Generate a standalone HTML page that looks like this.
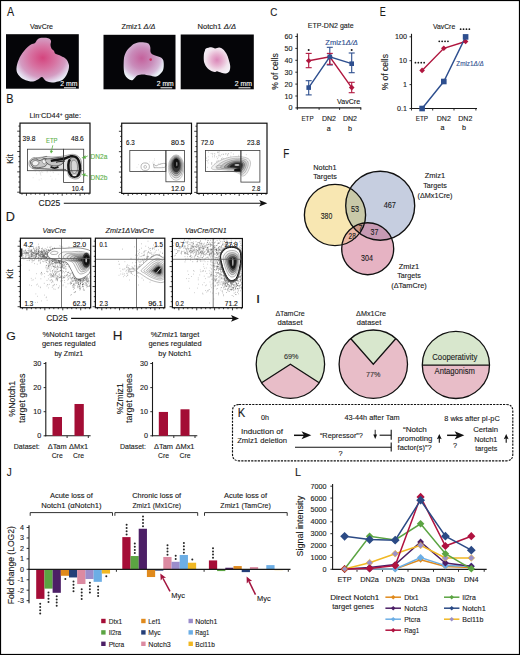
<!DOCTYPE html>
<html><head><meta charset="utf-8"><style>
html,body{margin:0;padding:0;background:#fff;}
svg{display:block;}
text{font-family:"Liberation Sans", sans-serif;}
</style></head><body>
<svg width="520" height="655" viewBox="0 0 520 655">
<defs><radialGradient id="g1" cx="0.5" cy="0.45" r="0.62"><stop offset="0" stop-color="#d4457e"/><stop offset="0.4" stop-color="#d773a2"/><stop offset="0.7" stop-color="#d49cc2"/><stop offset="0.88" stop-color="#e2d6ea"/><stop offset="1" stop-color="#f0f5fa"/></radialGradient>
<radialGradient id="g2" cx="0.45" cy="0.42" r="0.62"><stop offset="0" stop-color="#c4619c"/><stop offset="0.45" stop-color="#c98cba"/><stop offset="0.75" stop-color="#d6b9d8"/><stop offset="0.9" stop-color="#e6e8f2"/><stop offset="1" stop-color="#f2f6fa"/></radialGradient>
<radialGradient id="g3" cx="0.5" cy="0.48" r="0.6"><stop offset="0" stop-color="#da86b8"/><stop offset="0.35" stop-color="#e6b0cf"/><stop offset="0.7" stop-color="#f1e2ec"/><stop offset="1" stop-color="#f4f2f8"/></radialGradient><clipPath id="fc0"><rect x="20" y="123.1" width="70" height="70.1"/></clipPath><clipPath id="fc1"><rect x="121.7" y="123.2" width="69.8" height="70.2"/></clipPath><clipPath id="fc2"><rect x="197" y="123.2" width="70" height="70.2"/></clipPath><clipPath id="fc3"><rect x="20.4" y="238.2" width="70.30000000000001" height="69.5"/></clipPath><clipPath id="fc4"><rect x="95.4" y="238.2" width="69.4" height="69.5"/></clipPath><clipPath id="fc5"><rect x="172.4" y="238.5" width="70.0" height="69.19999999999999"/></clipPath><clipPath id="cY"><circle cx="335" cy="215" r="30.6"/></clipPath>
<clipPath id="cB"><circle cx="380.2" cy="205.7" r="34.5"/></clipPath>
<clipPath id="cP"><circle cx="367.7" cy="248.7" r="26"/></clipPath></defs>
<rect width="520" height="655" fill="#fff"/>
<rect x="0.5" y="0.5" width="519" height="654" fill="none" stroke="#000" stroke-width="1.2" />
<text x="7.08" y="16" font-size="12.2" text-anchor="start" fill="#1a1a1a" stroke="#1a1a1a" stroke-width="0.12" textLength="7.15" lengthAdjust="spacingAndGlyphs" >A</text>
<text x="6.3" y="102.7" font-size="12.0" text-anchor="start" fill="#1a1a1a" stroke="#1a1a1a" stroke-width="0.12" textLength="7.29" lengthAdjust="spacingAndGlyphs" >B</text>
<text x="270.3" y="16.1" font-size="10.4" text-anchor="start" fill="#1a1a1a" stroke="#1a1a1a" stroke-width="0.12" textLength="7.08" lengthAdjust="spacingAndGlyphs" >C</text>
<text x="5.86" y="220.6" font-size="12.3" text-anchor="start" fill="#1a1a1a" stroke="#1a1a1a" stroke-width="0.12" textLength="9.16" lengthAdjust="spacingAndGlyphs" >D</text>
<text x="379.76" y="15.9" font-size="12.2" text-anchor="start" fill="#1a1a1a" stroke="#1a1a1a" stroke-width="0.12" textLength="6.04" lengthAdjust="spacingAndGlyphs" >E</text>
<text x="283.19" y="157.5" font-size="11.9" text-anchor="start" fill="#1a1a1a" stroke="#1a1a1a" stroke-width="0.12" textLength="6.01" lengthAdjust="spacingAndGlyphs" >F</text>
<text x="6.39" y="340" font-size="11.8" text-anchor="start" fill="#1a1a1a" stroke="#1a1a1a" stroke-width="0.12" textLength="9.55" lengthAdjust="spacingAndGlyphs" >G</text>
<text x="112.65" y="340" font-size="12.2" text-anchor="start" fill="#1a1a1a" stroke="#1a1a1a" stroke-width="0.12" textLength="9.7" lengthAdjust="spacingAndGlyphs" >H</text>
<text x="255.9" y="302.7" font-size="11.5" text-anchor="start" fill="#1a1a1a" stroke="#1a1a1a" stroke-width="0.12" textLength="4.16" lengthAdjust="spacingAndGlyphs" >I</text>
<text x="6.74" y="475.9" font-size="11.3" text-anchor="start" fill="#1a1a1a" stroke="#1a1a1a" stroke-width="0.12" textLength="5.01" lengthAdjust="spacingAndGlyphs" >J</text>
<text x="237.68" y="417" font-size="12.2" text-anchor="start" fill="#1a1a1a" stroke="#1a1a1a" stroke-width="0.12" textLength="7.46" lengthAdjust="spacingAndGlyphs" >K</text>
<text x="295.12" y="475.9" font-size="11.3" text-anchor="start" fill="#1a1a1a" stroke="#1a1a1a" stroke-width="0.12" textLength="5.94" lengthAdjust="spacingAndGlyphs" >L</text>
<text x="41.5" y="28.7" font-size="7.5" text-anchor="middle" fill="#1a1a1a" stroke="#1a1a1a" stroke-width="0.12" textLength="23" lengthAdjust="spacingAndGlyphs" >VavCre</text>
<text x="121.5" y="29" font-size="7.5" text-anchor="start" fill="#1a1a1a" stroke="#1a1a1a" stroke-width="0.12" textLength="34" lengthAdjust="spacingAndGlyphs" >Zmiz1 <tspan font-style="italic">Δ/Δ</tspan></text>
<text x="197.5" y="29" font-size="7.5" text-anchor="start" fill="#1a1a1a" stroke="#1a1a1a" stroke-width="0.12" textLength="38.5" lengthAdjust="spacingAndGlyphs" >Notch1 <tspan font-style="italic">Δ/Δ</tspan></text>
<rect x="6" y="34.2" width="72.8" height="54.5" fill="#050508" stroke="none" stroke-width="1" />
<rect x="103.5" y="34.8" width="72" height="54.5" fill="#050508" stroke="none" stroke-width="1" />
<rect x="180.7" y="34.5" width="73.1" height="54.8" fill="#050508" stroke="none" stroke-width="1" />
<path d="M37.0,40.0 C37.8,39.2 38.7,38.4 40.0,38.0 C41.3,37.6 43.5,37.6 45.0,37.7 C46.5,37.8 48.0,38.0 49.0,38.5 C50.0,39.0 50.8,39.9 51.0,41.0 C51.2,42.1 50.4,43.8 50.5,45.0 C50.6,46.2 50.9,47.5 51.5,48.5 C52.1,49.5 53.3,50.1 54.0,51.0 C54.7,51.9 54.3,53.0 55.5,53.8 C56.7,54.6 59.2,55.1 61.0,56.0 C62.8,56.9 64.7,57.7 66.0,59.0 C67.3,60.3 68.2,62.3 68.7,64.0 C69.2,65.7 69.1,67.2 68.7,69.0 C68.3,70.8 67.5,73.2 66.5,75.0 C65.5,76.8 64.4,78.4 63.0,79.5 C61.6,80.6 59.8,81.0 58.0,81.5 C56.2,82.0 54.0,82.6 52.0,82.5 C50.0,82.4 47.7,81.9 46.0,81.0 C44.3,80.1 43.3,77.2 42.0,77.0 C40.7,76.8 39.5,78.8 38.0,79.5 C36.5,80.2 34.6,81.2 33.0,81.5 C31.4,81.8 30.2,81.4 28.5,81.0 C26.8,80.6 24.7,80.0 23.0,79.0 C21.3,78.0 19.6,76.5 18.5,75.0 C17.4,73.5 16.7,72.0 16.5,70.0 C16.3,68.0 16.8,65.3 17.5,63.0 C18.2,60.7 19.4,58.0 20.5,56.0 C21.6,54.0 22.9,52.5 24.0,51.0 C25.1,49.5 26.2,48.3 27.4,47.2 C28.6,46.1 29.7,45.2 31.0,44.5 C32.3,43.8 34.0,43.8 35.0,43.0 C36.0,42.2 36.2,40.8 37.0,40.0Z" fill="url(#g1)" stroke="none" stroke-width="1" />
<path d="M141.1,42.3 C143.2,42.3 146.3,42.6 147.8,43.3 C149.3,44.0 149.7,45.2 150.2,46.7 C150.7,48.2 150.0,51.0 150.7,52.4 C151.4,53.8 152.9,54.5 154.5,55.3 C156.1,56.1 158.9,56.4 160.3,57.2 C161.8,58.0 162.6,58.5 163.2,60.1 C163.8,61.7 163.9,64.9 163.7,66.8 C163.5,68.7 163.4,70.1 162.2,71.7 C161.0,73.3 158.6,75.9 156.5,76.5 C154.4,77.1 151.9,75.8 149.7,75.5 C147.4,75.2 145.1,74.5 143.0,74.5 C140.9,74.5 139.1,74.5 137.2,75.5 C135.3,76.5 133.6,80.5 131.5,80.3 C129.4,80.1 126.0,77.9 124.7,74.5 C123.4,71.1 123.6,63.9 123.8,60.1 C124.0,56.4 124.9,54.2 126.0,52.0 C127.1,49.8 129.0,48.1 130.5,46.7 C132.0,45.3 133.2,44.2 135.0,43.5 C136.8,42.8 139.0,42.3 141.1,42.3Z" fill="url(#g2)" stroke="none" stroke-width="1" />
<circle cx="150.7" cy="59.6" r="1.3" fill="#d02050" opacity="0.8"/>
<path d="M206.0,48.6 C207.1,48.0 209.7,47.3 211.2,47.3 C212.7,47.3 213.9,48.4 215.2,48.4 C216.5,48.4 217.9,47.4 219.2,47.5 C220.5,47.6 221.7,48.3 222.9,49.3 C224.1,50.3 225.5,52.0 226.5,53.7 C227.5,55.4 228.1,57.4 228.7,59.5 C229.3,61.6 230.1,64.1 230.2,66.1 C230.3,68.0 230.1,70.0 229.4,71.2 C228.7,72.4 227.1,73.2 225.8,73.4 C224.5,73.7 222.9,73.1 221.4,72.7 C219.9,72.3 218.1,71.3 217.0,71.2 C215.9,71.1 215.7,72.0 214.8,72.0 C214.0,72.0 213.1,71.8 211.9,71.2 C210.7,70.6 208.8,69.8 207.5,68.3 C206.2,66.8 204.8,64.7 204.2,62.5 C203.6,60.3 203.7,57.2 203.8,55.2 C203.9,53.2 204.5,51.9 204.9,50.8 C205.3,49.7 204.9,49.2 206.0,48.6Z" fill="url(#g3)" stroke="none" stroke-width="1" />
<text x="60.3" y="85.8" font-size="7.3" text-anchor="start" fill="#fff" stroke="#fff" stroke-width="0.12" textLength="17.200000000000003" lengthAdjust="spacingAndGlyphs" >2 mm</text>
<line x1="64" y1="87.8" x2="76" y2="87.8" stroke="#fff" stroke-width="1" />
<text x="156.8" y="86.1" font-size="7.3" text-anchor="start" fill="#fff" stroke="#fff" stroke-width="0.12" textLength="16.899999999999977" lengthAdjust="spacingAndGlyphs" >2 mm</text>
<line x1="160.5" y1="87.8" x2="172.2" y2="87.8" stroke="#fff" stroke-width="1" />
<text x="234.8" y="86.1" font-size="7.3" text-anchor="start" fill="#fff" stroke="#fff" stroke-width="0.12" textLength="17.19999999999999" lengthAdjust="spacingAndGlyphs" >2 mm</text>
<line x1="238.5" y1="87.8" x2="250.5" y2="87.8" stroke="#fff" stroke-width="1" />
<text x="307.8" y="28.4" font-size="7.4" text-anchor="start" fill="#1a1a1a" stroke="#1a1a1a" stroke-width="0.12" textLength="45.8" lengthAdjust="spacingAndGlyphs" >ETP-DN2 gate</text>
<line x1="297.3" y1="33.5" x2="297.3" y2="108.4" stroke="#1a1a1a" stroke-width="1.1" />
<line x1="295.3" y1="107.9" x2="297.3" y2="107.9" stroke="#1a1a1a" stroke-width="0.9" />
<text x="292.6" y="110.4" font-size="7.2" text-anchor="end" fill="#1a1a1a" stroke="#1a1a1a" stroke-width="0.12" >0</text>
<line x1="295.3" y1="96.0" x2="297.3" y2="96.0" stroke="#1a1a1a" stroke-width="0.9" />
<text x="292.6" y="98.5" font-size="7.2" text-anchor="end" fill="#1a1a1a" stroke="#1a1a1a" stroke-width="0.12" >10</text>
<line x1="295.3" y1="84.10000000000001" x2="297.3" y2="84.10000000000001" stroke="#1a1a1a" stroke-width="0.9" />
<text x="292.6" y="86.60000000000001" font-size="7.2" text-anchor="end" fill="#1a1a1a" stroke="#1a1a1a" stroke-width="0.12" >20</text>
<line x1="295.3" y1="72.20000000000002" x2="297.3" y2="72.20000000000002" stroke="#1a1a1a" stroke-width="0.9" />
<text x="292.6" y="74.70000000000002" font-size="7.2" text-anchor="end" fill="#1a1a1a" stroke="#1a1a1a" stroke-width="0.12" >30</text>
<line x1="295.3" y1="60.30000000000001" x2="297.3" y2="60.30000000000001" stroke="#1a1a1a" stroke-width="0.9" />
<text x="292.6" y="62.80000000000001" font-size="7.2" text-anchor="end" fill="#1a1a1a" stroke="#1a1a1a" stroke-width="0.12" >40</text>
<line x1="295.3" y1="48.400000000000006" x2="297.3" y2="48.400000000000006" stroke="#1a1a1a" stroke-width="0.9" />
<text x="292.6" y="50.900000000000006" font-size="7.2" text-anchor="end" fill="#1a1a1a" stroke="#1a1a1a" stroke-width="0.12" >50</text>
<line x1="295.3" y1="36.500000000000014" x2="297.3" y2="36.500000000000014" stroke="#1a1a1a" stroke-width="0.9" />
<text x="292.6" y="39.000000000000014" font-size="7.2" text-anchor="end" fill="#1a1a1a" stroke="#1a1a1a" stroke-width="0.12" >60</text>
<line x1="296.8" y1="107.9" x2="361.3" y2="107.9" stroke="#1a1a1a" stroke-width="1.1" />
<line x1="297.3" y1="107.9" x2="297.3" y2="109.9" stroke="#1a1a1a" stroke-width="0.9" />
<line x1="319.1" y1="107.9" x2="319.1" y2="109.9" stroke="#1a1a1a" stroke-width="0.9" />
<line x1="339.6" y1="107.9" x2="339.6" y2="109.9" stroke="#1a1a1a" stroke-width="0.9" />
<line x1="360.8" y1="107.9" x2="360.8" y2="109.9" stroke="#1a1a1a" stroke-width="0.9" />
<line x1="308.7" y1="80.7" x2="308.7" y2="94.9" stroke="#2e4f8f" stroke-width="1.1" />
<line x1="305.7" y1="80.7" x2="311.7" y2="80.7" stroke="#2e4f8f" stroke-width="1.1" />
<line x1="305.7" y1="94.9" x2="311.7" y2="94.9" stroke="#2e4f8f" stroke-width="1.1" />
<line x1="329.8" y1="47.3" x2="329.8" y2="65" stroke="#2e4f8f" stroke-width="1.1" />
<line x1="326.8" y1="47.3" x2="332.8" y2="47.3" stroke="#2e4f8f" stroke-width="1.1" />
<line x1="326.8" y1="65" x2="332.8" y2="65" stroke="#2e4f8f" stroke-width="1.1" />
<line x1="351.7" y1="53" x2="351.7" y2="72.7" stroke="#2e4f8f" stroke-width="1.1" />
<line x1="348.7" y1="53" x2="354.7" y2="53" stroke="#2e4f8f" stroke-width="1.1" />
<line x1="348.7" y1="72.7" x2="354.7" y2="72.7" stroke="#2e4f8f" stroke-width="1.1" />
<line x1="308.7" y1="53.4" x2="308.7" y2="67.7" stroke="#b0173f" stroke-width="1.1" />
<line x1="305.7" y1="53.4" x2="311.7" y2="53.4" stroke="#b0173f" stroke-width="1.1" />
<line x1="305.7" y1="67.7" x2="311.7" y2="67.7" stroke="#b0173f" stroke-width="1.1" />
<line x1="329.8" y1="53.4" x2="329.8" y2="64.3" stroke="#b0173f" stroke-width="1.1" />
<line x1="326.8" y1="53.4" x2="332.8" y2="53.4" stroke="#b0173f" stroke-width="1.1" />
<line x1="326.8" y1="64.3" x2="332.8" y2="64.3" stroke="#b0173f" stroke-width="1.1" />
<line x1="351.7" y1="82.3" x2="351.7" y2="92.7" stroke="#b0173f" stroke-width="1.1" />
<line x1="348.7" y1="82.3" x2="354.7" y2="82.3" stroke="#b0173f" stroke-width="1.1" />
<line x1="348.7" y1="92.7" x2="354.7" y2="92.7" stroke="#b0173f" stroke-width="1.1" />
<path d="M308.7,60.8 L329.8,56.8 L351.7,87.6" fill="none" stroke="#b0173f" stroke-width="1.4" />
<path d="M308.7,87.6 L329.8,56.8 L351.7,63.7" fill="none" stroke="#2e4f8f" stroke-width="1.4" />
<path d="M308.7,58.0 L311.5,60.8 L308.7,63.599999999999994 L305.9,60.8Z" fill="#b0173f" stroke="none" stroke-width="0" />
<path d="M329.8,54.0 L332.6,56.8 L329.8,59.599999999999994 L327.0,56.8Z" fill="#b0173f" stroke="none" stroke-width="0" />
<path d="M351.7,84.8 L354.5,87.6 L351.7,90.39999999999999 L348.9,87.6Z" fill="#b0173f" stroke="none" stroke-width="0" />
<rect x="306.4" y="85.3" width="4.6" height="4.6" fill="#2e4f8f" stroke="none" stroke-width="1" />
<rect x="327.5" y="54.5" width="4.6" height="4.6" fill="#2e4f8f" stroke="none" stroke-width="1" />
<rect x="349.4" y="61.400000000000006" width="4.6" height="4.6" fill="#2e4f8f" stroke="none" stroke-width="1" />
<circle cx="308.7" cy="50" r="1" fill="#1a1a1a"/>
<circle cx="351.7" cy="50" r="1" fill="#1a1a1a"/>
<text x="325.3" y="44.7" font-size="7.3" text-anchor="start" fill="#2e4f8f" stroke="#2e4f8f" stroke-width="0.12" textLength="32.6" lengthAdjust="spacingAndGlyphs" >Zmiz1<tspan font-style="italic">Δ/Δ</tspan></text>
<text x="337.1" y="104" font-size="7.3" text-anchor="start" fill="#1a1a1a" stroke="#1a1a1a" stroke-width="0.12" textLength="23" lengthAdjust="spacingAndGlyphs" >VavCre</text>
<text x="307.5" y="121" font-size="7.2" text-anchor="middle" fill="#1a1a1a" stroke="#1a1a1a" stroke-width="0.12" textLength="12.1" lengthAdjust="spacingAndGlyphs" >ETP</text>
<text x="329" y="121" font-size="7.2" text-anchor="middle" fill="#1a1a1a" stroke="#1a1a1a" stroke-width="0.12" textLength="14.1" lengthAdjust="spacingAndGlyphs" >DN2</text>
<text x="350" y="121" font-size="7.2" text-anchor="middle" fill="#1a1a1a" stroke="#1a1a1a" stroke-width="0.12" textLength="14.1" lengthAdjust="spacingAndGlyphs" >DN2</text>
<text x="328.8" y="130.5" font-size="7.2" text-anchor="middle" fill="#1a1a1a" stroke="#1a1a1a" stroke-width="0.12" >a</text>
<text x="350" y="130.5" font-size="7.2" text-anchor="middle" fill="#1a1a1a" stroke="#1a1a1a" stroke-width="0.12" >b</text>
<text x="0" y="0" font-size="9" text-anchor="middle" fill="#1a1a1a" stroke="#1a1a1a" stroke-width="0.12" textLength="36.3" lengthAdjust="spacingAndGlyphs" transform="translate(278.3,71.5) rotate(-90)">% of cells</text>
<line x1="411.5" y1="33.8" x2="411.5" y2="108.8" stroke="#1a1a1a" stroke-width="1.1" />
<line x1="409.5" y1="108.5" x2="411.5" y2="108.5" stroke="#1a1a1a" stroke-width="0.9" />
<text x="406.9" y="111.0" font-size="7.2" text-anchor="end" fill="#1a1a1a" stroke="#1a1a1a" stroke-width="0.12" >0.1</text>
<line x1="409.5" y1="84.6" x2="411.5" y2="84.6" stroke="#1a1a1a" stroke-width="0.9" />
<text x="406.9" y="87.1" font-size="7.2" text-anchor="end" fill="#1a1a1a" stroke="#1a1a1a" stroke-width="0.12" >1</text>
<line x1="409.5" y1="60.7" x2="411.5" y2="60.7" stroke="#1a1a1a" stroke-width="0.9" />
<text x="406.9" y="63.2" font-size="7.2" text-anchor="end" fill="#1a1a1a" stroke="#1a1a1a" stroke-width="0.12" >10</text>
<line x1="409.5" y1="36.80000000000001" x2="411.5" y2="36.80000000000001" stroke="#1a1a1a" stroke-width="0.9" />
<text x="406.9" y="39.30000000000001" font-size="7.2" text-anchor="end" fill="#1a1a1a" stroke="#1a1a1a" stroke-width="0.12" >100</text>
<line x1="411.0" y1="108.5" x2="477" y2="108.5" stroke="#1a1a1a" stroke-width="1.1" />
<line x1="411.5" y1="108.5" x2="411.5" y2="110.5" stroke="#1a1a1a" stroke-width="0.9" />
<line x1="432.7" y1="108.5" x2="432.7" y2="110.5" stroke="#1a1a1a" stroke-width="0.9" />
<line x1="454" y1="108.5" x2="454" y2="110.5" stroke="#1a1a1a" stroke-width="0.9" />
<line x1="475.9" y1="108.5" x2="475.9" y2="110.5" stroke="#1a1a1a" stroke-width="0.9" />
<path d="M422.1,70.4 L443.8,48.3 L465.6,41.5" fill="none" stroke="#b0173f" stroke-width="1.4" />
<path d="M422.1,108.5 L443.8,81.5 L465.6,36.9" fill="none" stroke="#2e4f8f" stroke-width="1.4" />
<path d="M422.1,67.60000000000001 L424.90000000000003,70.4 L422.1,73.2 L419.3,70.4Z" fill="#b0173f" stroke="none" stroke-width="0" />
<path d="M443.8,45.5 L446.6,48.3 L443.8,51.099999999999994 L441.0,48.3Z" fill="#b0173f" stroke="none" stroke-width="0" />
<path d="M465.6,38.7 L468.40000000000003,41.5 L465.6,44.3 L462.8,41.5Z" fill="#b0173f" stroke="none" stroke-width="0" />
<rect x="419.3" y="105.7" width="5.6" height="5.6" fill="#2e4f8f" stroke="none" stroke-width="1" />
<rect x="441.0" y="78.7" width="5.6" height="5.6" fill="#2e4f8f" stroke="none" stroke-width="1" />
<rect x="462.8" y="34.1" width="5.6" height="5.6" fill="#2e4f8f" stroke="none" stroke-width="1" />
<circle cx="415.45" cy="62.7" r="0.9" fill="#1a1a1a"/>
<circle cx="418.35" cy="62.7" r="0.9" fill="#1a1a1a"/>
<circle cx="421.25" cy="62.7" r="0.9" fill="#1a1a1a"/>
<circle cx="424.15" cy="62.7" r="0.9" fill="#1a1a1a"/>
<circle cx="439.25" cy="41.3" r="0.9" fill="#1a1a1a"/>
<circle cx="442.15" cy="41.3" r="0.9" fill="#1a1a1a"/>
<circle cx="445.05" cy="41.3" r="0.9" fill="#1a1a1a"/>
<circle cx="447.95" cy="41.3" r="0.9" fill="#1a1a1a"/>
<circle cx="460.65" cy="29.2" r="0.9" fill="#1a1a1a"/>
<circle cx="463.55" cy="29.2" r="0.9" fill="#1a1a1a"/>
<circle cx="466.45" cy="29.2" r="0.9" fill="#1a1a1a"/>
<circle cx="469.35" cy="29.2" r="0.9" fill="#1a1a1a"/>
<text x="432.9" y="28.7" font-size="7.5" text-anchor="start" fill="#1a1a1a" stroke="#1a1a1a" stroke-width="0.12" textLength="22.3" lengthAdjust="spacingAndGlyphs" >VavCre</text>
<text x="456.3" y="66" font-size="7.3" text-anchor="start" fill="#2e4f8f" stroke="#2e4f8f" stroke-width="0.12" textLength="27.5" lengthAdjust="spacingAndGlyphs" >Zmiz1<tspan font-style="italic">Δ/Δ</tspan></text>
<text x="421.9" y="120.8" font-size="7.2" text-anchor="middle" fill="#1a1a1a" stroke="#1a1a1a" stroke-width="0.12" textLength="12.3" lengthAdjust="spacingAndGlyphs" >ETP</text>
<text x="443.8" y="120.8" font-size="7.2" text-anchor="middle" fill="#1a1a1a" stroke="#1a1a1a" stroke-width="0.12" textLength="14.1" lengthAdjust="spacingAndGlyphs" >DN2</text>
<text x="465.3" y="120.8" font-size="7.2" text-anchor="middle" fill="#1a1a1a" stroke="#1a1a1a" stroke-width="0.12" textLength="14.1" lengthAdjust="spacingAndGlyphs" >DN2</text>
<text x="442.6" y="130.3" font-size="7.2" text-anchor="middle" fill="#1a1a1a" stroke="#1a1a1a" stroke-width="0.12" >a</text>
<text x="464.1" y="130.3" font-size="7.2" text-anchor="middle" fill="#1a1a1a" stroke="#1a1a1a" stroke-width="0.12" >b</text>
<text x="0" y="0" font-size="9" text-anchor="middle" fill="#1a1a1a" stroke="#1a1a1a" stroke-width="0.12" textLength="36.3" lengthAdjust="spacingAndGlyphs" transform="translate(387.6,72.2) rotate(-90)">% of cells</text>
<text x="29.5" y="118.3" font-size="7.5" text-anchor="start" fill="#1a1a1a" stroke="#1a1a1a" stroke-width="0.12" textLength="51.5" lengthAdjust="spacingAndGlyphs" >Lin<tspan font-size="5" dy="-2.5">-</tspan><tspan dy="2.5">CD44</tspan><tspan font-size="5" dy="-2.5">+</tspan><tspan dy="2.5"> gate:</tspan></text>
<line x1="18.4" y1="126.1" x2="20" y2="126.1" stroke="#111" stroke-width="0.8" />
<line x1="17.2" y1="131.18461538461537" x2="20" y2="131.18461538461537" stroke="#111" stroke-width="0.8" />
<line x1="18.4" y1="136.26923076923077" x2="20" y2="136.26923076923077" stroke="#111" stroke-width="0.8" />
<line x1="18.4" y1="141.35384615384615" x2="20" y2="141.35384615384615" stroke="#111" stroke-width="0.8" />
<line x1="18.4" y1="146.43846153846152" x2="20" y2="146.43846153846152" stroke="#111" stroke-width="0.8" />
<line x1="17.2" y1="151.52307692307693" x2="20" y2="151.52307692307693" stroke="#111" stroke-width="0.8" />
<line x1="18.4" y1="156.6076923076923" x2="20" y2="156.6076923076923" stroke="#111" stroke-width="0.8" />
<line x1="18.4" y1="161.69230769230768" x2="20" y2="161.69230769230768" stroke="#111" stroke-width="0.8" />
<line x1="18.4" y1="166.77692307692308" x2="20" y2="166.77692307692308" stroke="#111" stroke-width="0.8" />
<line x1="17.2" y1="171.86153846153846" x2="20" y2="171.86153846153846" stroke="#111" stroke-width="0.8" />
<line x1="18.4" y1="176.94615384615383" x2="20" y2="176.94615384615383" stroke="#111" stroke-width="0.8" />
<line x1="18.4" y1="182.0307692307692" x2="20" y2="182.0307692307692" stroke="#111" stroke-width="0.8" />
<line x1="18.4" y1="187.1153846153846" x2="20" y2="187.1153846153846" stroke="#111" stroke-width="0.8" />
<line x1="17.2" y1="192.2" x2="20" y2="192.2" stroke="#111" stroke-width="0.8" />
<line x1="22.0" y1="193.2" x2="22.0" y2="194.7" stroke="#111" stroke-width="0.8" />
<line x1="26.46666666666667" y1="193.2" x2="26.46666666666667" y2="195.79999999999998" stroke="#111" stroke-width="0.8" />
<line x1="30.933333333333334" y1="193.2" x2="30.933333333333334" y2="194.7" stroke="#111" stroke-width="0.8" />
<line x1="35.4" y1="193.2" x2="35.4" y2="194.7" stroke="#111" stroke-width="0.8" />
<line x1="39.86666666666667" y1="193.2" x2="39.86666666666667" y2="194.7" stroke="#111" stroke-width="0.8" />
<line x1="44.33333333333333" y1="193.2" x2="44.33333333333333" y2="195.79999999999998" stroke="#111" stroke-width="0.8" />
<line x1="48.8" y1="193.2" x2="48.8" y2="194.7" stroke="#111" stroke-width="0.8" />
<line x1="53.266666666666666" y1="193.2" x2="53.266666666666666" y2="194.7" stroke="#111" stroke-width="0.8" />
<line x1="57.733333333333334" y1="193.2" x2="57.733333333333334" y2="194.7" stroke="#111" stroke-width="0.8" />
<line x1="62.2" y1="193.2" x2="62.2" y2="195.79999999999998" stroke="#111" stroke-width="0.8" />
<line x1="66.66666666666666" y1="193.2" x2="66.66666666666666" y2="194.7" stroke="#111" stroke-width="0.8" />
<line x1="71.13333333333333" y1="193.2" x2="71.13333333333333" y2="194.7" stroke="#111" stroke-width="0.8" />
<line x1="75.6" y1="193.2" x2="75.6" y2="194.7" stroke="#111" stroke-width="0.8" />
<line x1="80.06666666666666" y1="193.2" x2="80.06666666666666" y2="195.79999999999998" stroke="#111" stroke-width="0.8" />
<line x1="84.53333333333333" y1="193.2" x2="84.53333333333333" y2="194.7" stroke="#111" stroke-width="0.8" />
<line x1="89.0" y1="193.2" x2="89.0" y2="194.7" stroke="#111" stroke-width="0.8" />
<line x1="120.10000000000001" y1="126.2" x2="121.7" y2="126.2" stroke="#111" stroke-width="0.8" />
<line x1="118.9" y1="131.2923076923077" x2="121.7" y2="131.2923076923077" stroke="#111" stroke-width="0.8" />
<line x1="120.10000000000001" y1="136.3846153846154" x2="121.7" y2="136.3846153846154" stroke="#111" stroke-width="0.8" />
<line x1="120.10000000000001" y1="141.47692307692307" x2="121.7" y2="141.47692307692307" stroke="#111" stroke-width="0.8" />
<line x1="120.10000000000001" y1="146.56923076923078" x2="121.7" y2="146.56923076923078" stroke="#111" stroke-width="0.8" />
<line x1="118.9" y1="151.66153846153847" x2="121.7" y2="151.66153846153847" stroke="#111" stroke-width="0.8" />
<line x1="120.10000000000001" y1="156.75384615384615" x2="121.7" y2="156.75384615384615" stroke="#111" stroke-width="0.8" />
<line x1="120.10000000000001" y1="161.84615384615387" x2="121.7" y2="161.84615384615387" stroke="#111" stroke-width="0.8" />
<line x1="120.10000000000001" y1="166.93846153846155" x2="121.7" y2="166.93846153846155" stroke="#111" stroke-width="0.8" />
<line x1="118.9" y1="172.03076923076924" x2="121.7" y2="172.03076923076924" stroke="#111" stroke-width="0.8" />
<line x1="120.10000000000001" y1="177.12307692307692" x2="121.7" y2="177.12307692307692" stroke="#111" stroke-width="0.8" />
<line x1="120.10000000000001" y1="182.2153846153846" x2="121.7" y2="182.2153846153846" stroke="#111" stroke-width="0.8" />
<line x1="120.10000000000001" y1="187.30769230769232" x2="121.7" y2="187.30769230769232" stroke="#111" stroke-width="0.8" />
<line x1="118.9" y1="192.4" x2="121.7" y2="192.4" stroke="#111" stroke-width="0.8" />
<line x1="123.7" y1="193.4" x2="123.7" y2="194.9" stroke="#111" stroke-width="0.8" />
<line x1="128.15333333333334" y1="193.4" x2="128.15333333333334" y2="196.0" stroke="#111" stroke-width="0.8" />
<line x1="132.60666666666668" y1="193.4" x2="132.60666666666668" y2="194.9" stroke="#111" stroke-width="0.8" />
<line x1="137.06" y1="193.4" x2="137.06" y2="194.9" stroke="#111" stroke-width="0.8" />
<line x1="141.51333333333332" y1="193.4" x2="141.51333333333332" y2="194.9" stroke="#111" stroke-width="0.8" />
<line x1="145.96666666666667" y1="193.4" x2="145.96666666666667" y2="196.0" stroke="#111" stroke-width="0.8" />
<line x1="150.42" y1="193.4" x2="150.42" y2="194.9" stroke="#111" stroke-width="0.8" />
<line x1="154.87333333333333" y1="193.4" x2="154.87333333333333" y2="194.9" stroke="#111" stroke-width="0.8" />
<line x1="159.32666666666665" y1="193.4" x2="159.32666666666665" y2="194.9" stroke="#111" stroke-width="0.8" />
<line x1="163.78" y1="193.4" x2="163.78" y2="196.0" stroke="#111" stroke-width="0.8" />
<line x1="168.23333333333335" y1="193.4" x2="168.23333333333335" y2="194.9" stroke="#111" stroke-width="0.8" />
<line x1="172.68666666666667" y1="193.4" x2="172.68666666666667" y2="194.9" stroke="#111" stroke-width="0.8" />
<line x1="177.14" y1="193.4" x2="177.14" y2="194.9" stroke="#111" stroke-width="0.8" />
<line x1="181.59333333333333" y1="193.4" x2="181.59333333333333" y2="196.0" stroke="#111" stroke-width="0.8" />
<line x1="186.04666666666668" y1="193.4" x2="186.04666666666668" y2="194.9" stroke="#111" stroke-width="0.8" />
<line x1="190.5" y1="193.4" x2="190.5" y2="194.9" stroke="#111" stroke-width="0.8" />
<line x1="195.4" y1="126.2" x2="197" y2="126.2" stroke="#111" stroke-width="0.8" />
<line x1="194.2" y1="131.2923076923077" x2="197" y2="131.2923076923077" stroke="#111" stroke-width="0.8" />
<line x1="195.4" y1="136.3846153846154" x2="197" y2="136.3846153846154" stroke="#111" stroke-width="0.8" />
<line x1="195.4" y1="141.47692307692307" x2="197" y2="141.47692307692307" stroke="#111" stroke-width="0.8" />
<line x1="195.4" y1="146.56923076923078" x2="197" y2="146.56923076923078" stroke="#111" stroke-width="0.8" />
<line x1="194.2" y1="151.66153846153847" x2="197" y2="151.66153846153847" stroke="#111" stroke-width="0.8" />
<line x1="195.4" y1="156.75384615384615" x2="197" y2="156.75384615384615" stroke="#111" stroke-width="0.8" />
<line x1="195.4" y1="161.84615384615387" x2="197" y2="161.84615384615387" stroke="#111" stroke-width="0.8" />
<line x1="195.4" y1="166.93846153846155" x2="197" y2="166.93846153846155" stroke="#111" stroke-width="0.8" />
<line x1="194.2" y1="172.03076923076924" x2="197" y2="172.03076923076924" stroke="#111" stroke-width="0.8" />
<line x1="195.4" y1="177.12307692307692" x2="197" y2="177.12307692307692" stroke="#111" stroke-width="0.8" />
<line x1="195.4" y1="182.2153846153846" x2="197" y2="182.2153846153846" stroke="#111" stroke-width="0.8" />
<line x1="195.4" y1="187.30769230769232" x2="197" y2="187.30769230769232" stroke="#111" stroke-width="0.8" />
<line x1="194.2" y1="192.4" x2="197" y2="192.4" stroke="#111" stroke-width="0.8" />
<line x1="199.0" y1="193.4" x2="199.0" y2="194.9" stroke="#111" stroke-width="0.8" />
<line x1="203.46666666666667" y1="193.4" x2="203.46666666666667" y2="196.0" stroke="#111" stroke-width="0.8" />
<line x1="207.93333333333334" y1="193.4" x2="207.93333333333334" y2="194.9" stroke="#111" stroke-width="0.8" />
<line x1="212.4" y1="193.4" x2="212.4" y2="194.9" stroke="#111" stroke-width="0.8" />
<line x1="216.86666666666667" y1="193.4" x2="216.86666666666667" y2="194.9" stroke="#111" stroke-width="0.8" />
<line x1="221.33333333333334" y1="193.4" x2="221.33333333333334" y2="196.0" stroke="#111" stroke-width="0.8" />
<line x1="225.8" y1="193.4" x2="225.8" y2="194.9" stroke="#111" stroke-width="0.8" />
<line x1="230.26666666666665" y1="193.4" x2="230.26666666666665" y2="194.9" stroke="#111" stroke-width="0.8" />
<line x1="234.73333333333335" y1="193.4" x2="234.73333333333335" y2="194.9" stroke="#111" stroke-width="0.8" />
<line x1="239.2" y1="193.4" x2="239.2" y2="196.0" stroke="#111" stroke-width="0.8" />
<line x1="243.66666666666666" y1="193.4" x2="243.66666666666666" y2="194.9" stroke="#111" stroke-width="0.8" />
<line x1="248.13333333333333" y1="193.4" x2="248.13333333333333" y2="194.9" stroke="#111" stroke-width="0.8" />
<line x1="252.6" y1="193.4" x2="252.6" y2="194.9" stroke="#111" stroke-width="0.8" />
<line x1="257.06666666666666" y1="193.4" x2="257.06666666666666" y2="196.0" stroke="#111" stroke-width="0.8" />
<line x1="261.5333333333333" y1="193.4" x2="261.5333333333333" y2="194.9" stroke="#111" stroke-width="0.8" />
<line x1="266.0" y1="193.4" x2="266.0" y2="194.9" stroke="#111" stroke-width="0.8" />
<g clip-path="url(#fc0)">
<path d="M40.9,178.8h0.6M46.8,172.7h0.6M38.8,179.9h0.6M51.7,179.1h0.6M41.1,171.8h0.6M47.2,171.2h0.6M40.7,175.2h0.6M40.5,172.9h0.6M40.4,174.2h0.6M36.2,173.9h0.6M55.5,179.0h0.6M50.5,176.3h0.6M39.8,173.1h0.6M57.9,174.2h0.6M52.7,172.0h0.6M32.8,177.7h0.6M42.5,172.3h0.6M50.0,171.1h0.6M46.7,171.1h0.6M38.9,171.6h0.6M34.9,171.2h0.6M53.4,172.7h0.6" fill="none" stroke="#888" stroke-width="0.6" stroke-linecap="butt" opacity="0.6"/>
<path d="M29.5,161.0 C30.2,159.6 32.2,157.9 34.0,157.5 C35.8,157.1 38.2,158.7 40.0,158.5 C41.8,158.3 43.0,156.8 45.0,156.5 C47.0,156.2 49.5,157.0 52.0,157.0 C54.5,157.0 57.7,156.8 60.0,156.5 C62.3,156.2 64.0,155.9 66.0,155.5 C68.0,155.1 70.2,154.3 72.0,154.3 C73.8,154.3 75.5,154.6 77.0,155.5 C78.5,156.4 80.2,157.6 81.0,160.0 C81.8,162.4 81.7,167.2 81.5,170.0 C81.3,172.8 81.1,175.5 80.0,177.0 C78.9,178.5 76.8,179.1 75.0,179.0 C73.2,178.9 70.3,177.8 69.0,176.5 C67.7,175.2 68.2,172.1 67.0,171.0 C65.8,169.9 64.0,170.1 62.0,170.0 C60.0,169.9 57.3,170.6 55.0,170.5 C52.7,170.4 50.3,169.8 48.0,169.5 C45.7,169.2 43.3,169.1 41.0,169.0 C38.7,168.9 35.9,169.5 34.0,169.0 C32.1,168.5 30.2,167.3 29.5,166.0 C28.8,164.7 28.8,162.4 29.5,161.0Z" fill="#e0e0e0" stroke="#777" stroke-width="0.6" />
<path d="M30.5,161.5 C30.8,160.1 33.4,159.0 35.0,158.8 C36.6,158.6 38.5,160.6 40.0,160.5 C41.5,160.4 42.7,158.6 44.0,158.5 C45.3,158.4 47.7,158.8 48.0,160.0 C48.3,161.2 47.3,164.2 46.0,165.5 C44.7,166.8 42.2,167.2 40.0,167.5 C37.8,167.8 34.6,168.0 33.0,167.0 C31.4,166.0 30.2,162.9 30.5,161.5Z" fill="#c8c8c8" stroke="#333" stroke-width="0.7" />
<path d="M32.0,162.5 C32.3,161.7 34.3,160.5 35.5,160.5 C36.7,160.5 38.8,161.7 39.0,162.5 C39.2,163.3 37.9,165.0 37.0,165.5 C36.1,166.0 34.3,166.0 33.5,165.5 C32.7,165.0 31.7,163.3 32.0,162.5Z" fill="#f2f2f2" stroke="#444" stroke-width="0.6" />
<path d="M45.0,159.5 C45.7,158.6 49.8,158.8 52.0,158.5 C54.2,158.2 56.0,157.6 58.0,157.6 C60.0,157.6 63.3,157.4 64.0,158.5 C64.7,159.6 63.5,162.8 62.0,164.0 C60.5,165.2 57.3,166.0 55.0,166.0 C52.7,166.0 49.7,165.1 48.0,164.0 C46.3,162.9 44.3,160.4 45.0,159.5Z" fill="#c4c4c4" stroke="#333" stroke-width="0.7" />
<path d="M42.0,161.0 C42.0,160.2 43.3,159.3 44.0,159.5 C44.7,159.7 46.0,161.2 46.0,162.0 C46.0,162.8 44.7,164.2 44.0,164.0 C43.3,163.8 42.0,161.8 42.0,161.0Z" fill="#f4f4f4" stroke="#555" stroke-width="0.5" />
<path d="M36,158.3 C40,156.8 44,157.5 47,156.3" fill="none" stroke="#555" stroke-width="0.6" />
<path d="M32,167.8 C38,169 46,168.6 52,169.2 C58,169.8 62,169 66,169.5" fill="none" stroke="#444" stroke-width="0.7" />
<path d="M70.0,159.0 C71.0,157.4 73.5,157.2 75.0,157.5 C76.5,157.8 78.2,158.9 79.0,161.0 C79.8,163.1 80.1,167.5 79.6,170.0 C79.1,172.5 77.4,175.2 76.0,176.0 C74.6,176.8 72.2,176.0 71.0,174.5 C69.8,173.0 69.0,169.6 68.8,167.0 C68.6,164.4 69.0,160.6 70.0,159.0Z" fill="#bbb" stroke="#333" stroke-width="0.6" />
<path d="M50.8,160.9 C55,160 60,159.5 63,159 C66,158.5 67.5,157 70.5,156.3 C74,155.6 77.5,157 79,161.5 C80.4,166 80.5,171 78.6,175 C77,177 73.5,177.3 71,175.5 C69,173.5 68.3,169 68.3,165 C68.3,162.5 68.8,160.5 70,159.3" fill="none" stroke="#141414" stroke-width="2.4" />
<path d="M50.5,166.8 C53,168.3 56,168.5 58.5,166.8" fill="none" stroke="#1a1a1a" stroke-width="1.8" />
<path d="M56,162.3 C59,161.2 62,161.8 65,161" fill="none" stroke="#222" stroke-width="1.2" />
<path d="M71.5,162.0 C72.0,160.3 73.6,160.1 74.5,160.3 C75.4,160.6 76.5,161.9 77.0,163.5 C77.5,165.1 77.7,168.3 77.3,170.0 C76.9,171.7 75.4,173.4 74.5,173.5 C73.6,173.6 72.2,172.4 71.7,170.5 C71.2,168.6 71.0,163.7 71.5,162.0Z" fill="#d8d8d8" stroke="#555" stroke-width="0.5" />
<ellipse cx="74.5" cy="175.3" rx="2.2" ry="0.9" fill="#eee"/>
</g>
<rect x="27.5" y="149.2" width="36.1" height="21.5" fill="none" stroke="#3a3a3a" stroke-width="0.8" />
<rect x="63.6" y="149.2" width="20.1" height="33.2" fill="none" stroke="#3a3a3a" stroke-width="0.8" />
<line x1="63.6" y1="170.7" x2="83.7" y2="170.7" stroke="#3a3a3a" stroke-width="0.8" />
<text x="22.6" y="140.8" font-size="7.4" text-anchor="start" fill="#0d0d0d" stroke="#0d0d0d" stroke-width="0.12" textLength="12.8" lengthAdjust="spacingAndGlyphs" >39.8</text>
<text x="71" y="140.8" font-size="7.4" text-anchor="start" fill="#0d0d0d" stroke="#0d0d0d" stroke-width="0.12" textLength="12.7" lengthAdjust="spacingAndGlyphs" >48.6</text>
<text x="71.8" y="191" font-size="7.4" text-anchor="start" fill="#0d0d0d" stroke="#0d0d0d" stroke-width="0.12" textLength="11.9" lengthAdjust="spacingAndGlyphs" >10.4</text>
<text x="46" y="143.4" font-size="7.4" text-anchor="start" fill="#5cb048" stroke="#5cb048" stroke-width="0.12" textLength="11.5" lengthAdjust="spacingAndGlyphs" >ETP</text>
<line x1="52.8" y1="145.3" x2="51.4" y2="151.2" stroke="#5cb048" stroke-width="0.8" />
<path d="M49.8,150.4 L51,153.6 L53.2,151Z" fill="#5cb048" stroke="none" stroke-width="1" />
<text x="90.5" y="158.6" font-size="7.6" text-anchor="start" fill="#5cb048" stroke="#5cb048" stroke-width="0.12" textLength="16.8" lengthAdjust="spacingAndGlyphs" >DN2a</text>
<text x="90.5" y="179.7" font-size="7.6" text-anchor="start" fill="#5cb048" stroke="#5cb048" stroke-width="0.12" textLength="16.8" lengthAdjust="spacingAndGlyphs" >DN2b</text>
<line x1="84.5" y1="157.6" x2="87.8" y2="155.9" stroke="#5cb048" stroke-width="0.8" />
<path d="M81.5,157.9 L85.4,155.3 L85.9,158.7Z" fill="#5cb048" stroke="none" stroke-width="1" />
<line x1="84.5" y1="175" x2="87.8" y2="176" stroke="#5cb048" stroke-width="0.8" />
<path d="M81.5,174.4 L85.7,173.3 L84.9,176.6Z" fill="#5cb048" stroke="none" stroke-width="1" />
<g clip-path="url(#fc1)">
<path d="M154.0,158.8h0.6M143.8,166.3h0.6M161.8,166.0h0.6M136.7,167.3h0.6M140.4,170.9h0.6M149.0,161.9h0.6M138.2,164.6h0.6M153.6,170.8h0.6M152.1,163.0h0.6M154.0,160.3h0.6M154.0,163.0h0.6M162.0,170.0h0.6M152.9,161.9h0.6M154.4,167.5h0.6M145.6,163.5h0.6M160.2,164.4h0.6M158.1,163.4h0.6" fill="none" stroke="#999" stroke-width="0.6" stroke-linecap="butt" opacity="0.6"/>
<ellipse cx="145.2" cy="166.7" rx="4.2" ry="3.8" fill="none" stroke="#888" stroke-width="0.6"/>
<ellipse cx="145.2" cy="166.9" rx="1.3" ry="1.5" fill="none" stroke="#888" stroke-width="0.5"/>
<path d="M153.5,164 L156,166 C159,164 163,163 166,163.5 C166.5,165.5 166,167 164,167.5 C160,168 157,167.5 154,167.8 Z" fill="none" stroke="#888" stroke-width="0.6" />
<ellipse cx="176.2" cy="167.6" rx="7.8" ry="12.8" fill="#f2f2f2" stroke="#999" stroke-width="0.5"/>
<ellipse cx="176.2" cy="166.8" rx="6.8" ry="11.2" fill="#dcdcdc" stroke="#777" stroke-width="0.5"/>
<ellipse cx="176.2" cy="166.2" rx="5.8" ry="9.6" fill="#b8b8b8" stroke="#555" stroke-width="0.5"/>
<ellipse cx="176.2" cy="165.7" rx="4.8" ry="8.2" fill="#7a7a7a" stroke="#444" stroke-width="0.5"/>
<ellipse cx="176.2" cy="165.3" rx="3.9" ry="6.7" fill="#333" stroke="#222" stroke-width="0.5"/>
<ellipse cx="176.3" cy="163.5" rx="2.6" ry="4.8" fill="#111"/>
<ellipse cx="176.8" cy="164" rx="0.7" ry="2.2" fill="#888"/>
</g>
<rect x="129.8" y="150.4" width="36.1" height="21" fill="none" stroke="#3a3a3a" stroke-width="0.8" />
<rect x="165.9" y="150.4" width="18.7" height="31.4" fill="none" stroke="#3a3a3a" stroke-width="0.8" />
<text x="126" y="144.5" font-size="7.4" text-anchor="start" fill="#0d0d0d" stroke="#0d0d0d" stroke-width="0.12" textLength="8.6" lengthAdjust="spacingAndGlyphs" >6.3</text>
<text x="171" y="144.5" font-size="7.4" text-anchor="start" fill="#0d0d0d" stroke="#0d0d0d" stroke-width="0.12" textLength="13.8" lengthAdjust="spacingAndGlyphs" >80.5</text>
<text x="171" y="191" font-size="7.4" text-anchor="start" fill="#0d0d0d" stroke="#0d0d0d" stroke-width="0.12" textLength="13.8" lengthAdjust="spacingAndGlyphs" >12.0</text>
<g clip-path="url(#fc2)">
<path d="M226.4,158.2h0.6M211.3,162.7h0.6M224.8,159.9h0.6M223.7,166.4h0.6M230.9,164.6h0.6M219.4,155.7h0.6M212.4,156.8h0.6M223.5,158.6h0.6M230.5,156.1h0.6M224.6,162.2h0.6M207.2,167.3h0.6M223.6,161.4h0.6M212.2,154.8h0.6M238.5,155.3h0.6M218.3,160.7h0.6M236.4,159.5h0.6M230.8,152.7h0.6M225.2,166.7h0.6M221.3,154.7h0.6M218.0,155.3h0.6M229.9,159.2h0.6M217.4,162.3h0.6M245.9,154.7h0.6M237.9,157.6h0.6M220.1,160.9h0.6M213.9,153.6h0.6M220.2,156.0h0.6M229.1,168.5h0.6M210.8,153.4h0.6M229.5,160.9h0.6M233.0,154.1h0.6M228.0,157.8h0.6M206.5,160.5h0.6M207.1,161.0h0.6M217.8,157.1h0.6M242.9,166.3h0.6M226.3,160.2h0.6M214.7,164.8h0.6M228.2,153.5h0.6M206.1,158.1h0.6M220.5,162.8h0.6M212.3,153.4h0.6M226.3,158.6h0.6M231.4,164.1h0.6M222.8,154.2h0.6M221.2,158.6h0.6M216.8,160.9h0.6M223.2,159.4h0.6M234.8,165.1h0.6M233.8,160.1h0.6M223.6,161.2h0.6M225.3,154.2h0.6M226.0,163.0h0.6M218.3,152.3h0.6M227.8,154.1h0.6M207.9,156.8h0.6M208.1,159.9h0.6M217.3,158.6h0.6M233.2,164.1h0.6M217.6,151.9h0.6M230.9,166.5h0.6M228.9,161.6h0.6M227.6,161.8h0.6M218.7,162.9h0.6M219.3,151.9h0.6M222.7,166.7h0.6M234.2,159.4h0.6M227.5,155.6h0.6M226.9,166.8h0.6M216.0,161.8h0.6M225.7,153.5h0.6M224.0,161.3h0.6M214.1,164.4h0.6M211.5,164.3h0.6M228.2,159.5h0.6M214.7,154.0h0.6M221.0,161.1h0.6M232.1,159.2h0.6M219.0,163.4h0.6M222.2,158.0h0.6M211.0,163.8h0.6M215.8,168.5h0.6M214.0,155.6h0.6M223.1,154.4h0.6M208.2,152.1h0.6M214.4,156.9h0.6M231.7,161.7h0.6M225.3,162.5h0.6M217.0,152.6h0.6M226.9,154.7h0.6M211.7,162.9h0.6M216.0,156.8h0.6M207.8,163.0h0.6M222.7,165.8h0.6M243.4,161.7h0.6M218.8,154.0h0.6M238.0,157.1h0.6M228.3,159.4h0.6M223.8,159.2h0.6M221.0,159.4h0.6" fill="none" stroke="#666" stroke-width="0.6" stroke-linecap="butt" opacity="0.8"/>
<path d="M211.6,167.4 C212.3,166.1 215.1,163.3 218.1,161.6 C221.1,159.9 226.0,158.1 229.6,157.3 C233.2,156.5 236.6,156.3 239.7,156.6 C242.8,156.8 246.6,157.5 248.4,158.8 C250.2,160.1 250.8,162.1 250.5,164.5 C250.2,166.9 248.2,171.3 246.9,173.2 C245.6,175.1 244.0,176.1 242.6,176.1 C241.2,176.1 240.2,174.0 238.3,173.2 C236.4,172.3 234.0,171.6 231.1,171.0 C228.2,170.4 223.9,169.8 221.0,169.6 C218.1,169.4 215.4,170.0 213.8,169.6 C212.2,169.2 210.9,168.7 211.6,167.4Z" fill="#f0f0f0" stroke="#999" stroke-width="0.5" />
<path d="M216.4,167.1 C216.9,166.1 219.2,163.8 221.7,162.4 C224.1,161.0 228.2,159.5 231.1,158.9 C234.1,158.2 236.8,158.1 239.4,158.3 C242.0,158.5 245.1,159.0 246.5,160.1 C248.0,161.2 248.5,162.8 248.2,164.8 C248.0,166.7 246.4,170.3 245.3,171.9 C244.2,173.5 242.9,174.3 241.8,174.3 C240.6,174.3 239.8,172.6 238.2,171.9 C236.7,171.2 234.7,170.6 232.3,170.1 C230.0,169.6 226.4,169.1 224.1,169.0 C221.7,168.8 219.4,169.3 218.2,169.0 C216.9,168.7 215.8,168.2 216.4,167.1Z" fill="#dedede" stroke="#888" stroke-width="0.5" />
<path d="M220.6,166.9 C221.0,166.0 222.9,164.2 224.9,163.1 C226.8,162.0 230.1,160.8 232.5,160.3 C234.8,159.7 237.1,159.6 239.1,159.8 C241.2,160.0 243.7,160.4 244.9,161.2 C246.1,162.1 246.4,163.4 246.2,165.0 C246.1,166.6 244.7,169.5 243.9,170.8 C243.0,172.0 242.0,172.7 241.0,172.7 C240.1,172.7 239.5,171.3 238.2,170.8 C236.9,170.2 235.3,169.7 233.4,169.3 C231.5,168.9 228.7,168.5 226.8,168.4 C224.9,168.2 223.1,168.6 222.0,168.4 C221.0,168.1 220.1,167.8 220.6,166.9Z" fill="#c4c4c4" stroke="#777" stroke-width="0.5" />
<path d="M224.3,166.7 C224.6,166.0 226.1,164.6 227.7,163.7 C229.2,162.8 231.8,161.9 233.6,161.5 C235.5,161.0 237.3,161.0 238.9,161.1 C240.5,161.2 242.5,161.6 243.4,162.3 C244.3,162.9 244.6,164.0 244.5,165.2 C244.4,166.5 243.3,168.7 242.6,169.7 C241.9,170.7 241.1,171.3 240.4,171.3 C239.6,171.3 239.2,170.2 238.2,169.7 C237.2,169.3 235.9,168.9 234.4,168.6 C232.9,168.3 230.7,168.0 229.2,167.9 C227.7,167.8 226.2,168.1 225.4,167.9 C224.6,167.7 223.9,167.4 224.3,166.7Z" fill="#9a9a9a" stroke="#555" stroke-width="0.5" />
<path d="M227.4,166.6 C227.7,166.0 228.8,164.9 230.0,164.2 C231.2,163.6 233.2,162.9 234.6,162.5 C236.1,162.2 237.4,162.1 238.7,162.2 C239.9,162.3 241.4,162.6 242.2,163.1 C242.9,163.6 243.1,164.4 243.0,165.4 C242.9,166.4 242.1,168.1 241.6,168.9 C241.0,169.7 240.4,170.0 239.8,170.0 C239.3,170.0 238.9,169.2 238.1,168.9 C237.4,168.5 236.4,168.2 235.2,168.0 C234.1,167.8 232.4,167.5 231.2,167.4 C230.0,167.3 228.9,167.6 228.3,167.4 C227.7,167.3 227.2,167.1 227.4,166.6Z" fill="#5a5a5a" stroke="#444" stroke-width="0.5" />
<path d="M230.1,166.4 C230.3,166.0 231.1,165.2 232.0,164.7 C232.9,164.2 234.4,163.6 235.5,163.4 C236.6,163.1 237.6,163.1 238.5,163.2 C239.4,163.3 240.6,163.4 241.1,163.8 C241.7,164.2 241.8,164.8 241.8,165.6 C241.7,166.3 241.1,167.6 240.7,168.2 C240.3,168.7 239.8,169.0 239.4,169.0 C238.9,169.0 238.7,168.4 238.1,168.2 C237.5,167.9 236.8,167.7 235.9,167.5 C235.1,167.3 233.8,167.1 232.9,167.1 C232.0,167.0 231.2,167.2 230.7,167.1 C230.3,167.0 229.9,166.8 230.1,166.4Z" fill="#222" stroke="#222" stroke-width="0.5" />
<ellipse cx="237" cy="165" rx="2.6" ry="1" fill="#bbb"/>
<ellipse cx="237.5" cy="170" rx="3.5" ry="1.6" fill="#111"/>
<ellipse cx="219" cy="166.5" rx="3" ry="1.2" fill="none" stroke="#999" stroke-width="0.5"/>
</g>
<rect x="205.4" y="150.4" width="35.5" height="21" fill="none" stroke="#3a3a3a" stroke-width="0.8" />
<rect x="240.9" y="150.4" width="19" height="31.7" fill="none" stroke="#3a3a3a" stroke-width="0.8" />
<text x="200.8" y="144.5" font-size="7.4" text-anchor="start" fill="#0d0d0d" stroke="#0d0d0d" stroke-width="0.12" textLength="13" lengthAdjust="spacingAndGlyphs" >72.0</text>
<text x="247" y="144.5" font-size="7.4" text-anchor="start" fill="#0d0d0d" stroke="#0d0d0d" stroke-width="0.12" textLength="13" lengthAdjust="spacingAndGlyphs" >23.8</text>
<text x="252" y="191" font-size="7.4" text-anchor="start" fill="#0d0d0d" stroke="#0d0d0d" stroke-width="0.12" textLength="8.2" lengthAdjust="spacingAndGlyphs" >2.8</text>
<rect x="20" y="123.1" width="70" height="70.1" fill="none" stroke="#111" stroke-width="1.2" />
<rect x="121.7" y="123.2" width="69.8" height="70.2" fill="none" stroke="#111" stroke-width="1.2" />
<rect x="197" y="123.2" width="70" height="70.2" fill="none" stroke="#111" stroke-width="1.2" />
<text x="0" y="0" font-size="9" text-anchor="middle" fill="#1a1a1a" stroke="#1a1a1a" stroke-width="0.12" textLength="9.6" lengthAdjust="spacingAndGlyphs" transform="translate(12.6,159) rotate(-90)">Kit</text>
<text x="38.5" y="205.8" font-size="8.8" text-anchor="start" fill="#1a1a1a" stroke="#1a1a1a" stroke-width="0.12" textLength="21.8" lengthAdjust="spacingAndGlyphs" >CD25</text>
<line x1="63.8" y1="203.2" x2="262" y2="203.2" stroke="#111" stroke-width="1.1" />
<path d="M267.3,203.2 L259.2,199.9 L261,203.2 L259.2,206.6Z" fill="#111" stroke="none" stroke-width="1" />
<text x="42.5" y="233" font-size="7.6" text-anchor="start" fill="#1a1a1a" stroke="#1a1a1a" stroke-width="0.12" textLength="23.5" lengthAdjust="spacingAndGlyphs" font-style="italic">VavCre</text>
<text x="105.6" y="233" font-size="7.6" text-anchor="start" fill="#1a1a1a" stroke="#1a1a1a" stroke-width="0.12" textLength="48.4" lengthAdjust="spacingAndGlyphs" font-style="italic">Zmiz1ΔVavCre</text>
<text x="185" y="233" font-size="7.6" text-anchor="start" fill="#1a1a1a" stroke="#1a1a1a" stroke-width="0.12" textLength="41.7" lengthAdjust="spacingAndGlyphs" font-style="italic">VavCre/ICN1</text>
<line x1="18.799999999999997" y1="241.2" x2="20.4" y2="241.2" stroke="#111" stroke-width="0.8" />
<line x1="17.599999999999998" y1="246.23846153846154" x2="20.4" y2="246.23846153846154" stroke="#111" stroke-width="0.8" />
<line x1="18.799999999999997" y1="251.27692307692305" x2="20.4" y2="251.27692307692305" stroke="#111" stroke-width="0.8" />
<line x1="18.799999999999997" y1="256.31538461538463" x2="20.4" y2="256.31538461538463" stroke="#111" stroke-width="0.8" />
<line x1="18.799999999999997" y1="261.3538461538461" x2="20.4" y2="261.3538461538461" stroke="#111" stroke-width="0.8" />
<line x1="17.599999999999998" y1="266.39230769230767" x2="20.4" y2="266.39230769230767" stroke="#111" stroke-width="0.8" />
<line x1="18.799999999999997" y1="271.4307692307692" x2="20.4" y2="271.4307692307692" stroke="#111" stroke-width="0.8" />
<line x1="18.799999999999997" y1="276.46923076923076" x2="20.4" y2="276.46923076923076" stroke="#111" stroke-width="0.8" />
<line x1="18.799999999999997" y1="281.5076923076923" x2="20.4" y2="281.5076923076923" stroke="#111" stroke-width="0.8" />
<line x1="17.599999999999998" y1="286.54615384615386" x2="20.4" y2="286.54615384615386" stroke="#111" stroke-width="0.8" />
<line x1="18.799999999999997" y1="291.5846153846154" x2="20.4" y2="291.5846153846154" stroke="#111" stroke-width="0.8" />
<line x1="18.799999999999997" y1="296.6230769230769" x2="20.4" y2="296.6230769230769" stroke="#111" stroke-width="0.8" />
<line x1="18.799999999999997" y1="301.66153846153844" x2="20.4" y2="301.66153846153844" stroke="#111" stroke-width="0.8" />
<line x1="17.599999999999998" y1="306.7" x2="20.4" y2="306.7" stroke="#111" stroke-width="0.8" />
<line x1="22.4" y1="307.7" x2="22.4" y2="309.2" stroke="#111" stroke-width="0.8" />
<line x1="26.886666666666667" y1="307.7" x2="26.886666666666667" y2="310.3" stroke="#111" stroke-width="0.8" />
<line x1="31.373333333333335" y1="307.7" x2="31.373333333333335" y2="309.2" stroke="#111" stroke-width="0.8" />
<line x1="35.86" y1="307.7" x2="35.86" y2="309.2" stroke="#111" stroke-width="0.8" />
<line x1="40.346666666666664" y1="307.7" x2="40.346666666666664" y2="309.2" stroke="#111" stroke-width="0.8" />
<line x1="44.833333333333336" y1="307.7" x2="44.833333333333336" y2="310.3" stroke="#111" stroke-width="0.8" />
<line x1="49.32000000000001" y1="307.7" x2="49.32000000000001" y2="309.2" stroke="#111" stroke-width="0.8" />
<line x1="53.80666666666667" y1="307.7" x2="53.80666666666667" y2="309.2" stroke="#111" stroke-width="0.8" />
<line x1="58.29333333333334" y1="307.7" x2="58.29333333333334" y2="309.2" stroke="#111" stroke-width="0.8" />
<line x1="62.78" y1="307.7" x2="62.78" y2="310.3" stroke="#111" stroke-width="0.8" />
<line x1="67.26666666666668" y1="307.7" x2="67.26666666666668" y2="309.2" stroke="#111" stroke-width="0.8" />
<line x1="71.75333333333334" y1="307.7" x2="71.75333333333334" y2="309.2" stroke="#111" stroke-width="0.8" />
<line x1="76.24000000000001" y1="307.7" x2="76.24000000000001" y2="309.2" stroke="#111" stroke-width="0.8" />
<line x1="80.72666666666667" y1="307.7" x2="80.72666666666667" y2="310.3" stroke="#111" stroke-width="0.8" />
<line x1="85.21333333333334" y1="307.7" x2="85.21333333333334" y2="309.2" stroke="#111" stroke-width="0.8" />
<line x1="89.70000000000002" y1="307.7" x2="89.70000000000002" y2="309.2" stroke="#111" stroke-width="0.8" />
<line x1="93.80000000000001" y1="241.2" x2="95.4" y2="241.2" stroke="#111" stroke-width="0.8" />
<line x1="92.60000000000001" y1="246.23846153846154" x2="95.4" y2="246.23846153846154" stroke="#111" stroke-width="0.8" />
<line x1="93.80000000000001" y1="251.27692307692305" x2="95.4" y2="251.27692307692305" stroke="#111" stroke-width="0.8" />
<line x1="93.80000000000001" y1="256.31538461538463" x2="95.4" y2="256.31538461538463" stroke="#111" stroke-width="0.8" />
<line x1="93.80000000000001" y1="261.3538461538461" x2="95.4" y2="261.3538461538461" stroke="#111" stroke-width="0.8" />
<line x1="92.60000000000001" y1="266.39230769230767" x2="95.4" y2="266.39230769230767" stroke="#111" stroke-width="0.8" />
<line x1="93.80000000000001" y1="271.4307692307692" x2="95.4" y2="271.4307692307692" stroke="#111" stroke-width="0.8" />
<line x1="93.80000000000001" y1="276.46923076923076" x2="95.4" y2="276.46923076923076" stroke="#111" stroke-width="0.8" />
<line x1="93.80000000000001" y1="281.5076923076923" x2="95.4" y2="281.5076923076923" stroke="#111" stroke-width="0.8" />
<line x1="92.60000000000001" y1="286.54615384615386" x2="95.4" y2="286.54615384615386" stroke="#111" stroke-width="0.8" />
<line x1="93.80000000000001" y1="291.5846153846154" x2="95.4" y2="291.5846153846154" stroke="#111" stroke-width="0.8" />
<line x1="93.80000000000001" y1="296.6230769230769" x2="95.4" y2="296.6230769230769" stroke="#111" stroke-width="0.8" />
<line x1="93.80000000000001" y1="301.66153846153844" x2="95.4" y2="301.66153846153844" stroke="#111" stroke-width="0.8" />
<line x1="92.60000000000001" y1="306.7" x2="95.4" y2="306.7" stroke="#111" stroke-width="0.8" />
<line x1="97.4" y1="307.7" x2="97.4" y2="309.2" stroke="#111" stroke-width="0.8" />
<line x1="101.82666666666667" y1="307.7" x2="101.82666666666667" y2="310.3" stroke="#111" stroke-width="0.8" />
<line x1="106.25333333333334" y1="307.7" x2="106.25333333333334" y2="309.2" stroke="#111" stroke-width="0.8" />
<line x1="110.68" y1="307.7" x2="110.68" y2="309.2" stroke="#111" stroke-width="0.8" />
<line x1="115.10666666666667" y1="307.7" x2="115.10666666666667" y2="309.2" stroke="#111" stroke-width="0.8" />
<line x1="119.53333333333333" y1="307.7" x2="119.53333333333333" y2="310.3" stroke="#111" stroke-width="0.8" />
<line x1="123.96000000000001" y1="307.7" x2="123.96000000000001" y2="309.2" stroke="#111" stroke-width="0.8" />
<line x1="128.38666666666668" y1="307.7" x2="128.38666666666668" y2="309.2" stroke="#111" stroke-width="0.8" />
<line x1="132.81333333333333" y1="307.7" x2="132.81333333333333" y2="309.2" stroke="#111" stroke-width="0.8" />
<line x1="137.24" y1="307.7" x2="137.24" y2="310.3" stroke="#111" stroke-width="0.8" />
<line x1="141.66666666666669" y1="307.7" x2="141.66666666666669" y2="309.2" stroke="#111" stroke-width="0.8" />
<line x1="146.09333333333336" y1="307.7" x2="146.09333333333336" y2="309.2" stroke="#111" stroke-width="0.8" />
<line x1="150.52" y1="307.7" x2="150.52" y2="309.2" stroke="#111" stroke-width="0.8" />
<line x1="154.94666666666666" y1="307.7" x2="154.94666666666666" y2="310.3" stroke="#111" stroke-width="0.8" />
<line x1="159.37333333333333" y1="307.7" x2="159.37333333333333" y2="309.2" stroke="#111" stroke-width="0.8" />
<line x1="163.8" y1="307.7" x2="163.8" y2="309.2" stroke="#111" stroke-width="0.8" />
<line x1="170.8" y1="241.5" x2="172.4" y2="241.5" stroke="#111" stroke-width="0.8" />
<line x1="169.6" y1="246.51538461538462" x2="172.4" y2="246.51538461538462" stroke="#111" stroke-width="0.8" />
<line x1="170.8" y1="251.53076923076924" x2="172.4" y2="251.53076923076924" stroke="#111" stroke-width="0.8" />
<line x1="170.8" y1="256.54615384615386" x2="172.4" y2="256.54615384615386" stroke="#111" stroke-width="0.8" />
<line x1="170.8" y1="261.5615384615385" x2="172.4" y2="261.5615384615385" stroke="#111" stroke-width="0.8" />
<line x1="169.6" y1="266.5769230769231" x2="172.4" y2="266.5769230769231" stroke="#111" stroke-width="0.8" />
<line x1="170.8" y1="271.5923076923077" x2="172.4" y2="271.5923076923077" stroke="#111" stroke-width="0.8" />
<line x1="170.8" y1="276.60769230769233" x2="172.4" y2="276.60769230769233" stroke="#111" stroke-width="0.8" />
<line x1="170.8" y1="281.6230769230769" x2="172.4" y2="281.6230769230769" stroke="#111" stroke-width="0.8" />
<line x1="169.6" y1="286.6384615384615" x2="172.4" y2="286.6384615384615" stroke="#111" stroke-width="0.8" />
<line x1="170.8" y1="291.65384615384613" x2="172.4" y2="291.65384615384613" stroke="#111" stroke-width="0.8" />
<line x1="170.8" y1="296.66923076923075" x2="172.4" y2="296.66923076923075" stroke="#111" stroke-width="0.8" />
<line x1="170.8" y1="301.68461538461537" x2="172.4" y2="301.68461538461537" stroke="#111" stroke-width="0.8" />
<line x1="169.6" y1="306.7" x2="172.4" y2="306.7" stroke="#111" stroke-width="0.8" />
<line x1="174.4" y1="307.7" x2="174.4" y2="309.2" stroke="#111" stroke-width="0.8" />
<line x1="178.86666666666667" y1="307.7" x2="178.86666666666667" y2="310.3" stroke="#111" stroke-width="0.8" />
<line x1="183.33333333333334" y1="307.7" x2="183.33333333333334" y2="309.2" stroke="#111" stroke-width="0.8" />
<line x1="187.8" y1="307.7" x2="187.8" y2="309.2" stroke="#111" stroke-width="0.8" />
<line x1="192.26666666666668" y1="307.7" x2="192.26666666666668" y2="309.2" stroke="#111" stroke-width="0.8" />
<line x1="196.73333333333335" y1="307.7" x2="196.73333333333335" y2="310.3" stroke="#111" stroke-width="0.8" />
<line x1="201.20000000000002" y1="307.7" x2="201.20000000000002" y2="309.2" stroke="#111" stroke-width="0.8" />
<line x1="205.66666666666669" y1="307.7" x2="205.66666666666669" y2="309.2" stroke="#111" stroke-width="0.8" />
<line x1="210.13333333333333" y1="307.7" x2="210.13333333333333" y2="309.2" stroke="#111" stroke-width="0.8" />
<line x1="214.60000000000002" y1="307.7" x2="214.60000000000002" y2="310.3" stroke="#111" stroke-width="0.8" />
<line x1="219.06666666666666" y1="307.7" x2="219.06666666666666" y2="309.2" stroke="#111" stroke-width="0.8" />
<line x1="223.53333333333333" y1="307.7" x2="223.53333333333333" y2="309.2" stroke="#111" stroke-width="0.8" />
<line x1="228.0" y1="307.7" x2="228.0" y2="309.2" stroke="#111" stroke-width="0.8" />
<line x1="232.46666666666667" y1="307.7" x2="232.46666666666667" y2="310.3" stroke="#111" stroke-width="0.8" />
<line x1="236.93333333333334" y1="307.7" x2="236.93333333333334" y2="309.2" stroke="#111" stroke-width="0.8" />
<line x1="241.4" y1="307.7" x2="241.4" y2="309.2" stroke="#111" stroke-width="0.8" />
<g clip-path="url(#fc3)">
<path d="M25.3,255.2h0.6M51.9,252.4h0.6M24.1,253.8h0.6M45.7,257.5h0.6M25.4,249.9h0.6M48.5,255.5h0.6M58.4,257.1h0.6M38.8,253.1h0.6M70.8,253.1h0.6M30.6,250.4h0.6M41.1,254.5h0.6M35.9,253.8h0.6M43.3,256.2h0.6M53.2,254.7h0.6M18.5,256.2h0.6M23.0,253.5h0.6M22.3,254.0h0.6M30.7,254.7h0.6M79.6,253.8h0.6M50.1,249.8h0.6M36.5,256.1h0.6M38.9,255.2h0.6M41.2,250.8h0.6M46.8,251.4h0.6M62.5,252.4h0.6M48.2,254.0h0.6M51.4,252.1h0.6M52.0,253.6h0.6M55.2,256.0h0.6M41.7,251.5h0.6M49.2,255.5h0.6M59.7,252.8h0.6M46.7,255.6h0.6M43.4,254.7h0.6M42.2,252.1h0.6M27.8,252.7h0.6M47.1,258.8h0.6M51.7,257.4h0.6M49.3,256.2h0.6M42.2,256.5h0.6M61.3,253.0h0.6M31.7,260.3h0.6M42.9,257.1h0.6M50.5,250.4h0.6M69.2,259.7h0.6M42.1,256.4h0.6M41.5,251.2h0.6M38.7,255.2h0.6M53.4,256.3h0.6M40.7,258.3h0.6M30.9,256.5h0.6M53.3,253.1h0.6M18.5,251.1h0.6M42.8,255.7h0.6M58.6,250.8h0.6M40.0,256.1h0.6M38.1,246.4h0.6M49.7,261.4h0.6M52.1,251.1h0.6M35.1,254.7h0.6M69.9,256.0h0.6M41.4,259.0h0.6M39.0,260.0h0.6M31.8,252.5h0.6M48.7,258.6h0.6M47.8,255.0h0.6M18.1,251.7h0.6M32.7,252.3h0.6M47.0,252.9h0.6M49.5,254.3h0.6M36.0,254.4h0.6M45.1,256.7h0.6M34.3,253.3h0.6M23.6,259.1h0.6M57.4,253.4h0.6M34.3,250.0h0.6M42.0,254.7h0.6M66.2,254.8h0.6M30.7,246.2h0.6M56.9,254.6h0.6M20.7,254.6h0.6M20.7,265.1h0.6M53.4,255.8h0.6M37.9,247.2h0.6M38.5,249.0h0.6M47.2,247.2h0.6M29.1,257.9h0.6M59.7,250.2h0.6M21.6,256.8h0.6M50.2,250.8h0.6M31.7,251.8h0.6M25.7,251.8h0.6M55.0,256.2h0.6M64.7,253.7h0.6M38.4,250.9h0.6M38.5,249.8h0.6M18.7,256.2h0.6M57.3,256.7h0.6M56.0,254.8h0.6M31.4,254.3h0.6M35.5,250.4h0.6M19.7,249.3h0.6M39.9,254.5h0.6M34.3,258.6h0.6M42.1,255.9h0.6M54.6,251.4h0.6M16.4,256.4h0.6M31.7,258.2h0.6M44.1,257.2h0.6M49.2,247.3h0.6M48.6,251.8h0.6M30.9,252.6h0.6M49.2,256.8h0.6M52.1,248.7h0.6M32.9,246.4h0.6M38.8,255.9h0.6M30.8,254.8h0.6M42.8,257.2h0.6M30.1,251.3h0.6M30.8,259.6h0.6M53.1,253.6h0.6M42.7,254.4h0.6M42.4,253.3h0.6M36.0,250.0h0.6M32.3,259.3h0.6M46.4,254.2h0.6M37.4,254.2h0.6M44.2,251.9h0.6M42.4,254.8h0.6M31.0,251.5h0.6M28.0,250.6h0.6M50.7,246.4h0.6M36.8,252.0h0.6M32.6,254.3h0.6M53.5,254.2h0.6M38.3,252.0h0.6M38.5,256.9h0.6M35.3,250.3h0.6M24.8,250.5h0.6M23.3,257.5h0.6M44.3,253.2h0.6M57.5,251.9h0.6M49.0,256.6h0.6M21.4,249.0h0.6M28.9,256.9h0.6M55.6,250.1h0.6M52.6,252.8h0.6M35.3,252.2h0.6M36.1,248.2h0.6M28.0,250.0h0.6M45.9,260.7h0.6M72.8,252.9h0.6M19.3,252.7h0.6M28.7,260.3h0.6M46.9,251.7h0.6M51.2,255.7h0.6M20.5,252.3h0.6M37.1,254.1h0.6M41.6,252.9h0.6M42.3,252.1h0.6M29.2,258.9h0.6M44.3,255.4h0.6M20.9,253.5h0.6M49.8,249.9h0.6M53.2,252.8h0.6M44.8,253.6h0.6M42.6,257.9h0.6M35.2,259.0h0.6M30.6,251.0h0.6M48.5,250.6h0.6M35.6,256.9h0.6M54.5,248.3h0.6M46.1,260.0h0.6M54.3,253.2h0.6M32.8,253.1h0.6M26.2,253.2h0.6M37.8,253.5h0.6M54.2,253.3h0.6M22.5,257.4h0.6M27.1,252.6h0.6M38.4,252.9h0.6M28.0,253.2h0.6M66.2,252.1h0.6M38.4,257.6h0.6M48.9,256.4h0.6M50.3,247.7h0.6M29.6,254.4h0.6M46.0,258.1h0.6M45.6,253.2h0.6M40.5,253.3h0.6M43.0,256.2h0.6M35.9,251.4h0.6M29.7,257.5h0.6M55.4,257.2h0.6M50.3,256.7h0.6M40.0,256.1h0.6M27.4,253.4h0.6M31.2,256.3h0.6M33.0,253.7h0.6M44.8,258.3h0.6M30.5,251.0h0.6M49.8,250.5h0.6M45.4,252.2h0.6M38.7,248.2h0.6M48.6,252.4h0.6M29.2,260.6h0.6M48.5,265.2h0.6M44.9,252.9h0.6M41.3,259.1h0.6M39.7,255.4h0.6M46.2,251.1h0.6M41.5,252.4h0.6M25.1,256.8h0.6M48.0,254.2h0.6M29.1,247.6h0.6M45.8,253.7h0.6M19.8,253.8h0.6M21.7,253.9h0.6M41.7,255.1h0.6M42.6,254.5h0.6M26.3,252.8h0.6M33.9,253.2h0.6M43.2,256.0h0.6M59.6,245.8h0.6M44.8,253.4h0.6M67.3,257.0h0.6M20.2,255.3h0.6M33.8,257.2h0.6M27.3,253.7h0.6M38.4,253.7h0.6M33.0,248.1h0.6M45.5,257.2h0.6M39.2,250.7h0.6M42.4,255.8h0.6M37.9,254.0h0.6M56.9,250.4h0.6M33.3,247.9h0.6M31.6,251.6h0.6M28.5,251.8h0.6M61.6,253.4h0.6M38.6,261.0h0.6M39.3,248.5h0.6M44.8,251.0h0.6M59.7,250.0h0.6M33.0,248.9h0.6M41.2,250.8h0.6M39.2,252.8h0.6M32.6,257.0h0.6M51.2,254.2h0.6M29.2,250.6h0.6M43.2,261.7h0.6M34.5,251.5h0.6M31.6,250.5h0.6M28.3,253.3h0.6M57.2,254.0h0.6M33.9,248.8h0.6M42.6,253.9h0.6M25.3,250.5h0.6M39.5,257.2h0.6M47.5,254.7h0.6M36.1,255.0h0.6M39.9,261.0h0.6M26.4,252.8h0.6M55.2,253.1h0.6M57.1,253.9h0.6M41.7,252.8h0.6M23.4,250.9h0.6M66.6,256.1h0.6M47.3,257.1h0.6M46.8,257.3h0.6M36.8,253.3h0.6M51.8,252.9h0.6M24.0,253.3h0.6M33.5,256.0h0.6M31.4,250.6h0.6M36.0,259.0h0.6M39.4,254.5h0.6M40.1,254.9h0.6M51.1,258.5h0.6M20.3,258.4h0.6M40.0,253.0h0.6M68.8,253.5h0.6M63.3,257.1h0.6M27.6,255.6h0.6M48.8,253.6h0.6M12.1,252.9h0.6M37.7,250.5h0.6M61.9,253.2h0.6M35.3,253.0h0.6M30.6,251.5h0.6M41.1,255.0h0.6M33.9,253.7h0.6M23.3,255.7h0.6M31.0,254.7h0.6M29.1,252.4h0.6M42.6,250.1h0.6M69.6,253.9h0.6M39.1,251.6h0.6M59.1,258.4h0.6M43.6,249.6h0.6M33.9,256.0h0.6M33.9,250.2h0.6M25.7,251.5h0.6M40.2,251.9h0.6M40.2,262.9h0.6M61.3,250.7h0.6M44.1,254.3h0.6M38.3,257.3h0.6M36.0,253.0h0.6M35.5,253.7h0.6M55.4,256.5h0.6M23.9,252.6h0.6M30.4,256.6h0.6M42.7,256.8h0.6M39.3,247.9h0.6M45.4,254.7h0.6M46.1,249.8h0.6M41.0,251.8h0.6M31.8,255.1h0.6M44.2,251.1h0.6M19.5,246.1h0.6M33.1,257.6h0.6M39.3,246.8h0.6M29.6,255.3h0.6M60.1,257.7h0.6M44.4,254.6h0.6M27.3,252.6h0.6M36.0,251.5h0.6M40.8,252.7h0.6M44.0,258.6h0.6M48.9,255.3h0.6M37.1,249.1h0.6M38.6,255.7h0.6M27.9,258.0h0.6M36.0,255.2h0.6M36.1,250.0h0.6M64.8,250.3h0.6M51.0,252.2h0.6M43.3,251.4h0.6M35.0,256.9h0.6M63.3,251.3h0.6M40.1,257.0h0.6M32.4,256.3h0.6M30.6,255.9h0.6M45.2,257.9h0.6M44.4,250.2h0.6M48.0,250.5h0.6M49.0,258.8h0.6M47.1,252.2h0.6M54.3,254.5h0.6M25.1,252.9h0.6M57.0,253.0h0.6M41.5,252.9h0.6M19.8,252.4h0.6M44.3,254.7h0.6M37.9,247.2h0.6M54.7,256.3h0.6M52.3,258.2h0.6M34.7,252.1h0.6M43.8,259.4h0.6M19.8,253.3h0.6M31.4,255.8h0.6M57.6,253.1h0.6M25.1,254.2h0.6M36.6,249.1h0.6M50.6,252.3h0.6M48.2,249.8h0.6M53.2,249.4h0.6M52.6,248.2h0.6M56.6,252.8h0.6M21.3,253.2h0.6M44.0,250.8h0.6M34.1,254.9h0.6M38.0,244.2h0.6M34.8,255.4h0.6M43.6,257.2h0.6M31.7,262.2h0.6M49.6,255.0h0.6M53.0,257.1h0.6M41.2,252.0h0.6M52.3,255.4h0.6M17.3,250.5h0.6M45.6,254.3h0.6M43.4,256.1h0.6M41.7,259.1h0.6M32.9,252.7h0.6M43.9,256.4h0.6M49.5,258.8h0.6M34.3,257.7h0.6M45.6,250.7h0.6M38.4,260.7h0.6M49.4,252.5h0.6M11.2,251.6h0.6M31.6,254.2h0.6M67.7,256.4h0.6M43.8,251.0h0.6M25.8,253.3h0.6M34.4,263.6h0.6M35.1,252.0h0.6M53.5,254.2h0.6M25.2,258.1h0.6M36.3,249.7h0.6M43.9,255.6h0.6M35.9,256.2h0.6M49.8,251.2h0.6M15.3,246.3h0.6M38.5,257.9h0.6M52.0,258.5h0.6M62.3,254.1h0.6M52.7,249.1h0.6M48.3,255.3h0.6M38.9,252.6h0.6M26.6,254.4h0.6M55.3,252.8h0.6M46.4,251.9h0.6M43.0,250.8h0.6M44.5,253.3h0.6M43.8,252.1h0.6M25.9,252.9h0.6M52.4,259.1h0.6M36.1,256.6h0.6M49.1,255.3h0.6M21.4,255.0h0.6M28.4,257.8h0.6M49.5,256.0h0.6M9.6,256.0h0.6M48.4,249.9h0.6M51.6,254.2h0.6M37.8,251.7h0.6M27.8,252.6h0.6M77.0,254.7h0.6M42.5,251.9h0.6M32.6,252.2h0.6M29.4,256.8h0.6M36.8,256.8h0.6M26.1,257.0h0.6M39.7,256.1h0.6M38.8,251.2h0.6M54.5,252.6h0.6M38.2,251.2h0.6M42.5,252.8h0.6M43.4,255.1h0.6M31.7,249.5h0.6M45.2,256.9h0.6M48.4,250.3h0.6M47.3,255.2h0.6M43.4,255.4h0.6M36.1,254.7h0.6M51.1,252.4h0.6M22.7,253.7h0.6M42.4,248.1h0.6M31.9,255.9h0.6M38.2,254.3h0.6M24.9,256.9h0.6M61.1,253.4h0.6M31.2,250.3h0.6M50.7,254.3h0.6M30.5,257.9h0.6M49.2,255.9h0.6M18.9,253.7h0.6M47.5,250.1h0.6M51.1,258.6h0.6M52.4,251.7h0.6M31.5,257.0h0.6M51.9,257.9h0.6M54.4,253.7h0.6M35.1,248.1h0.6M49.4,261.3h0.6M34.4,252.5h0.6M47.8,255.2h0.6M23.6,251.7h0.6M26.8,260.5h0.6M31.4,256.7h0.6M63.0,260.1h0.6M57.1,259.2h0.6M25.2,252.9h0.6M31.3,253.1h0.6M71.5,248.6h0.6M46.7,250.0h0.6M56.1,258.2h0.6M33.9,260.6h0.6M40.9,258.2h0.6M43.7,252.2h0.6M35.4,253.6h0.6M47.4,254.4h0.6M68.3,253.4h0.6M34.4,251.7h0.6M30.7,249.4h0.6M28.2,256.9h0.6M40.7,253.5h0.6M44.2,257.4h0.6M47.4,256.5h0.6M33.3,253.2h0.6M30.7,253.7h0.6M30.2,252.8h0.6M37.9,253.3h0.6M36.8,252.4h0.6M55.7,252.9h0.6M27.9,254.6h0.6M26.9,250.6h0.6M41.0,248.7h0.6M1.4,254.9h0.6M52.4,248.7h0.6M29.2,255.8h0.6M16.2,251.2h0.6M25.6,253.4h0.6M16.3,256.9h0.6M38.3,255.0h0.6M36.1,247.2h0.6M38.2,249.7h0.6M40.1,251.3h0.6M36.2,253.3h0.6M49.3,256.5h0.6M27.9,253.9h0.6M57.5,255.6h0.6M31.2,253.6h0.6M35.8,257.0h0.6M40.4,255.2h0.6M66.5,249.6h0.6M27.8,248.5h0.6M20.9,256.7h0.6M43.5,259.2h0.6M16.3,251.2h0.6M57.3,257.3h0.6M50.6,256.8h0.6M40.4,254.0h0.6M40.4,256.7h0.6M38.0,255.0h0.6M57.4,250.4h0.6M31.0,255.8h0.6M36.8,253.5h0.6M65.2,255.3h0.6M35.0,257.5h0.6M70.2,250.4h0.6M32.0,254.4h0.6M32.4,260.9h0.6M46.3,252.7h0.6M45.9,251.5h0.6M32.7,254.3h0.6M68.7,246.8h0.6M45.0,258.3h0.6M48.9,260.2h0.6M45.4,254.5h0.6M38.4,251.3h0.6M59.6,250.2h0.6M38.5,252.3h0.6M30.6,246.9h0.6M35.4,254.4h0.6M41.7,256.7h0.6M38.1,251.9h0.6M43.7,256.1h0.6M29.2,249.1h0.6M27.7,257.4h0.6M52.0,251.2h0.6M41.3,256.7h0.6M55.9,251.9h0.6M37.1,258.5h0.6M68.9,258.9h0.6M26.3,255.4h0.6M36.4,253.8h0.6M32.0,252.5h0.6M39.9,259.8h0.6M48.4,255.4h0.6M40.3,251.6h0.6M37.2,258.0h0.6M50.0,260.3h0.6M43.1,253.9h0.6M20.6,255.3h0.6M19.3,258.9h0.6M32.4,254.0h0.6M23.8,252.4h0.6M28.8,257.6h0.6M43.0,250.2h0.6M16.8,253.8h0.6M34.2,250.4h0.6M47.1,253.4h0.6M41.3,252.1h0.6M33.2,252.5h0.6M20.8,256.0h0.6M44.8,248.5h0.6M41.2,257.7h0.6M42.8,258.1h0.6M36.8,254.0h0.6M24.4,251.1h0.6M18.1,251.1h0.6M42.9,255.7h0.6M54.0,254.4h0.6M28.1,255.4h0.6M38.3,259.7h0.6M63.5,257.1h0.6M26.4,252.3h0.6M42.3,251.7h0.6M46.3,256.2h0.6M50.1,254.7h0.6M29.4,251.3h0.6M38.5,258.2h0.6M58.9,257.1h0.6M44.4,256.2h0.6M49.9,258.1h0.6M50.3,249.1h0.6M51.4,255.2h0.6M34.5,255.7h0.6M43.5,253.8h0.6M19.7,254.4h0.6M46.7,253.8h0.6M20.9,255.5h0.6M48.6,254.6h0.6M45.1,252.9h0.6M32.1,255.7h0.6M35.7,254.6h0.6M79.1,256.3h0.6M41.6,248.8h0.6M41.2,256.4h0.6M31.5,253.2h0.6M12.9,255.8h0.6M32.9,256.2h0.6M56.4,253.5h0.6M51.8,254.8h0.6M37.5,253.1h0.6M29.8,258.1h0.6M50.6,250.8h0.6M50.1,251.7h0.6M21.9,257.8h0.6M24.6,257.8h0.6M42.4,256.9h0.6M46.1,257.7h0.6M44.2,255.9h0.6M43.0,257.5h0.6M35.3,257.3h0.6M58.1,253.8h0.6M45.3,252.4h0.6M36.5,254.8h0.6M35.9,251.2h0.6M39.6,254.6h0.6M43.9,256.3h0.6M18.7,258.5h0.6M37.9,251.5h0.6M35.5,255.4h0.6M50.4,252.8h0.6M41.9,248.9h0.6M42.0,253.6h0.6M34.8,256.8h0.6M61.5,257.3h0.6M30.6,258.9h0.6M36.0,253.9h0.6M33.0,255.5h0.6M46.6,254.5h0.6M37.5,253.5h0.6M35.2,257.1h0.6M33.8,253.5h0.6" fill="none" stroke="#333" stroke-width="0.6" stroke-linecap="butt" opacity="0.7"/>
<path d="M69.8,261.9h0.6M49.0,250.2h0.6M59.2,261.0h0.6M58.8,252.2h0.6M56.0,263.7h0.6M49.0,262.2h0.6M64.2,259.9h0.6M66.1,255.8h0.6M59.1,265.2h0.6M56.9,256.3h0.6M48.8,256.1h0.6M65.9,263.0h0.6M65.2,260.5h0.6M64.7,259.4h0.6M68.1,257.4h0.6M68.6,257.7h0.6M47.3,252.9h0.6M58.5,256.2h0.6M50.4,255.0h0.6M61.5,259.6h0.6M66.8,254.6h0.6M63.0,262.1h0.6M62.8,265.0h0.6M56.3,258.0h0.6M61.4,256.4h0.6M59.6,258.9h0.6M59.8,256.0h0.6M56.5,257.7h0.6M47.9,258.7h0.6M51.4,257.0h0.6M51.5,258.4h0.6M57.1,257.0h0.6M54.2,258.5h0.6M72.6,250.9h0.6M64.1,258.9h0.6M57.0,253.0h0.6M72.4,258.7h0.6M67.9,256.6h0.6M54.0,262.2h0.6M65.8,256.8h0.6M58.3,260.4h0.6M53.8,254.7h0.6M59.7,262.0h0.6M66.8,258.8h0.6M70.6,257.4h0.6M56.2,267.2h0.6M56.2,260.4h0.6M64.4,258.5h0.6M61.8,260.7h0.6M64.4,255.8h0.6M60.1,263.4h0.6M65.8,256.3h0.6M60.6,254.2h0.6M50.0,256.0h0.6M72.6,255.6h0.6M44.7,257.6h0.6M54.7,260.9h0.6M69.7,256.7h0.6M61.0,254.6h0.6M69.5,255.2h0.6M60.3,267.3h0.6M52.9,258.7h0.6M59.7,259.9h0.6M63.7,263.8h0.6M63.9,260.4h0.6M50.5,259.6h0.6M49.7,262.8h0.6M59.7,261.8h0.6M56.3,259.0h0.6M60.8,260.2h0.6M59.3,255.8h0.6M57.2,255.5h0.6M52.9,253.3h0.6M48.7,265.4h0.6M54.4,253.7h0.6M67.8,259.2h0.6M59.1,262.5h0.6M74.6,254.8h0.6M71.2,260.3h0.6M69.2,256.0h0.6M73.2,262.6h0.6M39.9,263.0h0.6M70.6,252.7h0.6M62.7,257.4h0.6M61.9,254.7h0.6M65.2,260.9h0.6M59.3,257.8h0.6M46.7,260.2h0.6M50.2,258.1h0.6M53.9,268.2h0.6M60.1,264.0h0.6M59.8,257.9h0.6M65.9,257.9h0.6M78.3,257.4h0.6M72.8,253.4h0.6M53.0,260.6h0.6M49.4,265.7h0.6M64.3,258.4h0.6M74.0,256.0h0.6M54.3,247.9h0.6M45.0,256.9h0.6M43.9,261.0h0.6M67.8,259.8h0.6M47.4,254.7h0.6M49.3,260.8h0.6M68.2,257.2h0.6M60.6,258.9h0.6M65.9,254.5h0.6M52.6,261.1h0.6M64.1,259.9h0.6M60.5,261.1h0.6M63.8,255.7h0.6M73.5,262.3h0.6M58.2,257.7h0.6M54.5,252.6h0.6M51.9,252.4h0.6M54.9,259.3h0.6M59.6,252.4h0.6M58.5,255.6h0.6M51.5,262.4h0.6M51.9,261.6h0.6M46.8,259.1h0.6M54.6,261.8h0.6M63.3,255.0h0.6M65.1,263.1h0.6M70.6,263.9h0.6M57.3,266.6h0.6M55.5,257.5h0.6M48.0,257.2h0.6M48.7,258.5h0.6M46.2,265.4h0.6M66.5,264.4h0.6M69.4,258.7h0.6M63.9,258.9h0.6M45.3,253.4h0.6M57.0,261.8h0.6M49.2,258.8h0.6M55.6,261.0h0.6M66.2,253.9h0.6M51.1,263.9h0.6M68.5,258.0h0.6M66.8,258.3h0.6M63.9,256.5h0.6M64.5,264.7h0.6M71.7,263.1h0.6M61.2,261.9h0.6M56.8,256.9h0.6M61.3,253.8h0.6M61.7,251.3h0.6M73.2,261.5h0.6M62.6,255.3h0.6M55.4,256.5h0.6M47.0,256.4h0.6M52.9,261.4h0.6M70.8,263.9h0.6M49.4,252.6h0.6M71.6,261.2h0.6M68.6,260.7h0.6M62.1,266.5h0.6M67.1,260.8h0.6M52.2,258.7h0.6M70.9,260.3h0.6M67.5,257.3h0.6M65.9,255.8h0.6M58.7,262.4h0.6M73.7,256.8h0.6M58.5,257.2h0.6M58.7,258.2h0.6M67.2,259.5h0.6M60.1,259.9h0.6M46.1,257.5h0.6M75.9,254.0h0.6M55.5,259.1h0.6M68.2,257.0h0.6M51.8,264.2h0.6M41.6,254.5h0.6M54.2,248.8h0.6M71.0,265.9h0.6M48.1,256.4h0.6M58.1,260.8h0.6M58.6,260.3h0.6M63.9,257.5h0.6M60.5,263.7h0.6M61.6,260.7h0.6M59.9,260.9h0.6M73.1,258.4h0.6M56.3,255.1h0.6M68.3,255.0h0.6M63.9,268.2h0.6M61.9,265.2h0.6M60.2,257.7h0.6M64.8,254.6h0.6M40.7,257.9h0.6M54.3,258.9h0.6M75.9,260.5h0.6M47.9,259.8h0.6M45.8,249.3h0.6M77.3,254.3h0.6M42.4,257.8h0.6M58.6,259.9h0.6M58.8,257.3h0.6M67.0,257.4h0.6M54.1,259.5h0.6M55.6,262.5h0.6M60.4,257.4h0.6M56.7,260.5h0.6M68.3,256.9h0.6M42.3,261.2h0.6M54.0,260.6h0.6M55.3,259.7h0.6M58.1,254.8h0.6M49.6,257.7h0.6M61.4,251.5h0.6M40.6,259.2h0.6M77.8,254.8h0.6M58.0,253.7h0.6M49.9,264.1h0.6M46.9,259.1h0.6M54.2,260.5h0.6M72.9,258.7h0.6M57.7,262.5h0.6M57.7,250.5h0.6M71.1,256.0h0.6M62.0,267.1h0.6M67.8,259.4h0.6M73.8,254.5h0.6M46.7,253.5h0.6M61.0,259.0h0.6M54.7,266.8h0.6M66.9,258.9h0.6M54.6,257.9h0.6M62.6,256.6h0.6M83.8,265.1h0.6M65.7,258.2h0.6M46.2,262.5h0.6M54.7,262.5h0.6M63.7,252.8h0.6M60.7,257.4h0.6M58.4,257.8h0.6M61.1,257.3h0.6M67.0,260.4h0.6M59.0,257.5h0.6M57.6,256.6h0.6M59.0,259.0h0.6M57.8,250.5h0.6M60.9,254.5h0.6M60.0,268.2h0.6M68.6,248.4h0.6M45.8,262.2h0.6M53.8,251.7h0.6M46.0,257.5h0.6M53.6,258.0h0.6M57.7,258.2h0.6M56.7,254.8h0.6M66.0,264.4h0.6M53.1,257.4h0.6M76.7,253.6h0.6M51.0,260.3h0.6M67.5,258.0h0.6M69.5,257.6h0.6M61.9,258.0h0.6M62.8,258.2h0.6M71.9,261.1h0.6M73.5,257.5h0.6M53.8,255.6h0.6M56.9,259.4h0.6M56.7,259.2h0.6M63.6,253.4h0.6M48.8,263.4h0.6M55.0,265.7h0.6M57.7,252.5h0.6M50.6,254.8h0.6M81.5,250.5h0.6M41.0,254.3h0.6M60.6,267.1h0.6M68.5,254.2h0.6M72.9,263.3h0.6M54.8,260.5h0.6M63.3,257.5h0.6M56.5,255.7h0.6M63.8,256.0h0.6M67.3,260.9h0.6M47.1,259.8h0.6M58.7,261.3h0.6M57.3,262.9h0.6M66.9,261.8h0.6M65.2,252.5h0.6M59.7,262.6h0.6M67.5,260.5h0.6M60.0,257.8h0.6M49.1,250.8h0.6M58.7,261.4h0.6M58.0,255.9h0.6M58.7,263.5h0.6M55.2,257.7h0.6M63.0,262.4h0.6M63.6,256.0h0.6M56.1,253.5h0.6M58.6,262.1h0.6M61.6,256.3h0.6M51.3,256.7h0.6M66.4,260.6h0.6M63.9,261.6h0.6M70.2,259.0h0.6M65.5,250.3h0.6M65.6,256.8h0.6M62.3,254.4h0.6M58.0,253.6h0.6M59.6,254.0h0.6M68.7,256.9h0.6M61.5,255.6h0.6M59.2,255.3h0.6M53.4,260.1h0.6M54.7,253.5h0.6M57.1,267.2h0.6M68.8,259.1h0.6M62.6,259.4h0.6M63.7,267.4h0.6M72.6,258.9h0.6M46.6,254.4h0.6M62.4,256.3h0.6M63.9,257.0h0.6M64.3,260.0h0.6M56.7,253.0h0.6M57.9,255.4h0.6M53.0,258.6h0.6M70.1,256.8h0.6M57.3,253.9h0.6M62.7,259.2h0.6M62.0,264.5h0.6M62.7,262.4h0.6M57.7,259.8h0.6M53.6,261.4h0.6M72.1,254.5h0.6M53.9,259.3h0.6M60.5,261.7h0.6M39.2,255.9h0.6M64.6,259.2h0.6M51.8,261.1h0.6M61.5,258.3h0.6M58.6,257.8h0.6M65.3,252.7h0.6M33.1,260.7h0.6M40.8,259.0h0.6M60.6,259.6h0.6M51.5,260.4h0.6M57.9,256.2h0.6M58.3,254.8h0.6M73.5,255.6h0.6M60.4,256.8h0.6M61.9,258.4h0.6M58.0,258.4h0.6M61.7,259.1h0.6M69.0,257.8h0.6M59.7,260.3h0.6M59.3,259.9h0.6M65.3,249.3h0.6M61.3,256.5h0.6M47.7,253.1h0.6M49.0,262.3h0.6M69.6,258.4h0.6M59.6,253.8h0.6M77.2,264.3h0.6M62.5,255.0h0.6M59.4,255.6h0.6M50.6,253.8h0.6M53.0,255.5h0.6M63.7,254.3h0.6M64.2,259.0h0.6M68.2,263.6h0.6M79.1,262.1h0.6M57.3,257.3h0.6M82.8,253.9h0.6M61.0,263.1h0.6M60.5,260.1h0.6M74.8,261.8h0.6M60.9,260.7h0.6M62.9,260.9h0.6M65.2,257.1h0.6M61.1,259.3h0.6M59.0,256.2h0.6M68.0,249.4h0.6M58.5,262.4h0.6M63.0,253.6h0.6M52.7,266.1h0.6M65.9,258.0h0.6M61.2,257.1h0.6M63.4,254.7h0.6M61.8,257.9h0.6M62.1,261.9h0.6M46.2,257.8h0.6M61.9,259.0h0.6M60.2,259.8h0.6M69.1,256.4h0.6M62.1,261.4h0.6M59.2,262.4h0.6M55.1,263.0h0.6M62.6,263.9h0.6M71.5,254.6h0.6M68.0,260.2h0.6M61.3,256.6h0.6M63.6,257.3h0.6M60.8,258.3h0.6M61.2,257.3h0.6M49.5,259.0h0.6M34.3,259.3h0.6M59.4,257.8h0.6M56.3,259.4h0.6M64.5,256.2h0.6M55.5,254.3h0.6M50.8,259.9h0.6M59.7,263.8h0.6M48.2,253.7h0.6M61.5,256.3h0.6M63.0,254.8h0.6M70.3,257.1h0.6M63.2,262.6h0.6M50.8,256.7h0.6M52.0,261.5h0.6M46.2,256.2h0.6M55.1,261.7h0.6M73.2,258.4h0.6M75.2,260.9h0.6M49.7,257.4h0.6M52.3,261.3h0.6M63.8,259.4h0.6M53.4,257.3h0.6M50.7,257.9h0.6M71.5,257.2h0.6M71.7,258.7h0.6M57.9,260.3h0.6M48.8,264.4h0.6M62.3,253.7h0.6M66.2,254.3h0.6M67.5,263.0h0.6M67.9,253.4h0.6M57.5,262.4h0.6M64.1,260.2h0.6M79.0,262.2h0.6M58.3,253.5h0.6M55.0,252.4h0.6M54.0,258.6h0.6M50.0,258.2h0.6M55.8,260.0h0.6M50.0,255.1h0.6M60.5,260.1h0.6M60.8,246.4h0.6M58.1,250.6h0.6M58.8,254.1h0.6M52.2,255.8h0.6M63.8,257.7h0.6M64.2,257.9h0.6M56.4,262.9h0.6M75.4,255.1h0.6M60.8,252.3h0.6M60.1,254.6h0.6M70.2,259.5h0.6M61.8,262.3h0.6M62.5,247.0h0.6M72.5,264.5h0.6M61.0,262.8h0.6M63.8,252.3h0.6M47.6,263.8h0.6M67.1,264.5h0.6M75.3,257.4h0.6M65.9,260.6h0.6M66.0,260.1h0.6M56.2,259.4h0.6M45.3,259.8h0.6M56.5,255.1h0.6M62.9,259.3h0.6M62.4,255.2h0.6M55.1,257.1h0.6M58.9,256.4h0.6M51.5,258.7h0.6M54.5,257.8h0.6M51.8,248.8h0.6M60.8,259.5h0.6M58.7,261.6h0.6M61.4,257.2h0.6M69.5,259.3h0.6M54.6,258.6h0.6M56.8,254.3h0.6M65.5,257.4h0.6M55.9,257.7h0.6M75.9,264.0h0.6M70.0,253.7h0.6M48.1,257.9h0.6M60.8,260.5h0.6M61.3,261.1h0.6M52.4,260.8h0.6M59.1,261.7h0.6M64.4,251.2h0.6M59.9,263.2h0.6M68.8,261.5h0.6M56.3,256.3h0.6M66.0,253.4h0.6M66.2,257.3h0.6M68.0,263.7h0.6M60.0,255.1h0.6" fill="none" stroke="#333" stroke-width="0.6" stroke-linecap="butt" opacity="0.8"/>
<path d="M47.3,271.9h0.6M54.3,266.2h0.6M61.8,270.5h0.6M54.4,284.4h0.6M53.0,259.9h0.6M47.8,265.8h0.6M60.0,276.8h0.6M62.8,284.8h0.6M66.3,275.3h0.6M64.2,275.5h0.6M52.8,277.0h0.6M56.6,268.7h0.6M68.4,276.6h0.6M53.4,269.8h0.6M70.5,268.4h0.6M60.8,275.5h0.6M59.4,275.2h0.6M53.4,266.7h0.6M55.4,267.5h0.6M61.2,282.9h0.6M50.9,274.9h0.6M50.4,264.8h0.6M54.9,271.3h0.6M53.7,249.3h0.6M64.8,268.2h0.6M52.5,276.0h0.6M52.7,258.9h0.6M59.3,273.8h0.6M51.3,277.2h0.6M58.6,261.2h0.6M67.0,272.6h0.6M49.4,274.1h0.6M57.1,278.3h0.6M48.1,278.9h0.6M62.1,276.1h0.6M60.0,281.1h0.6M60.7,271.5h0.6M51.2,279.5h0.6M62.3,272.9h0.6M57.3,276.3h0.6M41.0,273.0h0.6M41.1,272.4h0.6M62.7,285.8h0.6M53.4,273.9h0.6M55.9,252.4h0.6M60.7,270.3h0.6M56.7,262.7h0.6M56.0,271.1h0.6M64.1,272.8h0.6M77.5,267.1h0.6M54.7,270.0h0.6M51.4,282.6h0.6M60.2,260.1h0.6M56.9,279.7h0.6M47.7,271.6h0.6M54.8,289.3h0.6M58.8,267.1h0.6M52.9,285.7h0.6M53.5,288.9h0.6M46.8,268.8h0.6M54.8,264.7h0.6M55.0,276.0h0.6M52.2,258.8h0.6M64.5,282.3h0.6M52.1,272.9h0.6M40.6,278.8h0.6M48.2,265.9h0.6M69.4,260.1h0.6M56.4,261.7h0.6M45.0,260.9h0.6M57.9,259.8h0.6M52.7,276.3h0.6M55.3,259.7h0.6M65.4,271.4h0.6M64.8,261.9h0.6M66.5,259.4h0.6M45.7,266.9h0.6M54.0,272.5h0.6M52.9,275.5h0.6M64.4,265.1h0.6M47.9,267.1h0.6M61.3,277.0h0.6M54.2,262.4h0.6M56.2,278.2h0.6M51.9,280.9h0.6M57.6,272.7h0.6M52.5,281.4h0.6M56.5,258.3h0.6M61.2,267.0h0.6M62.8,271.7h0.6M52.5,271.7h0.6M53.3,263.7h0.6M56.4,277.1h0.6M56.7,269.7h0.6M52.9,275.0h0.6M57.9,278.1h0.6M58.5,287.6h0.6M46.7,269.9h0.6M59.5,277.6h0.6M46.9,260.5h0.6M56.0,278.9h0.6M62.9,258.1h0.6M57.1,279.8h0.6M56.4,262.0h0.6M51.9,259.5h0.6M63.5,268.2h0.6M53.7,263.3h0.6M55.4,263.0h0.6M50.3,270.0h0.6M54.9,274.0h0.6M57.1,279.9h0.6M56.0,272.5h0.6M57.6,263.8h0.6M63.5,265.8h0.6M46.7,280.4h0.6M60.2,265.8h0.6M62.0,278.1h0.6M60.5,260.8h0.6M57.3,261.9h0.6M52.5,265.8h0.6M51.1,274.3h0.6M51.5,275.4h0.6M57.3,265.4h0.6M57.3,275.9h0.6M63.2,268.2h0.6M66.8,275.0h0.6M63.8,259.4h0.6M49.8,280.1h0.6M54.9,274.1h0.6M63.5,258.7h0.6M59.0,286.0h0.6M61.1,271.1h0.6M59.7,270.4h0.6M60.9,280.9h0.6M54.9,275.0h0.6M58.1,276.3h0.6M61.3,261.7h0.6M63.3,277.3h0.6M49.6,268.0h0.6M47.4,268.0h0.6M58.2,261.0h0.6M51.6,263.2h0.6M52.0,264.1h0.6M49.8,274.9h0.6M54.9,263.7h0.6M62.2,265.8h0.6M61.7,260.3h0.6M64.7,266.7h0.6M50.5,273.6h0.6M48.2,261.6h0.6M57.7,266.4h0.6M58.7,271.5h0.6M57.8,271.4h0.6M60.5,270.3h0.6M62.9,277.9h0.6M44.4,256.2h0.6M65.6,266.7h0.6M57.4,269.4h0.6M57.9,288.1h0.6M52.0,270.8h0.6M56.3,261.6h0.6M51.0,268.1h0.6M56.1,273.4h0.6M44.4,257.7h0.6M66.2,268.9h0.6M61.2,266.9h0.6M51.9,287.3h0.6M48.8,263.0h0.6M60.3,270.5h0.6M46.3,271.4h0.6M60.6,258.0h0.6M52.9,276.6h0.6M67.8,251.6h0.6M52.1,270.5h0.6M50.7,263.0h0.6M53.2,274.4h0.6M49.8,277.3h0.6M61.2,277.1h0.6M65.5,266.1h0.6M55.9,278.3h0.6M63.8,277.8h0.6M53.5,266.4h0.6M48.3,266.8h0.6M50.8,266.4h0.6M53.9,277.0h0.6M61.4,269.9h0.6M49.3,269.9h0.6M58.8,277.2h0.6M57.5,276.8h0.6M52.3,275.5h0.6M60.7,267.4h0.6M51.7,280.2h0.6M50.2,275.8h0.6M54.6,267.5h0.6M54.7,266.7h0.6M56.0,284.6h0.6M65.0,269.2h0.6M59.0,277.6h0.6M53.7,285.0h0.6M56.4,275.3h0.6M50.5,261.3h0.6M50.2,265.1h0.6M62.4,267.7h0.6M61.5,266.9h0.6M50.5,271.6h0.6M53.8,257.0h0.6M56.5,279.8h0.6M55.0,260.7h0.6M51.7,260.6h0.6M54.8,262.7h0.6M55.5,271.7h0.6M64.2,261.0h0.6M43.9,283.3h0.6M58.8,267.4h0.6M59.2,262.8h0.6M54.2,275.7h0.6M54.3,271.3h0.6M58.8,271.2h0.6M54.8,274.4h0.6M64.2,280.5h0.6M50.9,276.4h0.6M44.8,258.9h0.6M58.6,274.6h0.6M64.4,256.5h0.6M62.7,265.9h0.6M53.4,273.8h0.6M64.6,262.7h0.6M45.9,265.5h0.6M55.5,279.9h0.6M58.4,267.9h0.6M53.2,266.6h0.6M62.0,257.0h0.6M52.0,263.3h0.6M62.9,271.3h0.6M52.2,276.3h0.6M67.9,278.4h0.6M48.4,268.6h0.6M63.0,255.8h0.6M48.8,266.9h0.6M59.3,263.7h0.6M57.1,269.0h0.6M58.1,260.6h0.6M42.9,253.0h0.6M57.2,278.0h0.6M59.0,257.4h0.6M45.7,267.9h0.6M50.7,255.5h0.6M52.7,263.8h0.6M55.4,273.2h0.6M57.3,271.6h0.6" fill="none" stroke="#333" stroke-width="0.6" stroke-linecap="butt" opacity="0.7"/>
<path d="M79.5,286.1h0.6M75.3,266.3h0.6M81.7,281.0h0.6M82.6,280.4h0.6M79.7,273.8h0.6M75.9,276.2h0.6M78.2,283.1h0.6M84.3,270.0h0.6M84.8,277.4h0.6M87.3,286.7h0.6M84.0,266.9h0.6M84.6,268.2h0.6M90.1,273.7h0.6M79.5,288.7h0.6M70.0,277.8h0.6M74.2,274.5h0.6M75.8,281.8h0.6M78.8,279.8h0.6M84.5,267.3h0.6M89.2,276.2h0.6M70.6,273.7h0.6M86.0,283.8h0.6M76.5,278.3h0.6M82.1,284.0h0.6M79.9,283.7h0.6M75.3,273.3h0.6M84.7,282.1h0.6M80.4,281.4h0.6M82.0,282.4h0.6M87.8,280.9h0.6M85.7,275.3h0.6M77.3,263.3h0.6M83.2,277.9h0.6M84.0,266.3h0.6M77.7,274.3h0.6M69.7,283.2h0.6M88.2,269.9h0.6M83.4,288.3h0.6M73.3,283.7h0.6M90.4,289.1h0.6M72.4,271.2h0.6M82.0,285.1h0.6M73.0,273.1h0.6M73.9,284.5h0.6M77.3,281.2h0.6M84.7,284.8h0.6M83.3,279.8h0.6M87.8,280.6h0.6M73.0,274.4h0.6M86.3,278.6h0.6M78.5,279.2h0.6M101.1,277.4h0.6M83.7,280.5h0.6M79.0,285.0h0.6M86.0,280.2h0.6M72.4,285.5h0.6M85.4,277.2h0.6M64.1,277.3h0.6M73.2,276.3h0.6M77.6,272.6h0.6M86.9,278.4h0.6M88.3,271.8h0.6M79.5,286.1h0.6M82.7,273.2h0.6M75.2,274.0h0.6M80.2,281.9h0.6M81.6,282.3h0.6M85.9,278.4h0.6M88.6,282.2h0.6M79.6,276.7h0.6M80.6,273.1h0.6M72.4,277.9h0.6M77.5,281.3h0.6M77.0,278.3h0.6M81.9,274.8h0.6M81.9,273.2h0.6M78.0,282.6h0.6M83.1,277.7h0.6M75.8,282.0h0.6M93.0,264.3h0.6M87.1,279.0h0.6M87.4,284.9h0.6M74.4,288.4h0.6M77.0,276.1h0.6M84.5,277.1h0.6M82.3,274.5h0.6M74.3,277.8h0.6M73.9,285.9h0.6M82.2,286.3h0.6M73.0,264.8h0.6M66.6,275.3h0.6M72.7,279.9h0.6M71.7,269.1h0.6M82.4,275.2h0.6M84.8,282.6h0.6M82.8,270.2h0.6M75.3,291.6h0.6M79.2,279.4h0.6M81.4,277.5h0.6M79.6,274.2h0.6M77.5,265.2h0.6M90.9,277.0h0.6M72.6,280.8h0.6M84.8,268.8h0.6M77.4,286.8h0.6M84.0,280.3h0.6M86.8,276.8h0.6M78.8,287.5h0.6M79.5,277.2h0.6M84.6,277.8h0.6M73.0,289.3h0.6M80.2,288.7h0.6M83.8,272.0h0.6M90.2,276.6h0.6M75.4,277.5h0.6M67.5,280.1h0.6M76.2,276.1h0.6M75.2,281.8h0.6M82.8,284.3h0.6M90.9,279.4h0.6M81.2,279.5h0.6M75.6,274.3h0.6M85.3,272.4h0.6M68.7,275.5h0.6M82.2,286.7h0.6M76.2,271.9h0.6M81.2,276.7h0.6M82.2,274.5h0.6M81.9,274.1h0.6M86.7,279.3h0.6M84.1,274.9h0.6M71.8,277.7h0.6M80.3,284.4h0.6M86.5,277.4h0.6M80.3,271.5h0.6M80.4,278.9h0.6M78.1,271.0h0.6M88.5,271.9h0.6M90.7,284.8h0.6M90.1,272.4h0.6M84.4,269.1h0.6M78.4,268.2h0.6M76.1,274.5h0.6M86.5,284.2h0.6M78.3,275.8h0.6M74.8,270.6h0.6M69.7,276.2h0.6M84.2,272.9h0.6M82.8,270.5h0.6M74.4,274.3h0.6M85.9,274.3h0.6M85.2,275.4h0.6M73.8,265.3h0.6M77.6,271.7h0.6M86.0,280.2h0.6M70.6,282.6h0.6M83.8,259.9h0.6M74.2,279.0h0.6M70.8,273.1h0.6M83.7,279.0h0.6M83.2,281.2h0.6M75.1,292.0h0.6M83.7,290.5h0.6M78.9,280.9h0.6M82.6,276.6h0.6M82.4,279.1h0.6M85.4,279.4h0.6M80.8,280.4h0.6M89.2,277.9h0.6M84.1,278.3h0.6M68.6,272.0h0.6M74.9,269.1h0.6M76.7,266.8h0.6M82.1,274.2h0.6M87.9,279.8h0.6M72.8,276.1h0.6M80.7,273.4h0.6M78.3,270.9h0.6M76.0,279.1h0.6M78.4,284.7h0.6M67.7,272.7h0.6M78.2,286.3h0.6M87.1,282.0h0.6M86.3,287.0h0.6M84.5,276.0h0.6M81.5,273.1h0.6M79.0,279.6h0.6M77.4,278.0h0.6M77.8,269.5h0.6M71.7,281.5h0.6M80.6,282.4h0.6M79.7,277.3h0.6M82.0,275.3h0.6M88.6,283.4h0.6M82.7,271.1h0.6M77.1,278.6h0.6M87.3,277.1h0.6M80.1,280.4h0.6M81.0,276.3h0.6M73.5,284.6h0.6M79.9,274.1h0.6M79.6,269.3h0.6M70.2,266.5h0.6M82.4,269.3h0.6M80.9,270.1h0.6M69.5,273.5h0.6M75.7,273.0h0.6M90.5,278.4h0.6M76.6,282.4h0.6M78.2,284.4h0.6M70.8,283.6h0.6M73.6,272.7h0.6M81.3,270.7h0.6M70.3,274.7h0.6M78.3,267.2h0.6M85.9,272.1h0.6M76.4,275.7h0.6M80.4,283.4h0.6M67.1,277.1h0.6M85.4,278.5h0.6M79.6,270.4h0.6M82.1,274.1h0.6M80.8,270.7h0.6M78.1,276.2h0.6M71.1,283.2h0.6M79.3,269.3h0.6M78.5,277.8h0.6M78.0,270.8h0.6M78.7,268.9h0.6M70.0,284.1h0.6M90.2,288.2h0.6M93.6,285.1h0.6M74.4,273.6h0.6M86.6,274.2h0.6M77.9,276.9h0.6M82.5,268.8h0.6M80.2,279.9h0.6M67.7,283.8h0.6M84.6,272.1h0.6M91.0,279.5h0.6M82.9,286.3h0.6M64.6,277.1h0.6M86.4,285.5h0.6M79.8,275.9h0.6M75.4,275.0h0.6M74.8,262.6h0.6M76.5,270.9h0.6M76.4,274.2h0.6M77.1,277.6h0.6M79.6,274.8h0.6M76.3,276.4h0.6M78.1,276.2h0.6M88.3,278.4h0.6M77.6,264.7h0.6M71.3,259.2h0.6M85.3,283.6h0.6M77.6,274.2h0.6M82.8,280.4h0.6M69.6,275.5h0.6M78.1,269.4h0.6M88.5,281.5h0.6M76.4,276.7h0.6M76.7,274.0h0.6M77.6,283.1h0.6M80.0,274.1h0.6M75.9,278.6h0.6M74.7,267.3h0.6M79.2,286.5h0.6M75.9,277.9h0.6M78.8,284.4h0.6M82.8,269.4h0.6M90.5,277.0h0.6M74.5,274.0h0.6M80.4,283.5h0.6M78.3,272.5h0.6M88.0,286.4h0.6M77.9,277.8h0.6M82.2,275.2h0.6M74.5,283.3h0.6M73.4,266.0h0.6M83.5,284.0h0.6M84.9,272.4h0.6M78.5,270.4h0.6M76.8,262.2h0.6M74.8,285.3h0.6M73.0,287.4h0.6M81.0,265.2h0.6M85.7,271.3h0.6M83.3,275.9h0.6M77.9,275.9h0.6M72.1,272.4h0.6M77.6,287.7h0.6M76.5,279.0h0.6M82.7,284.4h0.6M78.6,278.2h0.6M74.4,292.3h0.6M71.0,278.6h0.6M77.9,278.0h0.6M76.9,274.3h0.6M86.0,282.8h0.6M79.6,276.2h0.6M81.2,276.6h0.6M82.7,281.6h0.6M82.9,267.6h0.6M79.7,270.6h0.6M82.7,275.3h0.6M81.9,276.5h0.6M85.7,285.2h0.6M81.1,268.1h0.6M80.1,289.0h0.6M75.9,276.6h0.6M94.8,287.3h0.6M84.0,278.5h0.6M72.1,287.0h0.6M85.6,266.9h0.6M79.4,276.3h0.6M79.7,273.1h0.6M95.0,271.8h0.6M88.9,280.9h0.6M80.1,279.8h0.6M84.6,272.4h0.6M77.9,284.4h0.6M85.8,279.5h0.6M72.9,267.3h0.6M89.1,285.8h0.6M83.2,279.5h0.6M78.2,280.2h0.6M87.4,281.7h0.6M76.9,279.3h0.6M76.9,276.7h0.6M73.5,262.9h0.6M73.9,278.3h0.6M75.4,280.4h0.6M76.8,278.9h0.6M77.4,285.8h0.6M77.8,277.3h0.6M87.0,286.1h0.6M73.2,286.0h0.6M73.8,271.4h0.6M75.1,283.2h0.6M73.8,280.7h0.6M82.7,276.0h0.6M82.9,289.6h0.6M89.9,272.1h0.6M81.8,274.8h0.6M79.4,274.0h0.6M83.5,272.1h0.6M72.7,277.5h0.6M82.1,284.5h0.6M84.2,272.0h0.6M74.7,279.1h0.6M81.8,281.6h0.6M88.1,263.8h0.6M76.5,280.5h0.6M73.8,287.2h0.6M79.7,280.8h0.6M79.0,279.3h0.6M82.6,280.5h0.6M72.0,265.8h0.6M79.7,282.0h0.6M78.7,276.2h0.6M86.6,281.2h0.6M74.6,278.2h0.6M79.0,277.6h0.6M79.8,280.7h0.6M80.2,279.3h0.6M80.4,276.0h0.6M76.8,278.9h0.6M82.9,286.7h0.6M95.1,273.2h0.6M76.3,283.5h0.6M77.8,278.0h0.6M72.7,280.8h0.6M71.5,283.2h0.6M75.3,278.7h0.6M86.2,272.2h0.6M79.6,290.0h0.6M71.9,278.0h0.6M68.4,279.3h0.6M79.3,270.6h0.6M73.2,284.7h0.6M84.3,270.0h0.6M85.1,271.7h0.6M75.5,279.7h0.6M79.6,280.4h0.6M86.7,273.5h0.6M83.6,279.1h0.6M70.3,282.0h0.6M86.3,269.0h0.6M78.3,283.1h0.6M85.6,275.1h0.6M78.9,275.4h0.6M72.9,277.9h0.6M92.9,268.8h0.6M80.1,271.6h0.6M89.3,267.4h0.6M85.6,279.9h0.6M75.1,275.4h0.6M80.6,287.5h0.6M81.9,284.4h0.6M86.6,277.8h0.6M80.5,276.9h0.6M90.1,285.1h0.6M86.1,273.4h0.6M78.6,281.8h0.6M79.2,269.1h0.6M71.3,280.0h0.6M84.8,280.5h0.6M89.6,267.8h0.6M69.6,277.9h0.6M85.5,272.2h0.6M81.8,279.2h0.6M77.4,272.2h0.6M78.3,276.7h0.6M84.6,275.4h0.6M74.4,270.7h0.6M77.5,280.2h0.6M75.1,275.0h0.6M83.3,278.7h0.6M92.4,280.1h0.6M83.9,289.9h0.6M69.0,266.8h0.6M75.5,277.9h0.6M87.2,281.2h0.6M76.9,268.5h0.6M82.3,275.5h0.6M74.3,269.6h0.6M84.3,275.4h0.6M81.2,276.4h0.6M75.5,274.2h0.6M76.3,276.6h0.6M75.8,280.7h0.6M74.0,278.4h0.6M80.7,280.6h0.6M61.9,280.7h0.6M82.0,274.2h0.6M77.8,274.5h0.6M71.0,294.6h0.6M78.5,279.4h0.6M72.6,274.0h0.6M65.5,276.0h0.6M74.3,276.5h0.6M82.0,284.6h0.6M79.7,269.9h0.6M76.5,279.9h0.6M90.5,261.7h0.6M71.9,272.2h0.6M78.4,280.1h0.6M87.8,279.9h0.6M88.0,272.4h0.6M74.5,266.5h0.6M74.6,280.3h0.6M79.3,288.3h0.6M77.3,270.2h0.6M82.4,264.0h0.6M84.1,278.2h0.6M70.7,278.9h0.6M80.3,283.5h0.6M77.4,272.7h0.6M79.0,275.1h0.6M72.7,281.5h0.6M84.7,271.6h0.6M75.5,269.4h0.6M76.1,271.7h0.6M78.7,279.9h0.6M87.9,270.2h0.6M74.2,268.8h0.6M78.5,280.4h0.6M73.4,275.6h0.6M72.8,267.2h0.6M75.5,280.6h0.6M76.5,265.1h0.6M72.6,273.7h0.6M90.5,268.5h0.6M95.6,281.5h0.6M86.3,281.3h0.6M63.3,277.0h0.6M80.2,278.8h0.6M86.4,275.3h0.6M73.9,278.6h0.6M79.8,278.4h0.6M76.1,275.5h0.6M60.2,277.1h0.6M85.1,276.5h0.6M78.5,279.6h0.6M77.1,274.6h0.6M89.3,286.5h0.6M68.2,272.5h0.6M80.8,280.6h0.6M71.9,272.7h0.6M83.1,283.4h0.6M73.5,274.3h0.6M77.4,283.0h0.6M82.1,278.7h0.6M90.6,281.1h0.6M80.0,286.0h0.6M89.3,285.2h0.6M90.7,278.9h0.6M67.2,274.4h0.6M80.7,276.4h0.6" fill="none" stroke="#333" stroke-width="0.6" stroke-linecap="butt" opacity="0.8"/>
<path d="M47.1,284.5h0.6M44.3,276.8h0.6M47.6,284.8h0.6M60.4,270.5h0.6M81.3,239.6h0.6M45.8,297.7h0.6M42.0,274.0h0.6M44.2,295.1h0.6M62.9,262.8h0.6M47.9,275.5h0.6M59.9,277.4h0.6M46.8,300.3h0.6M40.0,287.7h0.6M32.9,279.8h0.6M15.7,271.3h0.6M36.3,273.7h0.6M74.9,250.4h0.6M11.3,287.1h0.6M52.6,285.9h0.6M60.5,314.2h0.6M36.9,264.2h0.6M41.3,300.9h0.6M49.9,280.8h0.6M48.3,287.9h0.6M18.7,290.2h0.6M31.7,280.2h0.6M36.2,284.9h0.6M57.4,280.8h0.6M46.1,297.0h0.6M50.6,274.1h0.6M55.5,277.9h0.6M39.9,287.0h0.6M65.9,271.3h0.6M38.2,286.1h0.6M31.4,285.6h0.6M62.2,257.9h0.6M44.4,273.5h0.6M73.7,292.6h0.6M52.7,282.2h0.6M29.0,285.0h0.6M49.1,284.4h0.6M70.0,295.2h0.6M30.9,278.4h0.6M48.3,266.5h0.6M41.2,274.9h0.6M46.6,286.0h0.6M34.9,302.5h0.6M35.6,293.9h0.6M28.9,270.2h0.6M35.0,278.2h0.6M56.0,262.4h0.6M68.2,266.7h0.6M65.7,287.0h0.6M37.0,296.3h0.6M37.2,284.1h0.6M45.1,326.0h0.6M29.9,312.0h0.6M40.1,273.8h0.6M37.0,302.3h0.6M41.2,272.8h0.6" fill="none" stroke="#333" stroke-width="0.6" stroke-linecap="butt" opacity="0.6"/>
<rect x="20.4" y="248.5" width="2" height="8" fill="#333"/>
<path d="M47.7,253.2 C48.3,252.0 50.6,250.3 52.0,249.5 C53.4,248.7 53.8,248.6 56.0,248.4 C58.2,248.2 61.8,248.4 65.0,248.3 C68.2,248.2 72.1,247.6 75.4,247.7 C78.8,247.8 82.5,248.3 85.1,249.0 C87.7,249.7 89.8,249.8 91.0,252.0 C92.2,254.2 92.2,258.7 92.0,262.0 C91.8,265.3 91.2,269.5 90.0,272.0 C88.8,274.5 86.8,275.7 85.1,276.8 C83.4,277.9 81.2,278.8 79.6,278.9 C78.0,279.0 76.8,279.0 75.4,277.5 C74.0,276.0 72.6,272.3 71.2,269.9 C69.8,267.5 68.7,264.4 67.1,262.9 C65.5,261.4 64.0,261.6 61.5,260.9 C59.0,260.2 54.1,259.5 51.9,258.8 C49.7,258.1 49.1,257.6 48.4,256.7 C47.7,255.8 47.1,254.4 47.7,253.2Z" fill="#fff" stroke="#444" stroke-width="0.6" />
<path d="M58.7,255.4 C59.1,254.5 60.8,253.3 61.8,252.7 C62.8,252.1 63.1,252.1 64.7,251.9 C66.2,251.8 68.8,251.9 71.2,251.9 C73.5,251.8 76.2,251.3 78.6,251.4 C81.1,251.5 83.8,251.8 85.6,252.4 C87.5,252.9 89.1,253.0 89.9,254.5 C90.7,256.1 90.7,259.3 90.6,261.7 C90.5,264.1 90.0,267.1 89.2,268.9 C88.3,270.7 86.9,271.5 85.6,272.4 C84.4,273.2 82.8,273.8 81.7,273.9 C80.5,274.0 79.7,274.0 78.6,272.9 C77.6,271.8 76.6,269.2 75.6,267.4 C74.6,265.7 73.8,263.4 72.7,262.4 C71.5,261.3 70.5,261.4 68.6,260.9 C66.8,260.4 63.3,259.9 61.7,259.4 C60.2,258.9 59.7,258.6 59.2,257.9 C58.7,257.2 58.3,256.2 58.7,255.4Z" fill="#fafafa" stroke="#666" stroke-width="0.5" />
<path d="M63.4,256.3 C63.8,255.6 65.2,254.6 66.0,254.1 C66.8,253.6 67.1,253.6 68.4,253.4 C69.7,253.3 71.9,253.4 73.8,253.4 C75.7,253.3 78.0,252.9 80.0,253.0 C82.1,253.1 84.3,253.4 85.9,253.8 C87.4,254.2 88.7,254.3 89.4,255.6 C90.1,256.9 90.1,259.6 90.0,261.6 C89.9,263.6 89.5,266.1 88.8,267.6 C88.1,269.1 86.9,269.8 85.9,270.5 C84.8,271.2 83.5,271.7 82.6,271.7 C81.6,271.8 80.9,271.8 80.0,270.9 C79.2,270.0 78.3,267.8 77.5,266.3 C76.7,264.9 76.0,263.0 75.1,262.1 C74.1,261.2 73.2,261.4 71.7,260.9 C70.2,260.5 67.2,260.1 65.9,259.7 C64.6,259.3 64.3,259.0 63.8,258.4 C63.4,257.9 63.1,257.0 63.4,256.3Z" fill="#f0f0f0" stroke="#666" stroke-width="0.5" />
<path d="M67.3,257.1 C67.6,256.5 68.8,255.7 69.5,255.2 C70.2,254.8 70.4,254.8 71.5,254.7 C72.6,254.6 74.4,254.7 76.0,254.7 C77.6,254.6 79.5,254.3 81.2,254.3 C82.9,254.4 84.8,254.6 86.0,255.0 C87.3,255.4 88.4,255.4 89.0,256.5 C89.6,257.6 89.6,259.8 89.5,261.5 C89.4,263.2 89.1,265.3 88.5,266.5 C87.9,267.7 86.9,268.3 86.0,268.9 C85.2,269.5 84.1,269.9 83.3,269.9 C82.5,270.0 81.9,270.0 81.2,269.2 C80.5,268.5 79.8,266.7 79.1,265.4 C78.4,264.2 77.9,262.7 77.0,261.9 C76.2,261.2 75.5,261.3 74.2,260.9 C73.0,260.6 70.5,260.2 69.5,259.9 C68.4,259.5 68.1,259.3 67.7,258.9 C67.3,258.4 67.0,257.7 67.3,257.1Z" fill="#e2e2e2" stroke="#555" stroke-width="0.5" />
<path d="M70.5,257.7 C70.7,257.2 71.7,256.5 72.3,256.2 C72.9,255.8 73.1,255.8 74.0,255.7 C74.9,255.6 76.4,255.7 77.8,255.7 C79.1,255.6 80.7,255.4 82.1,255.4 C83.5,255.5 85.1,255.7 86.2,256.0 C87.3,256.3 88.2,256.3 88.7,257.2 C89.2,258.1 89.2,260.0 89.1,261.4 C89.0,262.8 88.7,264.6 88.3,265.6 C87.8,266.7 86.9,267.2 86.2,267.6 C85.5,268.1 84.6,268.5 83.9,268.5 C83.2,268.6 82.7,268.6 82.1,267.9 C81.5,267.3 80.9,265.8 80.4,264.7 C79.8,263.7 79.3,262.4 78.6,261.8 C78.0,261.2 77.4,261.2 76.3,261.0 C75.2,260.7 73.2,260.4 72.3,260.1 C71.3,259.8 71.1,259.6 70.8,259.2 C70.5,258.8 70.2,258.2 70.5,257.7Z" fill="#cfcfcf" stroke="#555" stroke-width="0.5" />
<path d="M73.2,258.3 C73.5,257.8 74.3,257.3 74.8,257.0 C75.2,256.7 75.4,256.7 76.2,256.6 C76.9,256.5 78.2,256.6 79.3,256.6 C80.4,256.5 81.8,256.3 82.9,256.3 C84.1,256.4 85.4,256.5 86.3,256.8 C87.2,257.1 88.0,257.1 88.4,257.9 C88.8,258.6 88.8,260.2 88.8,261.4 C88.7,262.5 88.5,264.0 88.0,264.9 C87.6,265.7 86.9,266.1 86.3,266.5 C85.7,266.9 85.0,267.2 84.4,267.3 C83.8,267.3 83.4,267.3 82.9,266.8 C82.5,266.2 82.0,265.0 81.5,264.1 C81.0,263.3 80.6,262.2 80.0,261.7 C79.5,261.1 79.0,261.2 78.1,261.0 C77.2,260.7 75.5,260.5 74.7,260.2 C74.0,260.0 73.7,259.8 73.5,259.5 C73.2,259.2 73.0,258.7 73.2,258.3Z" fill="#b0b0b0" stroke="#444" stroke-width="0.5" />
<path d="M76.0,258.8 C76.2,258.5 76.8,258.0 77.2,257.8 C77.6,257.6 77.7,257.5 78.3,257.5 C78.9,257.4 79.9,257.5 80.8,257.4 C81.7,257.4 82.8,257.2 83.8,257.3 C84.7,257.3 85.7,257.4 86.5,257.6 C87.2,257.8 87.8,257.9 88.1,258.5 C88.4,259.1 88.4,260.3 88.4,261.3 C88.4,262.2 88.2,263.4 87.8,264.1 C87.5,264.8 87.0,265.1 86.5,265.4 C86.0,265.7 85.4,266.0 84.9,266.0 C84.5,266.0 84.1,266.0 83.8,265.6 C83.4,265.2 83.0,264.2 82.6,263.5 C82.2,262.8 81.9,262.0 81.4,261.5 C81.0,261.1 80.6,261.2 79.9,261.0 C79.2,260.8 77.8,260.6 77.2,260.4 C76.6,260.2 76.4,260.1 76.2,259.8 C76.0,259.5 75.8,259.2 76.0,258.8Z" fill="#888" stroke="#444" stroke-width="0.5" />
<path d="M78.4,259.3 C78.5,259.0 79.0,258.6 79.3,258.5 C79.6,258.3 79.7,258.3 80.2,258.2 C80.7,258.2 81.4,258.2 82.2,258.2 C82.9,258.2 83.7,258.0 84.4,258.1 C85.2,258.1 86.0,258.2 86.6,258.4 C87.2,258.5 87.6,258.5 87.9,259.0 C88.1,259.5 88.1,260.5 88.1,261.2 C88.1,262.0 87.9,262.9 87.7,263.4 C87.4,264.0 87.0,264.2 86.6,264.5 C86.2,264.7 85.7,264.9 85.4,264.9 C85.0,265.0 84.8,265.0 84.4,264.6 C84.1,264.3 83.8,263.5 83.5,263.0 C83.2,262.4 83.0,261.7 82.6,261.4 C82.3,261.1 81.9,261.1 81.4,261.0 C80.8,260.8 79.8,260.7 79.3,260.5 C78.8,260.4 78.7,260.3 78.5,260.1 C78.4,259.8 78.2,259.5 78.4,259.3Z" fill="#555" stroke="#333" stroke-width="0.5" />
<path d="M80.7,259.8 C80.8,259.6 81.2,259.3 81.4,259.2 C81.6,259.0 81.7,259.0 82.0,259.0 C82.4,259.0 83.0,259.0 83.5,259.0 C84.0,258.9 84.6,258.9 85.1,258.9 C85.7,258.9 86.3,259.0 86.7,259.1 C87.1,259.2 87.5,259.2 87.6,259.6 C87.8,259.9 87.8,260.6 87.8,261.2 C87.8,261.7 87.7,262.4 87.5,262.8 C87.3,263.2 87.0,263.3 86.7,263.5 C86.4,263.7 86.1,263.8 85.8,263.9 C85.6,263.9 85.4,263.9 85.1,263.6 C84.9,263.4 84.7,262.8 84.5,262.4 C84.3,262.0 84.1,261.5 83.8,261.3 C83.6,261.1 83.3,261.1 82.9,261.0 C82.5,260.9 81.7,260.8 81.4,260.6 C81.0,260.5 80.9,260.5 80.8,260.3 C80.7,260.2 80.6,259.9 80.7,259.8Z" fill="#222" stroke="#222" stroke-width="0.5" />
<ellipse cx="86.3" cy="260.3" rx="4.2" ry="7.5" fill="#3a3a3a"/>
<ellipse cx="86.5" cy="260" rx="3" ry="5.5" fill="#111"/>
<ellipse cx="86.2" cy="260" rx="0.9" ry="2.6" fill="#bbb"/>
<path d="M50.5,252.8 C50.8,252.3 52.8,251.3 54.0,251.2 C55.2,251.1 57.6,251.8 58.0,252.3 C58.4,252.8 57.5,253.8 56.5,254.2 C55.5,254.5 53.0,254.6 52.0,254.4 C51.0,254.2 50.2,253.3 50.5,252.8Z" fill="#fff" stroke="#666" stroke-width="0.5" />
</g>
<g clip-path="url(#fc4)">
<path d="M157.0,272.5h0.6M143.2,255.1h0.6M153.4,275.9h0.6M153.8,253.0h0.6M143.4,261.8h0.6M158.7,262.2h0.6M147.1,260.5h0.6M151.8,256.4h0.6M150.3,264.3h0.6M164.7,261.8h0.6M158.8,254.2h0.6M157.9,263.5h0.6M145.5,262.1h0.6M158.2,259.7h0.6M159.3,274.2h0.6M164.6,275.0h0.6M139.1,264.9h0.6M144.3,269.7h0.6M151.0,264.0h0.6M154.4,257.6h0.6M151.2,256.6h0.6M168.7,258.7h0.6M150.5,248.4h0.6M137.3,255.7h0.6M157.4,268.3h0.6M152.8,257.3h0.6M166.7,254.2h0.6M142.8,266.1h0.6M141.5,264.4h0.6M158.9,261.7h0.6M153.9,262.6h0.6M144.4,237.4h0.6M139.5,262.2h0.6M135.8,257.9h0.6M152.2,272.8h0.6M138.2,258.1h0.6M152.3,266.4h0.6M138.1,276.9h0.6M143.1,270.9h0.6M148.5,265.5h0.6M165.1,267.9h0.6M151.5,254.4h0.6M144.5,251.0h0.6M168.2,250.0h0.6M127.4,275.3h0.6M161.7,259.4h0.6M157.8,255.8h0.6M145.2,266.2h0.6M153.8,258.7h0.6M164.8,268.1h0.6M151.5,252.9h0.6M151.5,259.8h0.6M149.6,268.6h0.6M145.2,264.4h0.6M157.4,265.1h0.6M170.8,248.4h0.6M149.7,252.9h0.6M149.7,282.2h0.6M135.7,259.9h0.6M156.1,263.0h0.6M158.4,249.9h0.6M159.0,254.6h0.6M139.4,266.7h0.6M154.5,256.4h0.6M142.9,260.6h0.6M150.1,260.9h0.6M141.2,243.8h0.6M161.9,263.6h0.6M139.1,249.7h0.6M144.0,258.9h0.6M131.2,273.3h0.6M154.0,259.6h0.6M153.3,264.0h0.6M159.7,263.4h0.6M161.5,274.4h0.6M147.4,258.6h0.6M142.3,260.3h0.6M143.7,262.2h0.6M152.9,266.4h0.6M139.8,270.7h0.6M147.4,261.2h0.6M145.5,246.2h0.6M152.4,248.0h0.6M160.0,262.4h0.6M164.1,267.3h0.6M156.4,273.2h0.6M149.7,274.4h0.6M149.0,264.2h0.6M144.1,266.4h0.6M156.1,258.1h0.6M138.6,261.8h0.6M153.9,260.8h0.6M141.4,256.3h0.6M147.7,241.2h0.6M144.8,273.5h0.6M138.6,260.3h0.6M165.2,267.7h0.6M158.3,260.9h0.6M138.2,285.0h0.6M152.8,264.0h0.6M164.8,268.5h0.6M150.6,253.3h0.6M148.7,260.9h0.6M144.0,255.2h0.6M141.1,261.1h0.6M144.8,265.3h0.6M159.2,264.6h0.6M150.3,274.5h0.6M155.9,250.3h0.6M143.6,263.6h0.6M142.2,268.1h0.6M134.4,246.9h0.6M158.8,266.7h0.6M135.7,262.6h0.6M162.1,253.2h0.6M139.4,252.4h0.6M141.2,248.2h0.6M145.7,250.5h0.6M150.6,279.8h0.6M140.6,269.3h0.6M160.5,243.6h0.6M151.0,261.9h0.6M147.0,268.4h0.6M146.1,264.8h0.6M146.5,260.9h0.6M143.0,280.1h0.6M149.5,253.1h0.6M167.5,274.6h0.6M148.3,256.8h0.6M143.4,271.9h0.6M147.1,256.3h0.6M157.6,259.9h0.6M149.5,277.5h0.6M157.8,271.9h0.6M153.8,272.3h0.6M148.5,269.7h0.6M159.4,258.7h0.6M138.5,266.3h0.6M148.9,266.9h0.6M144.6,266.2h0.6M158.6,280.9h0.6M166.0,265.1h0.6M162.9,257.0h0.6M160.5,263.1h0.6M161.9,264.7h0.6M148.0,256.4h0.6M161.3,262.5h0.6M156.4,265.8h0.6M131.7,266.8h0.6M146.7,265.1h0.6M154.3,247.6h0.6M147.2,261.5h0.6M153.5,269.5h0.6M143.9,260.2h0.6M155.6,247.4h0.6M166.6,254.5h0.6M161.8,263.2h0.6M166.9,270.3h0.6M149.7,248.5h0.6M151.2,264.6h0.6M154.9,252.0h0.6M142.6,255.8h0.6M152.5,255.1h0.6M149.0,269.4h0.6M146.2,272.7h0.6M152.7,260.0h0.6M159.8,265.9h0.6M147.4,257.3h0.6M149.6,264.8h0.6M160.2,264.2h0.6M144.5,251.4h0.6M152.3,265.1h0.6M160.2,257.8h0.6M138.4,268.7h0.6M148.5,252.3h0.6M164.9,269.1h0.6M150.6,264.2h0.6M143.3,269.9h0.6M146.1,258.4h0.6M147.4,253.0h0.6M159.2,275.3h0.6M156.8,245.7h0.6M147.3,256.9h0.6M153.4,245.0h0.6M130.7,258.4h0.6M158.8,260.5h0.6M169.8,255.3h0.6M150.4,260.8h0.6M142.6,270.8h0.6M138.2,253.6h0.6M146.8,258.2h0.6M160.1,257.8h0.6M154.5,258.3h0.6M161.4,261.9h0.6M152.4,249.0h0.6M156.3,256.9h0.6M158.0,266.1h0.6M154.9,271.0h0.6M153.4,255.0h0.6M151.4,263.4h0.6M139.5,266.9h0.6M163.1,263.9h0.6M151.0,265.7h0.6M159.8,257.7h0.6M158.5,256.1h0.6M154.8,266.1h0.6M138.6,267.2h0.6M152.0,248.8h0.6M146.0,257.0h0.6M142.1,265.3h0.6M142.9,262.4h0.6M140.3,259.9h0.6M166.3,265.3h0.6M136.1,254.6h0.6M148.8,249.1h0.6M158.7,261.7h0.6M149.4,262.4h0.6M143.9,252.9h0.6M122.2,249.1h0.6M152.1,267.4h0.6M148.4,247.4h0.6M147.0,262.3h0.6M138.4,272.9h0.6M140.0,262.0h0.6M140.3,269.2h0.6M138.7,254.9h0.6M159.9,252.0h0.6M145.2,266.3h0.6M153.2,248.1h0.6M155.4,259.7h0.6M160.9,248.2h0.6M156.8,265.2h0.6M146.6,258.7h0.6M153.4,256.5h0.6M146.9,255.9h0.6M151.2,267.3h0.6M135.8,262.2h0.6M152.7,273.9h0.6M143.4,272.0h0.6M146.0,265.9h0.6M152.0,264.1h0.6M146.9,254.2h0.6M163.3,273.5h0.6M149.0,260.6h0.6M148.1,251.4h0.6M140.0,265.3h0.6M158.5,260.2h0.6M141.6,253.4h0.6M144.5,267.5h0.6M150.4,250.6h0.6M139.6,264.6h0.6M152.6,275.9h0.6M162.8,263.4h0.6M143.9,263.6h0.6M139.8,256.5h0.6M158.9,266.8h0.6M158.2,274.3h0.6M146.3,268.3h0.6M150.6,264.5h0.6M152.0,266.2h0.6M137.6,251.1h0.6M150.8,265.8h0.6M145.6,261.1h0.6M137.4,269.6h0.6M154.0,273.9h0.6M146.3,261.2h0.6M150.6,272.8h0.6M155.0,265.1h0.6M135.3,255.2h0.6M136.8,260.5h0.6M157.6,262.4h0.6M141.7,278.1h0.6M140.1,272.9h0.6M160.3,264.0h0.6M162.0,253.3h0.6M145.0,259.6h0.6M153.3,260.5h0.6M165.2,259.0h0.6M147.9,252.3h0.6M154.2,268.3h0.6M143.2,252.0h0.6M137.6,271.2h0.6M157.0,264.2h0.6M156.7,265.8h0.6M154.0,249.1h0.6M154.6,267.5h0.6M160.1,269.6h0.6M143.9,264.0h0.6M137.3,273.4h0.6M137.7,267.6h0.6M142.9,255.5h0.6M142.0,259.4h0.6M153.4,270.9h0.6M147.3,268.7h0.6M157.7,278.3h0.6M144.6,264.4h0.6M156.1,263.1h0.6M155.5,256.7h0.6M146.8,257.0h0.6M144.2,254.9h0.6" fill="none" stroke="#333" stroke-width="0.6" stroke-linecap="butt" opacity="0.7"/>
<path d="M133.2,269.4h0.6M151.5,272.1h0.6M131.2,271.9h0.6M126.8,267.0h0.6M133.3,268.1h0.6M135.1,269.1h0.6M118.8,264.5h0.6M124.6,261.7h0.6M129.5,268.8h0.6M135.9,266.4h0.6M128.6,272.4h0.6M134.7,265.7h0.6M139.6,267.4h0.6M137.5,268.8h0.6M127.4,264.8h0.6M129.2,280.0h0.6M126.0,276.4h0.6M138.4,268.4h0.6M137.0,275.8h0.6M128.1,267.8h0.6M137.0,271.5h0.6M143.4,271.8h0.6M122.8,269.8h0.6M122.6,273.2h0.6M134.4,268.3h0.6M124.4,273.8h0.6M127.6,275.1h0.6M123.8,268.9h0.6M126.6,265.7h0.6M147.2,277.1h0.6M126.1,273.3h0.6M118.7,275.3h0.6M136.9,268.6h0.6M127.8,271.1h0.6M132.9,268.5h0.6M124.7,268.9h0.6M127.3,273.3h0.6M130.6,271.0h0.6M119.6,268.4h0.6M127.6,267.9h0.6M129.3,268.8h0.6M120.5,274.0h0.6M135.9,267.9h0.6M134.0,266.1h0.6M122.1,269.2h0.6M139.9,269.6h0.6M120.5,271.1h0.6M126.5,267.1h0.6M132.4,262.8h0.6M118.9,264.0h0.6M137.0,270.5h0.6M126.4,267.3h0.6M134.4,275.4h0.6M125.6,271.3h0.6M145.1,272.7h0.6M128.2,271.6h0.6M131.0,273.0h0.6M132.5,268.1h0.6M129.6,271.8h0.6M126.0,270.5h0.6M124.5,275.4h0.6M140.1,266.6h0.6M135.7,270.9h0.6M130.9,269.2h0.6M132.0,274.4h0.6M122.6,274.5h0.6M128.7,265.6h0.6M130.0,272.9h0.6M129.8,271.5h0.6M128.2,268.0h0.6M136.6,266.3h0.6M136.6,271.6h0.6M128.6,269.3h0.6M128.5,270.1h0.6M130.1,269.6h0.6M118.2,261.4h0.6M132.5,267.6h0.6M126.8,269.5h0.6M123.4,276.7h0.6M130.3,269.5h0.6" fill="none" stroke="#333" stroke-width="0.6" stroke-linecap="butt" opacity="0.6"/>
<path d="M136.4,270.7 C136.6,269.2 140.1,266.9 142.0,265.0 C143.9,263.1 145.9,261.1 148.0,259.5 C150.1,257.9 152.8,256.4 154.5,255.6 C156.2,254.8 156.7,254.7 158.0,255.0 C159.3,255.3 161.2,256.6 162.5,257.4 C163.8,258.2 165.2,257.9 166.0,260.0 C166.8,262.1 167.0,266.7 167.0,270.0 C167.0,273.3 166.8,277.9 166.0,280.0 C165.2,282.1 163.3,282.1 162.0,282.5 C160.7,282.9 159.7,282.5 158.0,282.2 C156.3,281.9 153.9,281.2 152.0,280.5 C150.1,279.8 148.3,278.8 146.5,277.7 C144.7,276.6 142.7,275.2 141.0,274.0 C139.3,272.8 136.2,272.2 136.4,270.7Z" fill="#fff" stroke="#777" stroke-width="0.5" />
<path d="M141.1,270.7 C141.3,269.5 144.0,267.7 145.6,266.2 C147.1,264.7 148.7,263.1 150.3,261.9 C152.0,260.6 154.1,259.4 155.4,258.8 C156.8,258.2 157.2,258.1 158.2,258.3 C159.3,258.5 160.7,259.5 161.8,260.2 C162.8,260.9 163.9,260.6 164.5,262.2 C165.1,263.9 165.3,267.5 165.3,270.1 C165.3,272.8 165.2,276.4 164.5,278.0 C163.9,279.7 162.4,279.7 161.4,280.0 C160.3,280.3 159.5,280.0 158.2,279.8 C156.9,279.5 155.0,279.0 153.5,278.4 C152.0,277.8 150.6,277.1 149.1,276.2 C147.7,275.4 146.1,274.2 144.8,273.3 C143.5,272.4 141.0,271.9 141.1,270.7Z" fill="#fff" stroke="#777" stroke-width="0.5" />
<path d="M143.9,270.7 C144.0,269.7 146.3,268.1 147.6,266.9 C148.9,265.6 150.2,264.2 151.6,263.2 C153.0,262.1 154.9,261.1 156.0,260.6 C157.1,260.1 157.4,260.0 158.3,260.2 C159.2,260.4 160.5,261.2 161.3,261.8 C162.2,262.3 163.2,262.1 163.7,263.5 C164.2,264.9 164.4,268.0 164.4,270.2 C164.4,272.5 164.2,275.5 163.7,276.9 C163.1,278.3 161.9,278.4 161.0,278.6 C160.1,278.9 159.4,278.6 158.3,278.4 C157.2,278.2 155.6,277.8 154.3,277.3 C153.0,276.8 151.9,276.1 150.6,275.4 C149.4,274.7 148.1,273.7 146.9,272.9 C145.8,272.1 143.7,271.7 143.9,270.7Z" fill="#fafafa" stroke="#777" stroke-width="0.5" />
<path d="M146.6,270.7 C146.7,269.9 148.6,268.6 149.7,267.6 C150.7,266.5 151.8,265.4 152.9,264.5 C154.1,263.7 155.6,262.8 156.5,262.4 C157.4,262.0 157.7,261.9 158.4,262.1 C159.2,262.2 160.2,262.9 160.9,263.4 C161.7,263.8 162.4,263.7 162.8,264.8 C163.3,266.0 163.4,268.5 163.4,270.3 C163.4,272.1 163.3,274.7 162.8,275.8 C162.4,277.0 161.4,277.0 160.7,277.2 C159.9,277.4 159.4,277.2 158.4,277.0 C157.5,276.8 156.2,276.5 155.2,276.1 C154.1,275.7 153.1,275.1 152.1,274.6 C151.1,274.0 150.0,273.2 149.1,272.5 C148.2,271.9 146.5,271.5 146.6,270.7Z" fill="#f0f0f0" stroke="#666" stroke-width="0.5" />
<path d="M148.8,270.7 C148.9,270.0 150.5,269.0 151.3,268.1 C152.2,267.3 153.1,266.4 154.1,265.7 C155.0,265.0 156.2,264.2 157.0,263.9 C157.7,263.6 158.0,263.5 158.6,263.6 C159.2,263.8 160.0,264.3 160.6,264.7 C161.2,265.1 161.8,264.9 162.2,265.9 C162.5,266.8 162.6,268.9 162.6,270.4 C162.6,271.9 162.5,273.9 162.2,274.9 C161.8,275.8 160.9,275.8 160.3,276.0 C159.8,276.2 159.3,276.0 158.6,275.9 C157.8,275.7 156.7,275.4 155.8,275.1 C155.0,274.8 154.2,274.3 153.4,273.8 C152.6,273.4 151.7,272.7 150.9,272.2 C150.1,271.7 148.8,271.4 148.8,270.7Z" fill="#dedede" stroke="#666" stroke-width="0.5" />
<path d="M150.6,270.7 C150.7,270.1 152.0,269.3 152.7,268.6 C153.4,267.9 154.2,267.1 154.9,266.6 C155.7,266.0 156.7,265.4 157.3,265.1 C158.0,264.8 158.1,264.8 158.6,264.9 C159.1,265.0 159.8,265.5 160.3,265.8 C160.8,266.1 161.3,266.0 161.6,266.7 C161.9,267.5 162.0,269.2 162.0,270.4 C162.0,271.7 161.9,273.4 161.6,274.1 C161.3,274.9 160.6,274.9 160.1,275.1 C159.6,275.2 159.2,275.1 158.6,275.0 C158.0,274.8 157.1,274.6 156.4,274.3 C155.7,274.0 155.1,273.7 154.4,273.3 C153.7,272.9 153.0,272.4 152.3,271.9 C151.7,271.5 150.6,271.3 150.6,270.7Z" fill="#b8b8b8" stroke="#555" stroke-width="0.5" />
<path d="M152.2,270.7 C152.3,270.2 153.3,269.6 153.9,269.0 C154.5,268.4 155.1,267.8 155.7,267.3 C156.3,266.9 157.2,266.4 157.7,266.2 C158.2,265.9 158.3,265.9 158.7,266.0 C159.1,266.1 159.7,266.5 160.1,266.7 C160.5,267.0 160.9,266.9 161.1,267.5 C161.3,268.1 161.4,269.5 161.4,270.5 C161.4,271.5 161.3,272.9 161.1,273.5 C160.8,274.1 160.3,274.1 159.9,274.2 C159.5,274.4 159.2,274.2 158.7,274.1 C158.2,274.0 157.5,273.9 156.9,273.6 C156.3,273.4 155.8,273.1 155.2,272.8 C154.7,272.5 154.1,272.0 153.6,271.7 C153.1,271.3 152.2,271.1 152.2,270.7Z" fill="#707070" stroke="#444" stroke-width="0.5" />
<path d="M153.8,270.7 C153.8,270.4 154.6,269.8 155.1,269.4 C155.5,269.0 156.0,268.5 156.5,268.1 C156.9,267.8 157.6,267.4 158.0,267.2 C158.3,267.1 158.5,267.0 158.8,267.1 C159.1,267.2 159.5,267.4 159.8,267.6 C160.1,267.8 160.4,267.8 160.6,268.2 C160.8,268.7 160.8,269.8 160.8,270.5 C160.8,271.3 160.8,272.4 160.6,272.8 C160.4,273.3 160.0,273.3 159.7,273.4 C159.4,273.5 159.2,273.4 158.8,273.3 C158.4,273.3 157.8,273.1 157.4,273.0 C156.9,272.8 156.5,272.6 156.1,272.3 C155.7,272.1 155.2,271.7 154.9,271.5 C154.5,271.2 153.8,271.0 153.8,270.7Z" fill="#1a1a1a" stroke="#111" stroke-width="0.5" />
<path d="M156.5,273 L161,267.5" fill="none" stroke="#ccc" stroke-width="0.9" />
<ellipse cx="131.9" cy="270.2" rx="3.1" ry="1.3" fill="#fff" stroke="#777" stroke-width="0.5"/>
<path d="M150,258.5 L153.5,255.8 C156,254 159,254.5 162.5,257.4" fill="none" stroke="#777" stroke-width="0.5" />
</g>
<g clip-path="url(#fc5)">
<path d="M198.1,249.1h0.6M198.6,253.5h0.6M198.3,242.5h0.6M204.3,248.7h0.6M197.2,250.6h0.6M203.0,255.8h0.6M208.5,250.6h0.6M190.4,244.9h0.6M203.2,256.6h0.6M200.5,249.5h0.6M206.9,242.7h0.6M195.9,252.5h0.6M211.4,248.8h0.6M204.9,251.2h0.6M210.2,244.4h0.6M207.4,242.4h0.6M165.9,247.0h0.6M188.1,254.4h0.6M208.6,243.9h0.6M211.0,245.0h0.6M198.9,248.5h0.6M201.5,254.1h0.6M208.3,251.7h0.6M208.4,252.4h0.6M191.8,246.4h0.6M193.9,252.5h0.6M196.7,261.7h0.6M189.3,244.5h0.6M210.0,257.1h0.6M206.6,254.2h0.6M218.5,249.5h0.6M181.5,247.3h0.6M212.4,242.8h0.6M200.4,251.3h0.6M195.9,253.6h0.6M207.6,261.6h0.6M208.1,247.0h0.6M192.7,245.8h0.6M212.4,247.2h0.6M199.1,253.7h0.6M190.6,248.5h0.6M176.1,244.6h0.6M192.6,252.1h0.6M215.5,249.9h0.6M203.4,250.8h0.6M214.1,254.5h0.6M203.6,244.9h0.6M211.7,251.9h0.6M216.0,249.9h0.6M225.4,248.2h0.6M220.7,250.6h0.6M193.3,244.4h0.6M198.0,257.1h0.6M210.6,253.4h0.6M169.1,253.6h0.6M207.2,247.3h0.6M191.8,250.0h0.6M222.4,244.7h0.6M194.4,256.8h0.6M194.2,248.2h0.6M201.3,243.8h0.6M202.9,244.0h0.6M211.5,250.0h0.6M229.7,251.4h0.6M217.8,243.5h0.6M198.4,251.6h0.6M222.7,241.6h0.6M212.9,253.0h0.6M219.9,253.6h0.6M200.7,247.4h0.6M183.8,251.0h0.6M197.5,260.1h0.6M192.1,251.6h0.6M179.6,248.0h0.6M203.4,254.1h0.6M218.8,249.8h0.6M185.5,252.3h0.6M206.7,252.5h0.6M190.9,255.7h0.6M201.1,253.5h0.6M216.6,253.0h0.6M203.7,260.8h0.6M203.2,248.5h0.6M201.5,257.4h0.6M201.5,252.6h0.6M215.5,247.4h0.6M177.6,251.5h0.6M203.0,247.0h0.6M211.3,253.0h0.6M187.1,252.6h0.6M197.5,242.6h0.6M205.9,249.8h0.6M190.3,252.6h0.6M206.3,247.1h0.6M205.2,255.1h0.6M190.7,251.9h0.6M200.0,261.3h0.6M175.8,253.5h0.6M196.0,249.5h0.6M224.7,250.0h0.6M229.1,247.8h0.6M204.6,247.5h0.6M191.0,250.3h0.6M196.3,251.0h0.6M172.6,260.0h0.6M197.8,258.7h0.6M186.9,251.5h0.6M241.1,245.7h0.6M180.6,247.3h0.6M206.1,253.5h0.6M216.8,248.7h0.6M179.2,247.8h0.6M216.1,252.3h0.6M174.6,249.8h0.6M218.2,260.6h0.6M207.3,251.5h0.6M183.9,245.8h0.6M200.6,252.5h0.6M207.5,247.6h0.6M185.0,246.1h0.6M185.0,253.2h0.6M169.9,248.3h0.6M205.8,257.6h0.6M200.9,255.0h0.6M194.8,246.3h0.6M191.2,257.6h0.6M212.9,252.4h0.6M243.3,249.8h0.6M208.1,251.5h0.6M197.1,261.6h0.6M219.6,243.0h0.6M194.8,252.1h0.6M210.2,243.3h0.6M170.7,240.5h0.6M199.1,249.5h0.6M204.5,246.2h0.6M184.1,239.9h0.6M204.3,251.9h0.6M212.9,254.0h0.6M197.5,256.7h0.6M198.2,246.7h0.6M193.2,247.1h0.6M171.8,250.8h0.6M203.2,248.2h0.6M190.7,251.9h0.6M222.3,250.2h0.6M193.4,247.0h0.6M199.1,243.7h0.6M198.4,250.3h0.6M224.0,254.7h0.6M213.4,246.4h0.6M208.7,244.3h0.6M204.1,252.1h0.6M190.0,260.0h0.6M207.4,240.5h0.6M207.2,248.0h0.6M200.0,252.3h0.6M205.1,239.8h0.6M184.9,253.9h0.6M216.9,259.5h0.6M223.4,239.7h0.6M210.0,240.4h0.6M221.0,251.3h0.6M185.2,260.0h0.6M208.4,240.5h0.6M203.8,246.3h0.6M201.4,247.7h0.6M217.9,242.9h0.6M204.1,259.1h0.6M189.2,251.1h0.6M202.6,246.6h0.6M208.4,250.5h0.6M187.7,258.8h0.6M210.3,249.2h0.6M191.7,246.1h0.6M216.0,249.3h0.6M206.0,249.1h0.6M208.0,249.4h0.6M209.9,249.1h0.6M210.8,253.4h0.6M198.5,245.7h0.6M187.8,246.3h0.6M187.2,254.3h0.6M199.4,257.9h0.6M229.6,250.1h0.6M179.9,248.1h0.6M199.0,242.6h0.6M196.7,251.4h0.6M194.0,246.2h0.6M190.1,258.9h0.6M197.9,245.9h0.6M195.2,254.8h0.6M191.1,252.4h0.6M209.5,253.7h0.6M218.2,247.2h0.6M214.7,246.0h0.6M194.8,256.0h0.6M210.7,250.0h0.6M184.5,252.8h0.6M191.8,245.4h0.6M191.6,251.2h0.6M172.4,251.8h0.6M202.3,247.1h0.6M213.5,253.1h0.6M192.1,246.6h0.6M209.0,242.4h0.6M195.7,246.8h0.6M200.9,251.1h0.6M200.5,255.7h0.6M203.0,248.4h0.6M184.3,253.6h0.6M206.9,257.3h0.6M190.3,250.1h0.6M199.2,249.6h0.6M200.1,241.4h0.6M210.7,253.3h0.6M214.7,261.2h0.6M195.9,249.8h0.6M200.1,259.7h0.6M177.5,252.4h0.6M180.9,237.1h0.6M173.7,243.1h0.6M213.9,245.7h0.6M197.0,244.2h0.6M207.9,244.5h0.6M217.1,245.0h0.6M190.1,250.6h0.6M200.3,257.1h0.6M201.6,244.0h0.6M192.7,247.1h0.6M209.4,251.9h0.6M198.4,254.3h0.6M193.1,249.3h0.6M202.3,257.6h0.6M198.7,248.2h0.6M186.4,253.4h0.6M192.4,251.7h0.6M175.3,255.2h0.6M182.7,246.1h0.6M213.8,243.3h0.6M199.0,250.4h0.6M187.0,256.7h0.6M219.5,240.1h0.6M181.2,254.0h0.6M183.1,248.1h0.6M201.7,253.5h0.6M197.1,250.5h0.6M189.9,256.5h0.6M193.6,251.7h0.6M193.3,250.5h0.6M197.8,249.2h0.6M186.8,254.0h0.6M218.4,251.2h0.6M209.5,254.2h0.6M212.1,251.5h0.6M202.8,254.3h0.6M200.9,245.1h0.6M200.3,240.6h0.6M199.9,252.1h0.6M216.1,250.8h0.6M212.1,250.0h0.6M186.7,242.9h0.6M187.4,243.2h0.6M208.2,249.0h0.6M207.4,250.4h0.6M213.6,255.3h0.6M191.6,248.6h0.6M193.1,241.9h0.6M208.8,255.9h0.6M199.9,247.5h0.6M214.2,238.3h0.6M202.3,250.7h0.6M192.6,257.0h0.6M212.6,248.7h0.6M198.9,248.1h0.6M193.3,243.5h0.6M217.9,255.1h0.6M210.4,244.5h0.6M227.1,259.9h0.6M202.4,245.5h0.6M188.7,252.1h0.6M188.1,249.8h0.6M214.2,242.5h0.6M226.1,257.8h0.6M183.9,242.9h0.6M196.3,244.8h0.6M196.6,237.1h0.6M197.0,259.0h0.6M185.5,248.6h0.6M180.6,253.2h0.6M197.1,259.7h0.6M202.7,248.1h0.6M207.2,247.5h0.6M182.6,251.5h0.6M197.7,250.8h0.6M204.9,247.4h0.6M205.5,258.7h0.6M185.6,258.7h0.6M196.8,246.2h0.6M231.6,250.8h0.6M217.8,254.1h0.6M178.2,250.6h0.6M193.2,243.3h0.6M177.0,250.5h0.6M207.7,252.0h0.6M196.0,246.0h0.6M187.2,247.2h0.6M186.6,249.0h0.6M199.7,245.5h0.6M197.0,246.2h0.6M199.9,252.5h0.6M202.3,252.4h0.6M178.5,248.1h0.6M203.6,253.2h0.6M179.2,250.8h0.6M215.7,249.1h0.6M198.8,252.3h0.6M203.2,253.4h0.6M200.9,250.8h0.6M189.8,249.1h0.6M216.3,249.0h0.6M197.8,247.5h0.6M210.2,245.7h0.6M211.8,245.3h0.6M186.2,251.0h0.6M201.7,251.5h0.6M213.8,247.9h0.6M205.8,245.5h0.6M216.4,253.2h0.6M207.0,250.9h0.6M189.8,248.4h0.6M206.5,249.9h0.6M201.6,243.2h0.6M202.4,246.5h0.6M185.9,249.2h0.6M175.9,253.5h0.6M211.1,249.7h0.6M187.1,245.3h0.6M198.0,237.9h0.6M202.3,253.3h0.6M195.9,247.5h0.6M202.4,251.8h0.6M214.2,250.1h0.6M191.0,247.7h0.6M202.4,257.8h0.6M195.8,244.7h0.6M188.7,239.5h0.6M204.3,243.2h0.6M184.0,240.1h0.6M185.5,252.8h0.6M183.0,241.3h0.6M202.3,248.3h0.6M205.6,253.7h0.6M199.9,243.5h0.6M198.4,252.5h0.6M192.4,242.8h0.6M214.3,247.9h0.6M194.7,250.1h0.6M213.4,251.3h0.6M195.7,253.4h0.6M227.9,256.9h0.6M208.7,244.4h0.6M248.8,244.0h0.6M195.2,246.5h0.6M221.1,252.1h0.6M181.4,251.3h0.6M207.1,248.4h0.6M184.1,246.4h0.6M194.3,250.1h0.6M193.2,253.7h0.6M187.7,241.3h0.6M190.4,256.7h0.6M192.5,261.7h0.6M206.4,244.2h0.6M189.2,251.2h0.6M184.7,261.9h0.6M187.1,253.4h0.6M219.0,249.5h0.6M187.1,248.6h0.6M204.7,254.4h0.6M200.7,243.0h0.6M200.6,246.6h0.6M171.6,246.5h0.6M181.4,252.9h0.6M225.3,259.3h0.6M192.5,247.7h0.6M209.0,255.3h0.6M194.6,249.3h0.6M228.7,249.5h0.6M193.7,250.6h0.6M207.5,244.9h0.6M196.8,244.2h0.6M196.4,259.4h0.6M209.6,249.5h0.6M187.9,248.4h0.6M213.7,247.2h0.6M218.9,243.1h0.6M196.2,258.7h0.6M173.9,255.9h0.6M175.9,249.5h0.6M197.8,254.1h0.6M159.0,240.4h0.6M192.6,250.2h0.6M188.4,248.9h0.6M184.6,248.0h0.6M189.0,251.2h0.6M207.6,257.2h0.6M191.5,248.4h0.6M200.6,248.5h0.6M199.3,242.2h0.6M204.8,245.4h0.6M187.6,242.1h0.6M215.1,249.3h0.6M214.9,251.4h0.6M177.9,244.6h0.6M209.9,246.2h0.6M185.8,249.1h0.6M197.7,244.9h0.6M195.8,247.6h0.6M166.3,252.5h0.6M189.5,256.5h0.6M185.0,242.1h0.6M215.4,242.1h0.6M191.7,253.0h0.6M195.7,241.7h0.6M202.4,249.0h0.6M216.7,252.9h0.6M239.5,241.8h0.6M199.7,244.7h0.6M215.0,254.1h0.6M209.8,246.1h0.6M190.3,239.9h0.6M222.2,252.5h0.6M196.6,254.7h0.6M209.8,254.9h0.6M178.9,246.4h0.6M202.5,251.8h0.6M212.4,245.0h0.6M201.7,261.0h0.6M209.0,254.4h0.6M199.8,253.8h0.6M223.5,250.5h0.6M215.9,245.6h0.6M207.7,254.5h0.6M190.2,255.5h0.6M191.2,246.0h0.6M200.0,259.7h0.6M204.0,254.7h0.6M190.5,250.4h0.6M184.7,247.1h0.6M210.9,249.8h0.6M218.9,249.0h0.6M197.4,256.4h0.6M191.6,242.4h0.6M216.9,252.1h0.6M171.9,250.2h0.6M194.8,258.7h0.6M190.5,247.1h0.6M188.2,244.7h0.6M190.9,242.8h0.6M186.6,242.0h0.6M180.5,242.2h0.6M193.2,246.6h0.6M184.1,252.4h0.6M199.4,247.8h0.6M194.0,258.0h0.6M203.1,252.4h0.6M166.4,246.7h0.6M171.8,247.9h0.6M204.9,246.6h0.6M206.7,244.9h0.6M207.5,242.2h0.6M196.6,252.1h0.6M207.0,249.4h0.6M225.2,247.9h0.6M194.1,236.2h0.6M223.0,248.2h0.6M184.7,256.6h0.6M216.1,250.5h0.6M181.3,252.1h0.6M191.9,244.1h0.6M213.6,239.3h0.6M207.4,252.3h0.6M226.7,251.6h0.6M173.2,245.8h0.6M200.8,251.8h0.6M212.8,240.2h0.6M195.7,254.8h0.6M220.1,259.3h0.6M194.9,255.5h0.6M222.3,256.0h0.6M209.4,254.1h0.6M189.7,242.8h0.6M212.8,248.3h0.6M199.6,247.1h0.6M194.9,251.2h0.6M186.7,250.3h0.6M203.2,249.6h0.6M190.3,253.9h0.6M224.3,247.0h0.6" fill="none" stroke="#333" stroke-width="0.6" stroke-linecap="butt" opacity="0.75"/>
<path d="M223.8,266.9h0.6M236.9,281.1h0.6M217.2,254.8h0.6M220.6,258.8h0.6M226.8,249.0h0.6M230.3,247.6h0.6M232.6,252.9h0.6M230.6,266.7h0.6M227.2,256.0h0.6M221.7,250.5h0.6M241.0,268.4h0.6M243.7,266.1h0.6M231.0,256.1h0.6M226.1,245.9h0.6M236.4,272.5h0.6M240.6,277.5h0.6M219.6,236.1h0.6M234.6,264.9h0.6M220.0,252.6h0.6M234.9,281.0h0.6M231.9,255.0h0.6M235.2,273.8h0.6M218.1,270.1h0.6M220.0,262.4h0.6M232.3,262.7h0.6M215.5,266.2h0.6M216.2,269.4h0.6M212.0,256.9h0.6M224.0,254.7h0.6M229.9,264.8h0.6M243.4,266.9h0.6M237.4,250.2h0.6M237.1,271.3h0.6M239.7,277.1h0.6M220.5,248.2h0.6M221.6,255.4h0.6M239.8,241.2h0.6M228.4,272.7h0.6M226.7,247.0h0.6M220.6,267.8h0.6M234.3,260.4h0.6M230.9,276.8h0.6M225.1,283.0h0.6M219.7,282.2h0.6M215.9,276.3h0.6M228.1,245.8h0.6M229.1,267.8h0.6M233.0,263.2h0.6M226.5,258.8h0.6M228.8,274.9h0.6M232.0,269.4h0.6M229.6,276.9h0.6M248.4,285.5h0.6M217.7,252.8h0.6M219.1,258.2h0.6M244.7,258.1h0.6M228.9,259.8h0.6M211.9,249.3h0.6M221.8,252.8h0.6M225.1,257.0h0.6M226.0,244.7h0.6M236.6,267.2h0.6M221.8,256.8h0.6M220.5,241.5h0.6M233.7,257.2h0.6M237.1,278.0h0.6M216.5,249.8h0.6M232.4,256.1h0.6M222.2,257.6h0.6M231.6,247.3h0.6M228.6,273.7h0.6M223.2,257.9h0.6M231.7,272.3h0.6M236.4,267.1h0.6M241.9,255.1h0.6M242.1,268.3h0.6M225.4,246.7h0.6M241.3,264.8h0.6M232.8,279.0h0.6M224.6,270.6h0.6M235.5,279.8h0.6M230.9,282.0h0.6M223.5,261.5h0.6M222.5,251.8h0.6M242.7,265.1h0.6M227.8,264.2h0.6M229.3,246.0h0.6M224.1,266.2h0.6M217.5,259.8h0.6M224.6,251.2h0.6M216.4,255.4h0.6M229.9,267.9h0.6M214.7,263.6h0.6M233.1,243.5h0.6M216.3,267.9h0.6M234.2,268.1h0.6M241.9,269.7h0.6M239.9,262.0h0.6M228.1,252.4h0.6M228.9,258.0h0.6M222.9,268.8h0.6M231.2,257.3h0.6M229.9,265.6h0.6M231.8,254.7h0.6M233.7,257.0h0.6M230.7,256.4h0.6M245.7,246.5h0.6M236.9,251.4h0.6M242.1,248.6h0.6M234.3,260.2h0.6M236.2,247.9h0.6M225.2,267.0h0.6M235.3,255.3h0.6M211.6,258.1h0.6M221.9,262.8h0.6M224.1,250.7h0.6M226.3,277.2h0.6M233.0,257.7h0.6M233.1,246.5h0.6M222.8,261.1h0.6M224.7,255.0h0.6M227.9,281.6h0.6M227.5,266.4h0.6M242.7,235.2h0.6M225.2,271.6h0.6M215.1,257.4h0.6M239.5,263.1h0.6M229.9,284.9h0.6M211.5,274.3h0.6M216.9,266.5h0.6M233.2,263.6h0.6M225.8,271.2h0.6M231.9,271.3h0.6M236.8,268.8h0.6M243.4,257.4h0.6M211.7,242.4h0.6M226.5,247.9h0.6M224.8,263.1h0.6M241.3,248.8h0.6M232.1,247.6h0.6M235.7,238.7h0.6M241.5,259.0h0.6M247.3,264.5h0.6M220.0,257.5h0.6M222.2,265.3h0.6M238.9,264.9h0.6M225.5,259.1h0.6M243.3,251.9h0.6M234.6,252.7h0.6M221.2,269.5h0.6M214.3,280.1h0.6M243.0,251.6h0.6M218.5,260.5h0.6M225.5,254.4h0.6M237.3,288.5h0.6M227.2,269.9h0.6M224.6,262.2h0.6M223.3,261.1h0.6M229.6,258.4h0.6M230.0,254.5h0.6M231.4,244.5h0.6M232.8,260.3h0.6M232.5,261.5h0.6M227.4,263.0h0.6M224.7,262.2h0.6M210.5,254.0h0.6M230.3,247.8h0.6M247.8,277.8h0.6M215.1,280.4h0.6M232.1,268.7h0.6M240.6,256.7h0.6M231.4,272.2h0.6M222.1,260.0h0.6M228.7,266.1h0.6M219.7,261.4h0.6M222.6,271.2h0.6M223.5,270.1h0.6M228.4,256.4h0.6M235.2,268.1h0.6M225.8,273.0h0.6M240.3,243.3h0.6M235.3,241.4h0.6M228.9,271.2h0.6M233.1,267.3h0.6M227.6,269.4h0.6M218.5,282.6h0.6M210.9,260.0h0.6M214.9,259.2h0.6M222.8,250.3h0.6M237.6,255.9h0.6M222.2,261.8h0.6M234.9,268.2h0.6M224.5,264.9h0.6M229.4,261.4h0.6M222.4,264.7h0.6M215.2,272.4h0.6M235.9,259.7h0.6M224.0,241.5h0.6M226.0,271.7h0.6M214.1,269.7h0.6M222.4,282.1h0.6M232.8,275.9h0.6M226.6,260.1h0.6M220.9,278.8h0.6M225.8,264.0h0.6M218.2,264.3h0.6M219.8,264.0h0.6M239.0,256.4h0.6M219.8,265.7h0.6M228.7,254.7h0.6M214.6,263.9h0.6M231.8,265.0h0.6M239.3,266.7h0.6M231.6,248.0h0.6M226.5,260.3h0.6M222.2,270.4h0.6M224.9,268.5h0.6M224.0,267.2h0.6M237.4,267.5h0.6M236.4,263.6h0.6M216.1,272.6h0.6M225.6,251.3h0.6M240.6,262.6h0.6M226.1,247.9h0.6M237.3,261.3h0.6M220.2,269.5h0.6M236.9,270.6h0.6M236.0,273.0h0.6M218.7,252.2h0.6M233.1,276.5h0.6M249.8,251.8h0.6M228.4,256.2h0.6M228.8,255.8h0.6M230.0,261.7h0.6M236.1,263.1h0.6M245.4,273.6h0.6M233.6,258.7h0.6M233.1,255.2h0.6M229.7,257.3h0.6M236.1,258.1h0.6M228.8,272.8h0.6M230.2,262.0h0.6M217.4,264.1h0.6M237.7,261.8h0.6M224.8,268.7h0.6M245.7,264.9h0.6M226.0,254.6h0.6M228.5,246.7h0.6M222.4,253.6h0.6M240.5,245.4h0.6M228.3,255.6h0.6M217.1,266.7h0.6M237.1,258.5h0.6M225.0,262.4h0.6M233.8,265.1h0.6M225.5,255.8h0.6M228.4,247.7h0.6M225.8,273.8h0.6M229.0,259.8h0.6M218.7,250.1h0.6M235.0,260.1h0.6M218.6,248.3h0.6M223.5,278.3h0.6M228.0,237.4h0.6M224.7,264.5h0.6M216.0,260.4h0.6M239.5,253.3h0.6M212.9,256.3h0.6M234.5,250.9h0.6M227.8,263.4h0.6M226.9,261.2h0.6M213.7,286.3h0.6M227.4,277.3h0.6M227.3,253.2h0.6M214.6,249.6h0.6M226.9,253.1h0.6M239.9,261.5h0.6M228.9,280.1h0.6M231.4,242.0h0.6M235.4,246.7h0.6M217.6,272.6h0.6M229.4,243.5h0.6M233.1,290.6h0.6M212.4,252.0h0.6M214.1,260.1h0.6M222.7,257.0h0.6M213.2,263.1h0.6M224.7,284.4h0.6M226.4,244.5h0.6M215.6,259.3h0.6M222.5,254.2h0.6M238.3,262.2h0.6M224.3,250.2h0.6M219.8,269.4h0.6M237.1,270.8h0.6M231.9,264.1h0.6M245.3,273.8h0.6M237.4,254.4h0.6M233.1,259.4h0.6M223.2,252.4h0.6M236.2,270.2h0.6M233.0,267.2h0.6M231.8,267.9h0.6M235.4,254.9h0.6M223.7,260.3h0.6M230.2,265.9h0.6M224.8,249.5h0.6M227.5,248.7h0.6M227.9,272.1h0.6M215.7,279.0h0.6M223.6,243.9h0.6M216.8,240.6h0.6M228.0,261.7h0.6M230.0,263.4h0.6M232.3,257.7h0.6M217.7,265.1h0.6M229.0,269.9h0.6M231.8,257.7h0.6M232.4,252.2h0.6M225.0,252.7h0.6M222.6,247.9h0.6M222.0,265.9h0.6M216.0,269.1h0.6M233.4,262.5h0.6M220.7,274.5h0.6M222.3,261.6h0.6M235.6,253.0h0.6M234.0,255.8h0.6M238.0,258.0h0.6M225.4,266.8h0.6M229.5,256.1h0.6M234.4,245.5h0.6M236.7,273.9h0.6M226.9,257.8h0.6M229.1,237.6h0.6M223.0,272.6h0.6M223.0,265.9h0.6M234.3,274.5h0.6M232.1,260.9h0.6M237.9,263.7h0.6M226.5,282.0h0.6M227.5,264.1h0.6M225.0,271.6h0.6M220.5,266.2h0.6M223.5,287.1h0.6M233.7,262.6h0.6M230.3,255.9h0.6M230.0,271.6h0.6M217.9,248.2h0.6M229.2,255.9h0.6M232.5,259.4h0.6M233.6,243.5h0.6M233.8,268.5h0.6M230.1,272.8h0.6M230.9,244.3h0.6M228.1,259.5h0.6M223.5,283.9h0.6M226.9,245.1h0.6M230.1,267.2h0.6M217.0,262.9h0.6M239.6,276.4h0.6M211.5,251.9h0.6M234.7,256.4h0.6M225.6,280.8h0.6M217.2,262.2h0.6M223.9,234.9h0.6M219.2,261.0h0.6M230.0,258.9h0.6M222.8,264.7h0.6M216.6,250.1h0.6M223.1,265.1h0.6M240.5,276.8h0.6M211.9,250.0h0.6M227.2,270.1h0.6M232.9,274.9h0.6M213.4,254.6h0.6M221.9,257.2h0.6M239.2,272.5h0.6M234.8,259.2h0.6M224.3,273.3h0.6M218.6,273.7h0.6M218.9,263.4h0.6M223.6,267.3h0.6M245.0,250.9h0.6M229.9,271.4h0.6M226.6,252.8h0.6M218.4,266.6h0.6M227.0,271.8h0.6M224.3,238.8h0.6M243.0,270.1h0.6M238.0,269.6h0.6M237.5,266.1h0.6M229.9,280.0h0.6M237.5,263.5h0.6M237.6,259.0h0.6M217.2,267.1h0.6M231.3,247.4h0.6M223.3,265.4h0.6M229.9,250.4h0.6M235.0,259.5h0.6M224.9,272.5h0.6M241.9,260.7h0.6M224.6,276.8h0.6M229.2,258.9h0.6M227.8,250.7h0.6M237.8,250.7h0.6M225.8,265.1h0.6M221.5,267.5h0.6M231.5,276.6h0.6M233.7,253.8h0.6M235.6,270.5h0.6M226.7,264.5h0.6M234.5,267.7h0.6M232.1,263.1h0.6M237.3,257.9h0.6M228.9,264.7h0.6M226.4,270.6h0.6M232.8,259.7h0.6M236.3,256.3h0.6M231.5,250.0h0.6M247.6,255.6h0.6M222.7,255.7h0.6M226.6,267.7h0.6M229.4,275.6h0.6M219.4,268.2h0.6M240.4,257.2h0.6M240.5,255.1h0.6M228.1,264.9h0.6M226.6,256.6h0.6M226.1,258.5h0.6M219.4,256.1h0.6M213.9,266.6h0.6M226.2,255.3h0.6M219.7,262.5h0.6M223.6,266.7h0.6M230.0,275.6h0.6M235.8,266.0h0.6M219.1,262.2h0.6M222.8,245.1h0.6M223.4,260.6h0.6M236.2,282.9h0.6M218.9,264.4h0.6M230.2,275.8h0.6M220.4,270.9h0.6M211.4,254.7h0.6M230.9,240.2h0.6M230.5,258.9h0.6M223.2,256.7h0.6M222.8,272.1h0.6M217.6,260.2h0.6M224.5,263.8h0.6M230.2,261.7h0.6M250.4,252.2h0.6M225.2,256.1h0.6M225.8,253.4h0.6M218.2,277.0h0.6M227.7,259.8h0.6M235.5,258.4h0.6M225.6,271.5h0.6M230.4,272.1h0.6M239.9,238.6h0.6M234.3,250.0h0.6M219.9,267.2h0.6M231.6,268.2h0.6M241.2,267.0h0.6M232.0,265.8h0.6M214.9,270.2h0.6M240.0,269.5h0.6M225.5,271.7h0.6M205.4,271.2h0.6M234.3,261.7h0.6M222.2,256.8h0.6M221.0,278.4h0.6M221.9,252.3h0.6M225.4,271.2h0.6M213.4,265.5h0.6M227.0,274.9h0.6M228.7,258.7h0.6M229.9,278.8h0.6M245.5,272.3h0.6M217.7,267.7h0.6M234.7,268.9h0.6M214.4,265.6h0.6M224.2,258.8h0.6M233.5,265.7h0.6M224.6,259.5h0.6M232.2,269.7h0.6M228.9,275.6h0.6M229.0,268.7h0.6M228.1,248.1h0.6M227.7,256.4h0.6M222.6,255.0h0.6M222.5,263.2h0.6M234.1,245.3h0.6M220.6,264.3h0.6M228.0,273.9h0.6M225.2,272.2h0.6M215.9,249.7h0.6M229.8,259.1h0.6M229.5,252.3h0.6M234.6,269.4h0.6M233.6,254.8h0.6M224.7,273.7h0.6M211.5,253.1h0.6M246.8,246.4h0.6M239.7,268.7h0.6M217.4,263.1h0.6M231.7,254.9h0.6M234.1,262.2h0.6M245.9,257.0h0.6M223.8,263.2h0.6M227.6,253.4h0.6M234.9,253.8h0.6M227.2,265.5h0.6M227.2,271.0h0.6M224.3,278.0h0.6M234.7,250.1h0.6M216.6,266.8h0.6M237.2,265.3h0.6M217.2,259.0h0.6M226.2,282.0h0.6M223.0,271.0h0.6M235.0,270.3h0.6M237.8,262.2h0.6M233.3,285.7h0.6M222.5,264.4h0.6M225.8,257.3h0.6M219.3,260.4h0.6M240.3,256.4h0.6M242.7,239.4h0.6M218.4,253.3h0.6M222.4,244.8h0.6M239.0,247.0h0.6M244.6,250.8h0.6M234.7,277.1h0.6M224.1,241.4h0.6M219.3,275.0h0.6M235.9,262.3h0.6M228.8,269.4h0.6M236.3,268.1h0.6M229.7,264.6h0.6M217.6,250.5h0.6M226.9,264.6h0.6M233.1,255.2h0.6M214.9,276.0h0.6M234.8,273.9h0.6M220.7,272.1h0.6M222.9,264.0h0.6M237.1,257.5h0.6M231.6,272.1h0.6M213.6,248.9h0.6M226.8,266.5h0.6M212.8,265.9h0.6M245.7,266.2h0.6M219.0,262.4h0.6M218.7,250.5h0.6M217.7,243.3h0.6M222.8,256.2h0.6M221.1,267.8h0.6M229.3,270.4h0.6M214.4,279.0h0.6M238.2,251.8h0.6M226.5,254.5h0.6M224.4,267.1h0.6M233.1,248.3h0.6M227.1,260.4h0.6M226.1,244.4h0.6M214.7,259.7h0.6M232.4,248.9h0.6M223.8,273.7h0.6M230.6,258.9h0.6M231.5,254.0h0.6M226.5,257.2h0.6M200.6,271.7h0.6M220.1,256.2h0.6M225.0,270.8h0.6M218.2,243.2h0.6M233.1,268.5h0.6M223.4,267.9h0.6M242.5,258.4h0.6M226.4,261.7h0.6M238.3,252.1h0.6M233.0,256.3h0.6M224.5,271.3h0.6M220.7,268.2h0.6M243.6,260.7h0.6M235.7,266.5h0.6M233.5,271.3h0.6M216.7,266.4h0.6M233.1,252.5h0.6M231.6,257.3h0.6M225.8,266.4h0.6M234.5,245.5h0.6M222.4,257.9h0.6M226.7,264.5h0.6M224.2,256.9h0.6M228.9,270.1h0.6M229.8,254.0h0.6M237.7,256.9h0.6M232.1,266.9h0.6M237.4,261.7h0.6M224.7,260.0h0.6M230.1,252.7h0.6M232.3,262.6h0.6M226.6,266.0h0.6M224.1,275.5h0.6M235.6,289.0h0.6M219.2,252.5h0.6M220.6,254.2h0.6M224.2,255.8h0.6M224.8,267.9h0.6M218.2,257.8h0.6M232.9,247.7h0.6M233.2,254.2h0.6M231.2,257.6h0.6M216.7,263.4h0.6M234.1,263.2h0.6M218.2,272.4h0.6M207.8,277.0h0.6M219.2,246.5h0.6M237.7,260.7h0.6M225.1,258.9h0.6M222.4,258.9h0.6M222.1,272.0h0.6M232.7,274.9h0.6M226.1,280.5h0.6M234.8,261.8h0.6M227.0,266.3h0.6M231.9,263.5h0.6M228.8,277.3h0.6M226.7,251.4h0.6M221.7,267.0h0.6M235.6,285.7h0.6M233.0,270.4h0.6M237.8,264.4h0.6M224.7,262.3h0.6M221.3,253.6h0.6M224.8,249.9h0.6M222.7,275.3h0.6M211.8,262.4h0.6M243.2,253.9h0.6M224.3,255.1h0.6M241.6,271.7h0.6M244.0,264.8h0.6M231.0,269.2h0.6M226.0,256.6h0.6M221.2,269.6h0.6M232.4,262.5h0.6M228.6,276.1h0.6M225.3,258.0h0.6M233.8,261.5h0.6M231.7,269.7h0.6M233.8,268.4h0.6M234.0,263.7h0.6M229.9,256.6h0.6M220.1,256.6h0.6M227.5,256.1h0.6M235.1,259.9h0.6M233.3,259.5h0.6M228.3,281.6h0.6M216.9,268.4h0.6M234.7,249.0h0.6M226.3,243.6h0.6M233.8,262.6h0.6M240.3,253.1h0.6M241.8,274.0h0.6M228.0,252.0h0.6M222.2,267.8h0.6M230.5,254.7h0.6M218.5,268.6h0.6M218.6,261.1h0.6M235.1,273.3h0.6M224.5,287.1h0.6M233.0,288.8h0.6M224.8,263.4h0.6M221.6,267.3h0.6M230.2,274.9h0.6M216.9,257.4h0.6M223.2,259.8h0.6M234.0,253.7h0.6M240.6,263.6h0.6M243.0,258.7h0.6M230.6,247.1h0.6M230.8,267.3h0.6M234.5,247.0h0.6M221.9,258.8h0.6M214.1,247.4h0.6M233.2,267.4h0.6M222.2,258.8h0.6M227.5,255.3h0.6M231.4,267.3h0.6M236.1,263.9h0.6M208.3,258.1h0.6M210.6,264.7h0.6M234.7,266.7h0.6M234.3,258.1h0.6M231.3,262.4h0.6M222.6,248.8h0.6M218.2,247.6h0.6M237.4,246.7h0.6M228.1,253.6h0.6M216.6,266.0h0.6M224.7,263.2h0.6M223.5,270.4h0.6M227.1,265.7h0.6M222.8,258.5h0.6M222.8,255.7h0.6M221.1,245.7h0.6M221.0,259.8h0.6M225.0,254.7h0.6M227.8,237.3h0.6M233.0,250.4h0.6M236.4,255.2h0.6M227.1,260.7h0.6M223.1,267.8h0.6M230.5,262.8h0.6M223.8,258.5h0.6M213.3,272.0h0.6M234.3,265.2h0.6M217.0,253.9h0.6M226.3,263.7h0.6M224.7,261.3h0.6M229.1,275.1h0.6M229.4,264.4h0.6M231.2,259.9h0.6M230.6,244.9h0.6M228.6,260.9h0.6M241.8,276.0h0.6M218.3,264.5h0.6M233.6,265.0h0.6M237.3,262.9h0.6M225.1,278.7h0.6M229.8,254.0h0.6M235.2,260.3h0.6M233.0,267.2h0.6M232.6,251.1h0.6M233.5,259.3h0.6M229.8,254.2h0.6M222.5,243.2h0.6M210.6,261.0h0.6M220.6,254.2h0.6M230.0,252.9h0.6M226.1,269.0h0.6M230.6,265.1h0.6M216.6,257.5h0.6M245.3,276.8h0.6M223.7,262.2h0.6M234.2,261.3h0.6M232.2,261.9h0.6M230.9,252.3h0.6M233.1,262.6h0.6M222.0,261.6h0.6M219.1,259.7h0.6M233.9,268.3h0.6M232.1,258.4h0.6M211.0,244.7h0.6M225.0,257.3h0.6M224.5,260.8h0.6M210.1,275.8h0.6M231.5,265.8h0.6M228.1,257.8h0.6M233.7,255.3h0.6M213.6,246.1h0.6M223.3,274.9h0.6M228.8,280.6h0.6M221.1,251.9h0.6M229.6,253.3h0.6M222.7,258.0h0.6M217.3,266.4h0.6M243.7,260.0h0.6M224.6,244.9h0.6M214.2,267.2h0.6M230.6,275.9h0.6M230.7,256.4h0.6M220.6,261.5h0.6M233.5,253.4h0.6M228.4,272.2h0.6M239.8,287.4h0.6M230.5,269.6h0.6M231.7,250.9h0.6M233.1,268.1h0.6M235.6,260.2h0.6M243.4,249.8h0.6M219.4,259.4h0.6M227.4,261.1h0.6M234.9,275.0h0.6M233.2,248.7h0.6M233.6,254.5h0.6M226.6,286.5h0.6M224.8,260.6h0.6M226.7,250.3h0.6M228.9,256.8h0.6M227.2,232.4h0.6M216.0,274.3h0.6M220.8,247.4h0.6M223.9,266.6h0.6M225.5,244.9h0.6M229.2,264.0h0.6M218.5,273.0h0.6M239.1,276.9h0.6M229.4,259.4h0.6M225.8,266.9h0.6M224.3,271.4h0.6M243.7,275.1h0.6M229.3,269.4h0.6M234.9,266.1h0.6M230.5,270.1h0.6M234.5,252.1h0.6M222.3,264.5h0.6M214.4,257.1h0.6M225.0,256.8h0.6M227.4,257.2h0.6M221.0,262.9h0.6M236.5,273.0h0.6M229.4,274.5h0.6M235.8,256.8h0.6M226.2,252.9h0.6M229.6,252.2h0.6M232.8,281.0h0.6M222.2,259.7h0.6M221.5,255.0h0.6M226.6,256.4h0.6M226.3,276.8h0.6M222.8,260.8h0.6M221.1,263.0h0.6M235.3,258.0h0.6M230.8,248.6h0.6M211.8,255.6h0.6M223.5,251.7h0.6M221.4,264.4h0.6M218.5,256.8h0.6M226.6,241.2h0.6M228.4,261.9h0.6M240.4,262.1h0.6M243.8,261.2h0.6M215.9,257.5h0.6M233.2,262.8h0.6M222.6,257.8h0.6M220.5,246.9h0.6M224.5,273.1h0.6M232.6,249.8h0.6M211.2,249.7h0.6M224.9,248.9h0.6M221.5,274.6h0.6M220.4,268.1h0.6M238.1,271.9h0.6M233.5,268.3h0.6M229.5,263.5h0.6M226.9,246.1h0.6M235.8,267.1h0.6M234.8,251.0h0.6M228.4,264.7h0.6M225.5,250.4h0.6M216.9,254.3h0.6M223.2,294.8h0.6M228.1,264.6h0.6M232.4,245.2h0.6M234.0,253.2h0.6M227.1,248.5h0.6M233.7,269.6h0.6M223.6,267.8h0.6M221.0,272.1h0.6M233.3,270.9h0.6M228.5,280.7h0.6M229.3,258.8h0.6M237.1,250.6h0.6M235.6,267.7h0.6M223.4,257.5h0.6M211.6,265.7h0.6M224.6,252.1h0.6M237.6,265.1h0.6M239.3,267.6h0.6M227.4,269.4h0.6M236.1,258.6h0.6M236.2,266.7h0.6M227.9,262.3h0.6M224.4,279.6h0.6M216.9,253.8h0.6M228.0,268.0h0.6M234.7,264.8h0.6M236.6,250.1h0.6M223.2,256.3h0.6M219.9,253.2h0.6M220.9,264.5h0.6M228.4,276.8h0.6M222.2,258.7h0.6M241.2,275.1h0.6M217.7,268.9h0.6M244.7,263.0h0.6M231.3,272.5h0.6M243.0,254.1h0.6M229.3,274.1h0.6M240.0,247.9h0.6M227.0,241.5h0.6M244.7,281.8h0.6M224.2,256.9h0.6M239.8,257.2h0.6M230.8,267.9h0.6M225.5,281.1h0.6M233.4,253.6h0.6M231.8,256.8h0.6M250.7,248.8h0.6M230.2,267.5h0.6M233.7,263.1h0.6M226.5,271.2h0.6M228.7,237.3h0.6M227.2,265.1h0.6M209.8,252.3h0.6M223.9,261.3h0.6M220.5,252.5h0.6M239.1,251.6h0.6M210.8,256.3h0.6M227.4,255.2h0.6M226.1,261.8h0.6M237.5,257.4h0.6M228.5,263.3h0.6M240.6,266.4h0.6M236.4,248.9h0.6M238.0,273.1h0.6M226.0,261.8h0.6M219.3,246.9h0.6M224.7,274.6h0.6M240.9,267.0h0.6M230.4,266.5h0.6M241.5,234.9h0.6M236.0,253.8h0.6M220.2,269.0h0.6M224.6,264.1h0.6M245.0,255.4h0.6M246.0,276.8h0.6M228.7,277.7h0.6M229.8,251.9h0.6M223.9,267.5h0.6M230.0,258.6h0.6M238.1,276.7h0.6M227.0,243.2h0.6M223.6,266.4h0.6M214.4,253.3h0.6M236.5,271.1h0.6M229.9,258.3h0.6M220.6,256.9h0.6M232.5,264.3h0.6M236.1,263.0h0.6M226.2,253.9h0.6M219.8,250.0h0.6M219.5,264.9h0.6M210.7,271.9h0.6M220.4,258.6h0.6M232.0,261.1h0.6M229.5,265.7h0.6M227.2,267.7h0.6M228.0,263.1h0.6M228.9,259.4h0.6M224.8,268.4h0.6M238.5,265.1h0.6M226.7,252.9h0.6M235.5,251.0h0.6M235.6,262.4h0.6M228.1,260.4h0.6M241.4,257.0h0.6M231.0,253.9h0.6M224.7,264.7h0.6M227.2,235.0h0.6M224.2,259.7h0.6M216.2,261.9h0.6M230.4,244.7h0.6M221.0,266.4h0.6M225.4,256.1h0.6M224.2,261.7h0.6M218.8,253.9h0.6M228.1,262.3h0.6M222.5,267.1h0.6M239.1,272.2h0.6M219.4,269.5h0.6M220.9,264.3h0.6M224.7,261.4h0.6M215.6,260.8h0.6M234.7,266.1h0.6M238.0,285.9h0.6M225.0,257.6h0.6M247.1,273.8h0.6M222.1,271.0h0.6M229.5,247.7h0.6M237.5,263.3h0.6M220.6,254.2h0.6M242.3,254.1h0.6M213.6,265.1h0.6M226.9,261.9h0.6M238.2,259.7h0.6M244.2,251.6h0.6M223.8,282.3h0.6M226.4,286.2h0.6M243.3,249.5h0.6M219.1,274.0h0.6M213.4,275.4h0.6M222.3,262.9h0.6M216.4,252.5h0.6M230.6,267.0h0.6M228.5,245.8h0.6M223.7,252.8h0.6M220.5,260.3h0.6M218.7,256.6h0.6M226.7,250.5h0.6M220.0,271.0h0.6M246.4,272.2h0.6M225.7,256.1h0.6M235.4,268.6h0.6M235.4,265.4h0.6M234.4,255.7h0.6M217.8,284.4h0.6M226.6,239.9h0.6M225.9,241.7h0.6M221.1,246.4h0.6M225.9,256.5h0.6M232.5,249.3h0.6M238.4,266.4h0.6M235.4,287.5h0.6M224.0,256.1h0.6M230.9,266.6h0.6M222.5,255.0h0.6M223.5,265.9h0.6M224.6,239.8h0.6M216.3,245.5h0.6M237.6,267.0h0.6M223.2,238.1h0.6M227.9,254.2h0.6M214.8,262.4h0.6M231.2,267.8h0.6M236.3,257.3h0.6M227.5,266.7h0.6M220.8,249.5h0.6M228.5,254.2h0.6M227.1,252.6h0.6M224.8,258.7h0.6M236.9,280.4h0.6M228.7,261.3h0.6M238.4,257.5h0.6M236.7,262.3h0.6M210.6,260.9h0.6M214.2,269.6h0.6M224.0,251.7h0.6M224.6,263.0h0.6M231.0,259.3h0.6M228.6,284.9h0.6M235.1,259.0h0.6M232.2,245.8h0.6M226.3,256.3h0.6M231.8,258.5h0.6M222.0,266.8h0.6M232.8,248.3h0.6M221.3,248.0h0.6M233.3,279.3h0.6M217.4,273.0h0.6M226.1,261.7h0.6M232.1,256.3h0.6M236.5,280.4h0.6M239.0,269.0h0.6M234.7,270.0h0.6M221.5,267.8h0.6M218.8,258.8h0.6M235.3,258.8h0.6M222.0,249.9h0.6M224.6,251.7h0.6M228.1,262.3h0.6M243.4,256.3h0.6M228.1,245.9h0.6M223.4,273.0h0.6M236.3,280.3h0.6M224.9,264.9h0.6M230.7,281.1h0.6M243.7,263.7h0.6M219.9,250.2h0.6M223.5,269.2h0.6M223.3,264.6h0.6M225.4,244.6h0.6M224.3,251.7h0.6M217.0,262.1h0.6M218.9,263.4h0.6M224.5,257.9h0.6M228.6,270.3h0.6M223.6,249.8h0.6M220.1,261.4h0.6M230.2,258.9h0.6M230.8,265.1h0.6M236.5,271.9h0.6M231.5,269.4h0.6M242.5,261.3h0.6M219.8,260.5h0.6M233.2,261.0h0.6M229.6,261.9h0.6M224.2,278.0h0.6M210.8,275.3h0.6M218.2,266.5h0.6M234.6,260.4h0.6M243.5,269.9h0.6M222.6,264.4h0.6M210.4,250.8h0.6M230.5,262.3h0.6M234.1,264.8h0.6M219.3,259.0h0.6" fill="none" stroke="#333" stroke-width="0.6" stroke-linecap="butt" opacity="0.8"/>
<path d="M241.0,283.2h0.6M236.1,286.3h0.6M227.0,271.6h0.6M225.3,283.0h0.6M238.3,281.8h0.6M223.8,289.4h0.6M222.4,278.1h0.6M228.6,282.5h0.6M238.6,272.0h0.6M230.1,282.9h0.6M225.0,280.5h0.6M233.1,273.0h0.6M224.2,280.7h0.6M230.6,282.3h0.6M245.3,286.4h0.6M234.7,276.7h0.6M237.6,276.3h0.6M241.4,288.1h0.6M220.0,273.9h0.6M230.9,278.6h0.6M224.4,273.6h0.6M236.3,277.8h0.6M222.8,279.3h0.6M237.8,291.1h0.6M232.4,279.1h0.6M227.2,277.9h0.6M235.2,288.5h0.6M239.5,279.5h0.6M237.3,285.6h0.6M234.7,266.3h0.6M231.6,279.3h0.6M240.0,279.3h0.6M234.7,282.6h0.6M239.6,285.6h0.6M238.2,290.0h0.6M237.8,285.7h0.6M230.4,281.6h0.6M245.0,281.2h0.6M235.1,280.5h0.6M230.3,263.0h0.6M242.3,273.9h0.6M227.0,289.1h0.6M217.9,281.2h0.6M228.6,269.9h0.6M235.7,276.4h0.6M231.4,278.4h0.6M235.8,294.6h0.6M224.5,286.1h0.6M227.9,278.9h0.6M220.7,274.2h0.6M229.4,285.9h0.6M233.5,284.5h0.6M236.4,272.7h0.6M240.7,279.1h0.6M236.1,279.9h0.6M233.6,284.9h0.6M218.5,293.1h0.6M233.0,287.6h0.6M233.3,281.5h0.6M224.1,278.7h0.6M218.7,280.1h0.6M241.5,269.7h0.6M227.9,278.8h0.6M239.0,288.4h0.6M232.4,281.5h0.6M231.0,278.1h0.6M229.1,278.2h0.6M231.1,281.5h0.6M228.2,284.8h0.6M231.8,284.2h0.6M223.8,276.8h0.6M232.6,282.7h0.6M230.9,290.2h0.6M230.7,289.6h0.6M240.4,285.2h0.6M234.7,284.3h0.6M231.1,274.2h0.6M228.9,277.2h0.6M229.5,276.6h0.6M225.5,281.8h0.6M240.5,275.7h0.6M220.9,277.5h0.6M224.6,274.9h0.6M224.2,280.1h0.6M235.1,294.5h0.6M224.9,272.5h0.6M230.9,280.2h0.6M241.6,288.8h0.6M228.0,268.6h0.6M235.4,278.3h0.6M240.2,280.2h0.6M231.1,273.8h0.6M231.7,287.9h0.6M227.1,282.2h0.6M228.5,286.4h0.6M231.7,284.3h0.6M233.9,275.7h0.6M225.1,288.9h0.6M229.9,274.8h0.6M228.1,291.0h0.6M232.6,287.7h0.6M218.3,294.8h0.6M232.5,289.0h0.6M230.1,280.7h0.6M237.2,292.4h0.6M233.0,277.0h0.6M238.1,293.8h0.6M223.9,276.0h0.6M235.9,278.4h0.6M218.7,281.0h0.6M233.8,285.2h0.6M240.5,273.2h0.6M228.8,280.7h0.6M234.6,276.5h0.6M232.2,276.4h0.6M237.2,288.6h0.6M227.4,284.6h0.6M225.8,283.5h0.6M223.5,282.6h0.6M239.1,286.6h0.6M221.0,281.9h0.6M229.9,289.7h0.6M234.6,289.9h0.6M228.8,274.2h0.6M217.4,282.9h0.6M230.4,282.9h0.6M231.1,282.6h0.6M240.8,273.8h0.6M235.3,288.8h0.6M235.3,292.3h0.6M230.2,282.1h0.6M230.3,279.1h0.6M242.8,272.5h0.6M228.6,278.0h0.6M232.3,279.3h0.6M235.9,284.3h0.6M243.0,286.4h0.6M226.6,271.5h0.6M229.6,277.4h0.6M230.6,289.1h0.6M234.2,272.9h0.6M227.3,290.7h0.6M224.9,285.5h0.6M237.2,273.8h0.6M224.2,283.0h0.6M233.8,287.2h0.6M235.4,275.0h0.6M243.0,282.2h0.6M232.9,282.3h0.6M223.0,276.1h0.6M236.9,285.2h0.6M229.0,281.7h0.6M228.9,277.7h0.6M229.4,274.4h0.6M227.7,280.3h0.6M232.1,280.1h0.6M230.9,283.6h0.6M232.8,281.5h0.6M229.7,280.7h0.6M236.8,285.2h0.6M230.3,277.3h0.6M227.8,274.6h0.6M241.7,276.0h0.6M237.6,280.7h0.6M236.0,277.5h0.6M230.7,287.2h0.6M241.5,282.4h0.6M239.0,285.4h0.6M237.9,283.3h0.6M231.8,295.5h0.6M230.3,286.4h0.6M230.9,283.9h0.6M228.9,277.0h0.6M231.3,286.1h0.6M225.6,289.5h0.6M232.6,284.0h0.6M228.2,287.8h0.6M231.4,283.8h0.6M222.5,292.9h0.6M237.2,277.0h0.6M228.6,282.5h0.6M227.4,272.6h0.6M231.6,289.4h0.6M236.2,284.1h0.6M229.4,291.4h0.6M226.7,276.1h0.6M225.0,283.9h0.6M227.4,281.5h0.6M237.2,271.6h0.6M227.4,285.0h0.6M233.1,280.5h0.6M232.4,277.4h0.6M234.0,286.2h0.6M228.2,277.3h0.6M224.8,280.2h0.6M238.9,277.2h0.6M230.9,289.4h0.6M227.2,279.2h0.6M231.9,280.2h0.6M244.2,280.0h0.6M240.8,284.5h0.6M244.5,294.4h0.6M222.5,283.9h0.6M231.7,289.7h0.6M242.6,282.9h0.6M231.6,284.7h0.6M225.4,283.6h0.6M235.5,282.0h0.6M226.5,286.1h0.6M231.0,277.9h0.6M234.5,275.9h0.6M237.8,280.7h0.6M226.6,282.8h0.6M244.0,287.7h0.6M223.5,275.5h0.6M235.9,286.7h0.6M231.0,285.7h0.6M225.4,286.2h0.6M223.0,283.5h0.6M240.0,280.4h0.6M236.5,266.9h0.6M237.5,280.0h0.6M236.9,273.1h0.6M243.0,282.3h0.6M242.2,273.3h0.6M227.0,289.2h0.6M235.1,275.3h0.6M228.2,276.5h0.6M238.4,277.5h0.6M232.3,287.3h0.6M227.0,278.0h0.6M228.0,288.4h0.6M229.1,287.3h0.6M236.5,283.6h0.6M237.2,285.5h0.6M229.3,286.2h0.6M249.8,284.4h0.6M232.2,281.8h0.6M230.5,280.1h0.6M220.0,275.2h0.6M238.4,283.4h0.6M234.3,277.2h0.6M233.4,282.5h0.6M228.6,271.4h0.6M227.0,283.5h0.6M236.5,280.5h0.6M235.4,270.6h0.6M221.9,284.1h0.6M226.0,292.5h0.6M231.8,272.6h0.6M236.8,273.4h0.6M235.7,276.8h0.6M221.8,291.2h0.6M227.2,283.1h0.6M234.0,275.8h0.6M225.2,284.8h0.6M241.8,287.0h0.6M230.6,279.8h0.6M236.2,283.8h0.6M222.2,285.6h0.6M235.1,271.6h0.6M231.1,273.9h0.6M236.8,283.9h0.6M232.0,279.6h0.6M232.1,282.1h0.6M229.5,285.7h0.6M228.3,281.5h0.6M229.1,280.1h0.6M234.8,270.0h0.6M221.3,287.5h0.6M228.1,274.4h0.6M227.8,276.1h0.6M240.3,290.8h0.6M233.8,293.1h0.6M226.4,286.1h0.6M227.8,277.2h0.6M243.6,280.4h0.6M227.9,284.6h0.6M242.8,271.7h0.6M230.0,283.5h0.6M225.5,279.5h0.6M224.4,283.9h0.6M239.7,281.7h0.6M228.8,274.1h0.6M239.8,281.1h0.6M239.9,276.5h0.6M226.2,280.4h0.6M233.4,287.5h0.6M235.3,280.1h0.6M226.7,276.0h0.6M235.8,283.4h0.6M231.9,283.6h0.6M241.4,287.2h0.6M228.7,289.3h0.6M224.8,281.5h0.6M230.5,281.4h0.6M234.8,282.4h0.6M235.6,272.4h0.6M240.9,278.8h0.6M233.2,288.8h0.6" fill="none" stroke="#333" stroke-width="0.6" stroke-linecap="butt" opacity="0.8"/>
<path d="M202.4,284.8h0.6M219.8,273.2h0.6M215.5,280.4h0.6M216.2,278.9h0.6M223.0,288.0h0.6M233.4,277.0h0.6M206.2,285.0h0.6M211.2,269.7h0.6M235.6,286.6h0.6M210.7,274.7h0.6M219.8,279.9h0.6M220.5,276.8h0.6M192.6,259.3h0.6M226.6,280.2h0.6M188.5,281.2h0.6M218.5,285.2h0.6M215.0,281.2h0.6M204.8,261.7h0.6M211.9,279.1h0.6M210.6,262.1h0.6M208.9,270.7h0.6M223.2,265.7h0.6M202.4,271.3h0.6M216.4,289.0h0.6M220.0,263.4h0.6M202.4,293.2h0.6M216.9,275.5h0.6M219.7,283.9h0.6M235.0,279.5h0.6M205.9,268.0h0.6M226.3,277.7h0.6M216.8,282.6h0.6M202.7,294.1h0.6M211.7,275.8h0.6M211.6,279.3h0.6M210.6,274.4h0.6M222.4,291.0h0.6M223.5,266.1h0.6M210.3,291.9h0.6M214.8,279.2h0.6M212.3,293.1h0.6M209.5,273.3h0.6M227.2,262.1h0.6M209.4,303.0h0.6M214.7,281.7h0.6M191.1,276.5h0.6M202.8,270.6h0.6M205.2,278.6h0.6M211.2,287.7h0.6M187.5,271.0h0.6M223.2,281.4h0.6M231.5,272.9h0.6M226.6,282.9h0.6M199.6,260.1h0.6M237.3,288.9h0.6M216.3,270.0h0.6M193.1,274.1h0.6M215.8,293.5h0.6M210.7,276.6h0.6M213.3,288.2h0.6M233.4,296.4h0.6M215.0,285.3h0.6M203.0,271.0h0.6M210.5,286.0h0.6M188.7,278.5h0.6M238.3,288.5h0.6M231.8,272.2h0.6M218.8,268.7h0.6M234.2,274.2h0.6M209.9,267.9h0.6M218.4,293.1h0.6M214.9,277.0h0.6M209.4,289.5h0.6M216.5,283.1h0.6M215.8,279.6h0.6M223.7,284.9h0.6M197.9,277.9h0.6M212.8,282.9h0.6M229.9,271.2h0.6M207.1,264.2h0.6M208.0,290.1h0.6M207.7,291.2h0.6M215.9,276.3h0.6M216.7,273.2h0.6M219.7,278.4h0.6M193.1,270.5h0.6M221.3,275.4h0.6M189.2,288.3h0.6M232.1,265.8h0.6M215.1,286.0h0.6M220.6,284.3h0.6M197.3,288.1h0.6M211.0,272.8h0.6M220.7,287.9h0.6M225.5,270.8h0.6M219.4,263.2h0.6M225.1,269.9h0.6M205.4,285.7h0.6M218.1,270.3h0.6M223.0,295.8h0.6M197.9,279.8h0.6M216.6,280.6h0.6M217.0,288.5h0.6M224.4,279.6h0.6M227.0,274.2h0.6M236.6,278.5h0.6M212.6,283.8h0.6M203.5,266.7h0.6M206.5,292.1h0.6M222.8,271.6h0.6M213.7,278.0h0.6M206.6,273.5h0.6M203.4,264.2h0.6M205.4,290.5h0.6M221.8,275.9h0.6M219.0,267.1h0.6M219.4,276.6h0.6M209.7,282.0h0.6M213.6,299.0h0.6M203.9,276.2h0.6M218.8,277.2h0.6M235.4,280.0h0.6M193.8,271.3h0.6M186.2,278.6h0.6M210.7,284.3h0.6M226.0,269.8h0.6M216.7,278.3h0.6M234.3,279.6h0.6M211.2,274.3h0.6M221.0,261.4h0.6M204.3,268.4h0.6M198.1,284.2h0.6M194.0,292.7h0.6M199.9,269.9h0.6M245.7,265.1h0.6M209.3,277.0h0.6M188.4,274.5h0.6M217.4,285.4h0.6M213.6,285.2h0.6M220.7,266.5h0.6M227.3,284.1h0.6M214.1,275.8h0.6M215.7,279.6h0.6M211.0,268.5h0.6M224.0,278.6h0.6M220.5,290.1h0.6M203.8,282.6h0.6M213.4,280.5h0.6M207.1,290.6h0.6M199.5,274.9h0.6" fill="none" stroke="#333" stroke-width="0.6" stroke-linecap="butt" opacity="0.6"/>
<path d="M220.0,254.0 C220.8,251.4 222.8,248.8 225.0,247.5 C227.2,246.2 230.6,245.7 233.2,246.0 C235.8,246.3 238.9,247.5 240.5,249.5 C242.1,251.5 242.4,254.9 242.5,258.2 C242.6,261.4 241.8,265.4 241.0,269.0 C240.2,272.6 239.1,277.2 237.5,279.5 C235.9,281.8 233.4,282.5 231.6,282.5 C229.8,282.5 228.0,281.4 226.5,279.5 C225.0,277.6 223.6,273.8 222.5,271.0 C221.4,268.2 220.6,265.6 220.2,262.8 C219.8,260.0 219.2,256.6 220.0,254.0Z" fill="#555" stroke="none" stroke-width="1" />
<path d="M220.8,255.1 C221.5,252.8 223.4,250.2 225.5,248.9 C227.6,247.6 230.9,247.1 233.2,247.4 C235.5,247.7 238.0,248.7 239.3,250.5 C240.6,252.3 240.8,255.1 240.8,258.2 C240.8,261.3 240.1,265.6 239.3,268.9 C238.5,272.2 237.5,276.3 236.2,278.2 C234.9,280.1 233.0,280.5 231.6,280.5 C230.2,280.5 229.1,279.9 227.8,278.2 C226.5,276.5 224.9,273.1 223.9,270.5 C222.9,267.9 222.1,265.4 221.6,262.8 C221.1,260.2 220.2,257.4 220.8,255.1Z" fill="#fff" stroke="#111" stroke-width="1.0" />
<path d="M223.3,256.7 C223.9,254.8 225.4,252.7 227.1,251.7 C228.8,250.7 231.4,250.3 233.3,250.5 C235.1,250.7 237.1,251.6 238.1,253.0 C239.2,254.4 239.3,256.7 239.3,259.2 C239.3,261.6 238.8,265.1 238.1,267.7 C237.5,270.4 236.7,273.6 235.7,275.2 C234.6,276.7 233.1,277.0 232.0,277.0 C230.9,277.0 230.0,276.5 228.9,275.2 C227.9,273.8 226.6,271.1 225.8,269.0 C225.0,266.9 224.4,264.9 224.0,262.8 C223.6,260.8 222.8,258.5 223.3,256.7Z" fill="#f0f0f0" stroke="#777" stroke-width="0.5" />
<path d="M225.1,257.8 C225.5,256.3 226.9,254.5 228.2,253.7 C229.6,252.8 231.8,252.5 233.3,252.7 C234.8,252.9 236.5,253.6 237.3,254.8 C238.2,255.9 238.3,257.8 238.3,259.8 C238.3,261.9 237.8,264.7 237.3,266.9 C236.8,269.1 236.1,271.8 235.3,273.0 C234.4,274.3 233.2,274.6 232.2,274.6 C231.3,274.6 230.6,274.1 229.7,273.0 C228.9,271.9 227.8,269.6 227.2,267.9 C226.5,266.3 226.0,264.6 225.6,262.9 C225.3,261.2 224.7,259.3 225.1,257.8Z" fill="#c8c8c8" stroke="#666" stroke-width="0.5" />
<path d="M226.6,258.7 C227.0,257.5 228.1,256.1 229.2,255.4 C230.3,254.7 232.1,254.4 233.3,254.6 C234.6,254.7 235.9,255.3 236.6,256.2 C237.3,257.2 237.4,258.8 237.4,260.4 C237.4,262.1 237.0,264.4 236.6,266.2 C236.2,268.0 235.7,270.2 235.0,271.2 C234.3,272.3 233.2,272.4 232.5,272.4 C231.7,272.4 231.1,272.1 230.4,271.2 C229.7,270.3 228.9,268.4 228.3,267.1 C227.8,265.7 227.4,264.3 227.1,262.9 C226.8,261.5 226.3,260.0 226.6,258.7Z" fill="#909090" stroke="#555" stroke-width="0.5" />
<path d="M228.2,259.7 C228.4,258.7 229.3,257.6 230.1,257.1 C231.0,256.5 232.4,256.3 233.4,256.4 C234.3,256.6 235.4,257.0 235.9,257.8 C236.5,258.5 236.6,259.7 236.6,261.0 C236.6,262.3 236.3,264.1 235.9,265.5 C235.6,266.9 235.2,268.6 234.6,269.4 C234.1,270.2 233.3,270.4 232.7,270.4 C232.1,270.4 231.6,270.1 231.1,269.4 C230.6,268.7 229.9,267.2 229.5,266.1 C229.0,265.1 228.7,264.0 228.5,262.9 C228.3,261.8 227.9,260.7 228.2,259.7Z" fill="#555" stroke="#333" stroke-width="0.5" />
<path d="M229.4,260.5 C229.6,259.7 230.3,258.9 230.9,258.5 C231.6,258.1 232.7,257.9 233.4,258.0 C234.1,258.1 235.0,258.4 235.4,259.0 C235.8,259.6 235.8,260.5 235.8,261.5 C235.8,262.4 235.6,263.8 235.4,264.9 C235.1,266.0 234.8,267.2 234.4,267.9 C234.0,268.5 233.3,268.6 232.9,268.6 C232.4,268.6 232.1,268.4 231.7,267.9 C231.3,267.3 230.8,266.2 230.4,265.4 C230.1,264.6 229.9,263.8 229.7,262.9 C229.5,262.1 229.2,261.2 229.4,260.5Z" fill="#1a1a1a" stroke="#111" stroke-width="0.5" />
<ellipse cx="232.8" cy="262" rx="0.8" ry="4" fill="#aaa"/>
</g>
<line x1="61.5" y1="238.2" x2="61.5" y2="307.7" stroke="#5a5a5a" stroke-width="0.8" />
<line x1="20.4" y1="258.5" x2="90.7" y2="258.5" stroke="#5a5a5a" stroke-width="0.8" />
<rect x="20.4" y="238.2" width="70.30000000000001" height="69.5" fill="none" stroke="#111" stroke-width="1.2" />
<line x1="136.5" y1="238.2" x2="136.5" y2="307.7" stroke="#5a5a5a" stroke-width="0.8" />
<line x1="95.4" y1="259.3" x2="164.8" y2="259.3" stroke="#5a5a5a" stroke-width="0.8" />
<rect x="95.4" y="238.2" width="69.4" height="69.5" fill="none" stroke="#111" stroke-width="1.2" />
<line x1="213.2" y1="238.5" x2="213.2" y2="307.7" stroke="#5a5a5a" stroke-width="0.8" />
<line x1="172.4" y1="259.3" x2="242.4" y2="259.3" stroke="#5a5a5a" stroke-width="0.8" />
<rect x="172.4" y="238.5" width="70.0" height="69.19999999999999" fill="none" stroke="#111" stroke-width="1.2" />
<text x="23.5" y="246.8" font-size="7.4" text-anchor="start" fill="#0d0d0d" stroke="#0d0d0d" stroke-width="0.12" textLength="9.7" lengthAdjust="spacingAndGlyphs" >4.2</text>
<text x="72.7" y="246.8" font-size="7.4" text-anchor="start" fill="#0d0d0d" stroke="#0d0d0d" stroke-width="0.12" textLength="13.4" lengthAdjust="spacingAndGlyphs" >32.0</text>
<text x="99.4" y="246.8" font-size="7.4" text-anchor="start" fill="#0d0d0d" stroke="#0d0d0d" stroke-width="0.12" textLength="8" lengthAdjust="spacingAndGlyphs" >0.1</text>
<text x="154.3" y="246.8" font-size="7.4" text-anchor="start" fill="#0d0d0d" stroke="#0d0d0d" stroke-width="0.12" textLength="8.5" lengthAdjust="spacingAndGlyphs" >1.5</text>
<text x="175.5" y="246.8" font-size="7.4" text-anchor="start" fill="#0d0d0d" stroke="#0d0d0d" stroke-width="0.12" textLength="8.7" lengthAdjust="spacingAndGlyphs" >0.7</text>
<text x="224.7" y="246.8" font-size="7.4" text-anchor="start" fill="#0d0d0d" stroke="#0d0d0d" stroke-width="0.12" textLength="13.1" lengthAdjust="spacingAndGlyphs" >27.9</text>
<text x="24.5" y="306" font-size="7.4" text-anchor="start" fill="#0d0d0d" stroke="#0d0d0d" stroke-width="0.12" textLength="8.7" lengthAdjust="spacingAndGlyphs" >1.3</text>
<text x="72.7" y="306" font-size="7.4" text-anchor="start" fill="#0d0d0d" stroke="#0d0d0d" stroke-width="0.12" textLength="13.4" lengthAdjust="spacingAndGlyphs" >62.5</text>
<text x="99.4" y="306" font-size="7.4" text-anchor="start" fill="#0d0d0d" stroke="#0d0d0d" stroke-width="0.12" textLength="8.6" lengthAdjust="spacingAndGlyphs" >2.3</text>
<text x="148.2" y="306" font-size="7.4" text-anchor="start" fill="#0d0d0d" stroke="#0d0d0d" stroke-width="0.12" textLength="14.6" lengthAdjust="spacingAndGlyphs" >96.1</text>
<text x="175.5" y="306" font-size="7.4" text-anchor="start" fill="#0d0d0d" stroke="#0d0d0d" stroke-width="0.12" textLength="8.5" lengthAdjust="spacingAndGlyphs" >0.2</text>
<text x="224.7" y="306" font-size="7.4" text-anchor="start" fill="#0d0d0d" stroke="#0d0d0d" stroke-width="0.12" textLength="13.1" lengthAdjust="spacingAndGlyphs" >71.2</text>
<text x="0" y="0" font-size="9" text-anchor="middle" fill="#1a1a1a" stroke="#1a1a1a" stroke-width="0.12" textLength="9.6" lengthAdjust="spacingAndGlyphs" transform="translate(12.6,274) rotate(-90)">Kit</text>
<text x="46.2" y="321.2" font-size="8.8" text-anchor="start" fill="#1a1a1a" stroke="#1a1a1a" stroke-width="0.12" textLength="21.5" lengthAdjust="spacingAndGlyphs" >CD25</text>
<line x1="71.1" y1="318.4" x2="234" y2="318.4" stroke="#111" stroke-width="1.1" />
<path d="M239,318.4 L231,315.1 L232.8,318.4 L231,321.7Z" fill="#111" stroke="none" stroke-width="1" />
<circle cx="335" cy="215" r="30.6" fill="#f8e7b2"/>
<circle cx="380.2" cy="205.7" r="34.5" fill="#c6cee0"/>
<circle cx="367.7" cy="248.7" r="26" fill="#e6b3c3"/>
<g clip-path="url(#cY)"><circle cx="380.2" cy="205.7" r="34.5" fill="#c9c9a8"/><circle cx="367.7" cy="248.7" r="26" fill="#eab7a3"/></g>
<g clip-path="url(#cB)"><circle cx="367.7" cy="248.7" r="26" fill="#c79ab4"/></g>
<g clip-path="url(#cY)"><g clip-path="url(#cB)"><circle cx="367.7" cy="248.7" r="26" fill="#c9988a"/></g></g>
<circle cx="335" cy="215" r="30.6" fill="none" stroke="#111" stroke-width="1.35"/>
<circle cx="380.2" cy="205.7" r="34.5" fill="none" stroke="#111" stroke-width="1.35"/>
<circle cx="367.7" cy="248.7" r="26" fill="none" stroke="#111" stroke-width="1.35"/>
<text x="324.9" y="170.2" font-size="7.5" text-anchor="middle" fill="#1a1a1a" stroke="#1a1a1a" stroke-width="0.12" textLength="23.4" lengthAdjust="spacingAndGlyphs" >Notch1</text>
<text x="325" y="179.3" font-size="7.3" text-anchor="middle" fill="#1a1a1a" stroke="#1a1a1a" stroke-width="0.12" textLength="23.5" lengthAdjust="spacingAndGlyphs" >Targets</text>
<text x="435" y="177.5" font-size="7.3" text-anchor="middle" fill="#1a1a1a" stroke="#1a1a1a" stroke-width="0.12" textLength="20.5" lengthAdjust="spacingAndGlyphs" >Zmiz1</text>
<text x="435" y="187.5" font-size="7.3" text-anchor="middle" fill="#1a1a1a" stroke="#1a1a1a" stroke-width="0.12" textLength="23.5" lengthAdjust="spacingAndGlyphs" >Targets</text>
<text x="435" y="197.5" font-size="7.3" text-anchor="middle" fill="#1a1a1a" stroke="#1a1a1a" stroke-width="0.12" textLength="35" lengthAdjust="spacingAndGlyphs" >(ΔMx1Cre)</text>
<text x="409" y="268.5" font-size="7.3" text-anchor="middle" fill="#1a1a1a" stroke="#1a1a1a" stroke-width="0.12" textLength="20.5" lengthAdjust="spacingAndGlyphs" >Zmiz1</text>
<text x="409" y="278.3" font-size="7.3" text-anchor="middle" fill="#1a1a1a" stroke="#1a1a1a" stroke-width="0.12" textLength="23.5" lengthAdjust="spacingAndGlyphs" >Targets</text>
<text x="409" y="288" font-size="7.3" text-anchor="middle" fill="#1a1a1a" stroke="#1a1a1a" stroke-width="0.12" textLength="35.5" lengthAdjust="spacingAndGlyphs" >(ΔTamCre)</text>
<text x="326.5" y="218.8" font-size="8.5" text-anchor="middle" fill="#1a1a1a" stroke="#1a1a1a" stroke-width="0.12" textLength="11.5" lengthAdjust="spacingAndGlyphs" >380</text>
<text x="355" y="212.3" font-size="8.5" text-anchor="middle" fill="#1a1a1a" stroke="#1a1a1a" stroke-width="0.12" textLength="8.1" lengthAdjust="spacingAndGlyphs" >53</text>
<text x="389.8" y="208.4" font-size="8.5" text-anchor="middle" fill="#1a1a1a" stroke="#1a1a1a" stroke-width="0.12" textLength="12.3" lengthAdjust="spacingAndGlyphs" >467</text>
<text x="360.4" y="231.4" font-size="8.5" text-anchor="middle" fill="#1a1a1a" stroke="#1a1a1a" stroke-width="0.12" textLength="4" lengthAdjust="spacingAndGlyphs" >7</text>
<text x="352.2" y="239.2" font-size="8.5" text-anchor="middle" fill="#1a1a1a" stroke="#1a1a1a" stroke-width="0.12" textLength="7.3" lengthAdjust="spacingAndGlyphs" >28</text>
<text x="374.5" y="235.1" font-size="8.5" text-anchor="middle" fill="#1a1a1a" stroke="#1a1a1a" stroke-width="0.12" textLength="7.8" lengthAdjust="spacingAndGlyphs" >37</text>
<text x="367" y="260.8" font-size="8.5" text-anchor="middle" fill="#1a1a1a" stroke="#1a1a1a" stroke-width="0.12" textLength="11.9" lengthAdjust="spacingAndGlyphs" >304</text>
<text x="68.8" y="337" font-size="7.4" text-anchor="middle" fill="#1a1a1a" stroke="#1a1a1a" stroke-width="0.12" textLength="52.5" lengthAdjust="spacingAndGlyphs" >%Notch1 target</text>
<text x="68.8" y="346.4" font-size="7.4" text-anchor="middle" fill="#1a1a1a" stroke="#1a1a1a" stroke-width="0.12" textLength="53.7" lengthAdjust="spacingAndGlyphs" >genes regulated</text>
<text x="68.8" y="355.8" font-size="7.4" text-anchor="middle" fill="#1a1a1a" stroke="#1a1a1a" stroke-width="0.12" textLength="28.7" lengthAdjust="spacingAndGlyphs" >by Zmiz1</text>
<line x1="45.8" y1="362" x2="45.8" y2="436.3" stroke="#1a1a1a" stroke-width="1.1" />
<line x1="43.599999999999994" y1="435.8" x2="45.8" y2="435.8" stroke="#1a1a1a" stroke-width="0.9" />
<text x="41.199999999999996" y="438.3" font-size="7.2" text-anchor="end" fill="#1a1a1a" stroke="#1a1a1a" stroke-width="0.12" >0</text>
<line x1="43.599999999999994" y1="411.7" x2="45.8" y2="411.7" stroke="#1a1a1a" stroke-width="0.9" />
<text x="41.199999999999996" y="414.2" font-size="7.2" text-anchor="end" fill="#1a1a1a" stroke="#1a1a1a" stroke-width="0.12" >10</text>
<line x1="43.599999999999994" y1="387.6" x2="45.8" y2="387.6" stroke="#1a1a1a" stroke-width="0.9" />
<text x="41.199999999999996" y="390.1" font-size="7.2" text-anchor="end" fill="#1a1a1a" stroke="#1a1a1a" stroke-width="0.12" >20</text>
<line x1="43.599999999999994" y1="363.5" x2="45.8" y2="363.5" stroke="#1a1a1a" stroke-width="0.9" />
<text x="41.199999999999996" y="366.0" font-size="7.2" text-anchor="end" fill="#1a1a1a" stroke="#1a1a1a" stroke-width="0.12" >30</text>
<line x1="45.3" y1="435.8" x2="90.6" y2="435.8" stroke="#1a1a1a" stroke-width="1.1" />
<line x1="67.1" y1="435.8" x2="67.1" y2="438.0" stroke="#1a1a1a" stroke-width="0.9" />
<line x1="88.3" y1="435.8" x2="88.3" y2="438.0" stroke="#1a1a1a" stroke-width="0.9" />
<rect x="52.5" y="417.002" width="9.5" height="18.798000000000002" fill="#a30d35" stroke="none" stroke-width="1" />
<rect x="74.5" y="403.988" width="9.299999999999997" height="31.812" fill="#a30d35" stroke="none" stroke-width="1" />
<text x="0" y="0" font-size="9.8" text-anchor="middle" fill="#1a1a1a" stroke="#1a1a1a" stroke-width="0.12" textLength="35.8" lengthAdjust="spacingAndGlyphs" transform="translate(15.1,398.8) rotate(-90)">%Notch1</text>
<text x="0" y="0" font-size="9.8" text-anchor="middle" fill="#1a1a1a" stroke="#1a1a1a" stroke-width="0.12" textLength="49.4" lengthAdjust="spacingAndGlyphs" transform="translate(24.6,398.3) rotate(-90)">target genes</text>
<text x="13.8" y="448.8" font-size="7.2" text-anchor="start" fill="#1a1a1a" stroke="#1a1a1a" stroke-width="0.12" textLength="26" lengthAdjust="spacingAndGlyphs" >Dataset:</text>
<text x="57.2" y="448.8" font-size="7.2" text-anchor="middle" fill="#1a1a1a" stroke="#1a1a1a" stroke-width="0.12" textLength="19" lengthAdjust="spacingAndGlyphs" >ΔTam</text>
<text x="78.6" y="448.8" font-size="7.2" text-anchor="middle" fill="#1a1a1a" stroke="#1a1a1a" stroke-width="0.12" textLength="19" lengthAdjust="spacingAndGlyphs" >ΔMx1</text>
<text x="57.2" y="457.9" font-size="7.2" text-anchor="middle" fill="#1a1a1a" stroke="#1a1a1a" stroke-width="0.12" textLength="11" lengthAdjust="spacingAndGlyphs" >Cre</text>
<text x="78.6" y="457.9" font-size="7.2" text-anchor="middle" fill="#1a1a1a" stroke="#1a1a1a" stroke-width="0.12" textLength="11" lengthAdjust="spacingAndGlyphs" >Cre</text>
<text x="175" y="337" font-size="7.4" text-anchor="middle" fill="#1a1a1a" stroke="#1a1a1a" stroke-width="0.12" textLength="48.7" lengthAdjust="spacingAndGlyphs" >%Zmiz1 target</text>
<text x="175" y="346.4" font-size="7.4" text-anchor="middle" fill="#1a1a1a" stroke="#1a1a1a" stroke-width="0.12" textLength="53.2" lengthAdjust="spacingAndGlyphs" >genes regulated</text>
<text x="175" y="355.8" font-size="7.4" text-anchor="middle" fill="#1a1a1a" stroke="#1a1a1a" stroke-width="0.12" textLength="33.5" lengthAdjust="spacingAndGlyphs" >by Notch1</text>
<line x1="152.5" y1="362" x2="152.5" y2="436.3" stroke="#1a1a1a" stroke-width="1.1" />
<line x1="150.3" y1="435.8" x2="152.5" y2="435.8" stroke="#1a1a1a" stroke-width="0.9" />
<text x="147.9" y="438.3" font-size="7.2" text-anchor="end" fill="#1a1a1a" stroke="#1a1a1a" stroke-width="0.12" >0</text>
<line x1="150.3" y1="411.7" x2="152.5" y2="411.7" stroke="#1a1a1a" stroke-width="0.9" />
<text x="147.9" y="414.2" font-size="7.2" text-anchor="end" fill="#1a1a1a" stroke="#1a1a1a" stroke-width="0.12" >10</text>
<line x1="150.3" y1="387.6" x2="152.5" y2="387.6" stroke="#1a1a1a" stroke-width="0.9" />
<text x="147.9" y="390.1" font-size="7.2" text-anchor="end" fill="#1a1a1a" stroke="#1a1a1a" stroke-width="0.12" >20</text>
<line x1="150.3" y1="363.5" x2="152.5" y2="363.5" stroke="#1a1a1a" stroke-width="0.9" />
<text x="147.9" y="366.0" font-size="7.2" text-anchor="end" fill="#1a1a1a" stroke="#1a1a1a" stroke-width="0.12" >30</text>
<line x1="152.0" y1="435.8" x2="197.3" y2="435.8" stroke="#1a1a1a" stroke-width="1.1" />
<line x1="173.8" y1="435.8" x2="173.8" y2="438.0" stroke="#1a1a1a" stroke-width="0.9" />
<line x1="195.0" y1="435.8" x2="195.0" y2="438.0" stroke="#1a1a1a" stroke-width="0.9" />
<rect x="158.8" y="411.94100000000003" width="9.199999999999989" height="23.859" fill="#a30d35" stroke="none" stroke-width="1" />
<rect x="180.5" y="409.29" width="9.0" height="26.51" fill="#a30d35" stroke="none" stroke-width="1" />
<text x="0" y="0" font-size="9.8" text-anchor="middle" fill="#1a1a1a" stroke="#1a1a1a" stroke-width="0.12" textLength="30.9" lengthAdjust="spacingAndGlyphs" transform="translate(122.8,398.8) rotate(-90)">%Zmiz1</text>
<text x="0" y="0" font-size="9.8" text-anchor="middle" fill="#1a1a1a" stroke="#1a1a1a" stroke-width="0.12" textLength="49.4" lengthAdjust="spacingAndGlyphs" transform="translate(132.2,398.3) rotate(-90)">target genes</text>
<text x="120" y="448.8" font-size="7.2" text-anchor="start" fill="#1a1a1a" stroke="#1a1a1a" stroke-width="0.12" textLength="26" lengthAdjust="spacingAndGlyphs" >Dataset:</text>
<text x="163.5" y="448.8" font-size="7.2" text-anchor="middle" fill="#1a1a1a" stroke="#1a1a1a" stroke-width="0.12" textLength="19" lengthAdjust="spacingAndGlyphs" >ΔTam</text>
<text x="185" y="448.8" font-size="7.2" text-anchor="middle" fill="#1a1a1a" stroke="#1a1a1a" stroke-width="0.12" textLength="19" lengthAdjust="spacingAndGlyphs" >ΔMx1</text>
<text x="163.5" y="457.9" font-size="7.2" text-anchor="middle" fill="#1a1a1a" stroke="#1a1a1a" stroke-width="0.12" textLength="11" lengthAdjust="spacingAndGlyphs" >Cre</text>
<text x="185" y="457.9" font-size="7.2" text-anchor="middle" fill="#1a1a1a" stroke="#1a1a1a" stroke-width="0.12" textLength="11" lengthAdjust="spacingAndGlyphs" >Cre</text>
<circle cx="290.4" cy="364.2" r="34.2" fill="#d8e7cd"/>
<path d="M290.4,364.2 L319.18,382.68 A34.2,34.2 0 0 1 261.62,382.68Z" fill="#e8bdc8" stroke="none" stroke-width="1" />
<path d="M319.18,382.68 L290.4,364.2 L261.62,382.68" fill="none" stroke="#111" stroke-width="1.3" stroke-linejoin="miter"/>
<circle cx="290.4" cy="364.2" r="34.2" fill="none" stroke="#111" stroke-width="1.3"/>
<circle cx="373.3" cy="364.2" r="34.2" fill="#e8bdc8"/>
<path d="M373.3,364.2 L350.68,338.55 A34.2,34.2 0 0 1 395.92,338.55Z" fill="#d8e7cd" stroke="none" stroke-width="1" />
<path d="M350.68,338.55 L373.3,364.2 L395.92,338.55" fill="none" stroke="#111" stroke-width="1.3" stroke-linejoin="miter"/>
<circle cx="373.3" cy="364.2" r="34.2" fill="none" stroke="#111" stroke-width="1.3"/>
<circle cx="455.9" cy="364.9" r="33.6" fill="#d8e7cd"/>
<path d="M422.3,364.9 A33.6,33.6 0 0 0 489.5,364.9Z" fill="#e8bdc8" stroke="none" stroke-width="1" />
<line x1="422.3" y1="365.2" x2="489.5" y2="365.2" stroke="#111" stroke-width="1.3" />
<circle cx="455.9" cy="364.9" r="33.6" fill="none" stroke="#111" stroke-width="1.3"/>
<text x="290.1" y="315.8" font-size="7.7" text-anchor="middle" fill="#1a1a1a" stroke="#1a1a1a" stroke-width="0.12" textLength="29.4" lengthAdjust="spacingAndGlyphs" >ΔTamCre</text>
<text x="290" y="325.2" font-size="7.7" text-anchor="middle" fill="#1a1a1a" stroke="#1a1a1a" stroke-width="0.12" textLength="25.1" lengthAdjust="spacingAndGlyphs" >dataset</text>
<text x="371.1" y="315.8" font-size="7.7" text-anchor="middle" fill="#1a1a1a" stroke="#1a1a1a" stroke-width="0.12" textLength="30" lengthAdjust="spacingAndGlyphs" >ΔMx1Cre</text>
<text x="369" y="325.2" font-size="7.7" text-anchor="middle" fill="#1a1a1a" stroke="#1a1a1a" stroke-width="0.12" textLength="24.5" lengthAdjust="spacingAndGlyphs" >dataset</text>
<text x="291.2" y="359.1" font-size="8" text-anchor="middle" fill="#333" stroke="#333" stroke-width="0.12" textLength="14.5" lengthAdjust="spacingAndGlyphs" >69%</text>
<text x="373.2" y="377.3" font-size="8" text-anchor="middle" fill="#333" stroke="#333" stroke-width="0.12" textLength="14.4" lengthAdjust="spacingAndGlyphs" >77%</text>
<text x="454.8" y="360.4" font-size="8.3" text-anchor="middle" fill="#222" stroke="#222" stroke-width="0.12" textLength="45" lengthAdjust="spacingAndGlyphs" >Cooperativity</text>
<text x="454.8" y="374.2" font-size="8.3" text-anchor="middle" fill="#222" stroke="#222" stroke-width="0.12" textLength="40.4" lengthAdjust="spacingAndGlyphs" >Antagonism</text>
<path d="M239.0,404.5 L506.29999999999995,404.5 Q512.8,404.5 512.8,411.0 L512.8,454.3 Q512.8,460.8 506.29999999999995,460.8 L239.0,460.8 Q232.5,460.8 232.5,454.3 L232.5,411.0 Q232.5,404.5 239.0,404.5Z" fill="none" stroke="#111" stroke-width="1.15" stroke-dasharray="2.2,1.1"/>
<text x="265" y="420" font-size="7.7" text-anchor="middle" fill="#1a1a1a" stroke="#1a1a1a" stroke-width="0.12" textLength="8" lengthAdjust="spacingAndGlyphs" >0h</text>
<text x="262" y="433.6" font-size="7.8" text-anchor="middle" fill="#1a1a1a" stroke="#1a1a1a" stroke-width="0.12" textLength="41.8" lengthAdjust="spacingAndGlyphs" >Induction of</text>
<text x="262.1" y="443.3" font-size="7.8" text-anchor="middle" fill="#1a1a1a" stroke="#1a1a1a" stroke-width="0.12" textLength="49.9" lengthAdjust="spacingAndGlyphs" >Zmiz1 deletion</text>
<line x1="294" y1="435.3" x2="304" y2="435.3" stroke="#111" stroke-width="1.5" />
<path d="M311.3,435.3 L301.5,431.2 L304,435.3 L301.5,439.3Z" fill="#111" stroke="none" stroke-width="1" />
<text x="341.4" y="438" font-size="7.7" text-anchor="middle" fill="#1a1a1a" stroke="#1a1a1a" stroke-width="0.12" textLength="43" lengthAdjust="spacingAndGlyphs" >“Repressor”?</text>
<text x="344.4" y="420.4" font-size="7.7" text-anchor="start" fill="#1a1a1a" stroke="#1a1a1a" stroke-width="0.12" textLength="55.2" lengthAdjust="spacingAndGlyphs" >43-44h after Tam</text>
<line x1="375.2" y1="429.8" x2="375.2" y2="436" stroke="#111" stroke-width="0.9" />
<path d="M373.3,434.5 L375.2,439 L377.1,434.5Z" fill="#111" stroke="none" stroke-width="1" />
<line x1="379.6" y1="435.2" x2="391.2" y2="435.2" stroke="#111" stroke-width="1.1" />
<line x1="391.2" y1="429.8" x2="391.2" y2="439.8" stroke="#111" stroke-width="1.1" />
<line x1="295" y1="447.3" x2="391.2" y2="447.3" stroke="#111" stroke-width="1.1" />
<line x1="391.2" y1="442.4" x2="391.2" y2="451.6" stroke="#111" stroke-width="1.1" />
<text x="340.5" y="456.2" font-size="7.3" text-anchor="middle" fill="#1a1a1a" stroke="#1a1a1a" stroke-width="0.12" >?</text>
<text x="414.9" y="431.8" font-size="7.7" text-anchor="middle" fill="#1a1a1a" stroke="#1a1a1a" stroke-width="0.12" textLength="23.8" lengthAdjust="spacingAndGlyphs" >“Notch</text>
<text x="415" y="441.1" font-size="7.7" text-anchor="middle" fill="#1a1a1a" stroke="#1a1a1a" stroke-width="0.12" textLength="34.7" lengthAdjust="spacingAndGlyphs" >promoting</text>
<text x="414.6" y="450.3" font-size="7.7" text-anchor="middle" fill="#1a1a1a" stroke="#1a1a1a" stroke-width="0.12" textLength="34" lengthAdjust="spacingAndGlyphs" >factor(s)”?</text>
<line x1="439.3" y1="438" x2="439.3" y2="442.8" stroke="#111" stroke-width="1.1" />
<path d="M436.90000000000003,439.3 L439.3,434 L441.7,439.3 L439.3,438.3Z" fill="#111" stroke="none" stroke-width="1" />
<line x1="506.2" y1="438" x2="506.2" y2="442.8" stroke="#111" stroke-width="1.1" />
<path d="M503.8,439.3 L506.2,434 L508.59999999999997,439.3 L506.2,438.3Z" fill="#111" stroke="none" stroke-width="1" />
<line x1="447.1" y1="435.3" x2="458" y2="435.3" stroke="#111" stroke-width="1.5" />
<path d="M464.3,435.3 L454.6,431.3 L457,435.3 L454.6,439.4Z" fill="#111" stroke="none" stroke-width="1" />
<text x="455" y="447.6" font-size="7.3" text-anchor="middle" fill="#1a1a1a" stroke="#1a1a1a" stroke-width="0.12" >?</text>
<text x="444.3" y="420.5" font-size="7.7" text-anchor="start" fill="#1a1a1a" stroke="#1a1a1a" stroke-width="0.12" textLength="55.4" lengthAdjust="spacingAndGlyphs" >8 wks after pI-pC</text>
<text x="485.6" y="432" font-size="7.7" text-anchor="middle" fill="#1a1a1a" stroke="#1a1a1a" stroke-width="0.12" textLength="24.8" lengthAdjust="spacingAndGlyphs" >Certain</text>
<text x="485.8" y="441.7" font-size="7.7" text-anchor="middle" fill="#1a1a1a" stroke="#1a1a1a" stroke-width="0.12" textLength="23" lengthAdjust="spacingAndGlyphs" >Notch1</text>
<text x="486.3" y="451" font-size="7.7" text-anchor="middle" fill="#1a1a1a" stroke="#1a1a1a" stroke-width="0.12" textLength="21.9" lengthAdjust="spacingAndGlyphs" >targets</text>
<rect x="36.2" y="569.3" width="8.25" height="29.57" fill="#a50d37" stroke="none" stroke-width="1" />
<rect x="44.4" y="569.3" width="8.25" height="19.33" fill="#5ba442" stroke="none" stroke-width="1" />
<rect x="52.6" y="569.3" width="8.25" height="23.51" fill="#4c1f66" stroke="none" stroke-width="1" />
<rect x="60.8" y="569.3" width="8.25" height="6.48" fill="#e08a1d" stroke="none" stroke-width="1" />
<rect x="69.0" y="569.3" width="8.25" height="8.15" fill="#253f78" stroke="none" stroke-width="1" />
<rect x="77.2" y="569.3" width="8.25" height="14.73" fill="#dc8aa1" stroke="none" stroke-width="1" />
<rect x="85.4" y="569.3" width="8.25" height="9.72" fill="#9b8dcb" stroke="none" stroke-width="1" />
<rect x="93.6" y="569.3" width="8.25" height="12.54" fill="#6caee5" stroke="none" stroke-width="1" />
<rect x="101.8" y="569.3" width="8.25" height="4.28" fill="#f1b823" stroke="none" stroke-width="1" />
<rect x="122.3" y="537.11" width="8.25" height="32.19" fill="#a50d37" stroke="none" stroke-width="1" />
<rect x="130.5" y="556.03" width="8.25" height="13.27" fill="#5ba442" stroke="none" stroke-width="1" />
<rect x="138.7" y="528.75" width="8.25" height="40.55" fill="#4c1f66" stroke="none" stroke-width="1" />
<rect x="146.9" y="569.3" width="8.25" height="7.73" fill="#e08a1d" stroke="none" stroke-width="1" />
<rect x="155.1" y="569.3" width="8.25" height="1.36" fill="#253f78" stroke="none" stroke-width="1" />
<rect x="163.3" y="556.97" width="8.25" height="12.33" fill="#dc8aa1" stroke="none" stroke-width="1" />
<rect x="171.5" y="561.78" width="8.25" height="7.52" fill="#9b8dcb" stroke="none" stroke-width="1" />
<rect x="179.7" y="554.98" width="8.25" height="14.32" fill="#6caee5" stroke="none" stroke-width="1" />
<rect x="187.9" y="562.72" width="8.25" height="6.58" fill="#f1b823" stroke="none" stroke-width="1" />
<rect x="208.9" y="560.42" width="8.25" height="8.88" fill="#a50d37" stroke="none" stroke-width="1" />
<rect x="217.1" y="569.3" width="8.25" height="1.78" fill="#5ba442" stroke="none" stroke-width="1" />
<rect x="225.3" y="567.73" width="8.25" height="1.57" fill="#4c1f66" stroke="none" stroke-width="1" />
<rect x="233.5" y="566.06" width="8.25" height="3.24" fill="#e08a1d" stroke="none" stroke-width="1" />
<rect x="241.7" y="569.3" width="8.25" height="2.82" fill="#253f78" stroke="none" stroke-width="1" />
<rect x="249.9" y="567.11" width="8.25" height="2.19" fill="#dc8aa1" stroke="none" stroke-width="1" />
<rect x="258.1" y="569.3" width="8.25" height="0.63" fill="#9b8dcb" stroke="none" stroke-width="1" />
<rect x="266.3" y="565.12" width="8.25" height="4.18" fill="#6caee5" stroke="none" stroke-width="1" />
<rect x="274.5" y="569.3" width="8.25" height="0.84" fill="#f1b823" stroke="none" stroke-width="1" />
<line x1="29" y1="525.3" x2="29" y2="603.2" stroke="#1a1a1a" stroke-width="1.1" />
<line x1="26.6" y1="600.65" x2="29" y2="600.65" stroke="#1a1a1a" stroke-width="0.9" />
<text x="23.9" y="603.15" font-size="7.2" text-anchor="end" fill="#1a1a1a" stroke="#1a1a1a" stroke-width="0.12" >-3</text>
<line x1="26.6" y1="590.1999999999999" x2="29" y2="590.1999999999999" stroke="#1a1a1a" stroke-width="0.9" />
<text x="23.9" y="592.6999999999999" font-size="7.2" text-anchor="end" fill="#1a1a1a" stroke="#1a1a1a" stroke-width="0.12" >-2</text>
<line x1="26.6" y1="579.75" x2="29" y2="579.75" stroke="#1a1a1a" stroke-width="0.9" />
<text x="23.9" y="582.25" font-size="7.2" text-anchor="end" fill="#1a1a1a" stroke="#1a1a1a" stroke-width="0.12" >-1</text>
<line x1="26.6" y1="569.3" x2="29" y2="569.3" stroke="#1a1a1a" stroke-width="0.9" />
<text x="23.9" y="571.8" font-size="7.2" text-anchor="end" fill="#1a1a1a" stroke="#1a1a1a" stroke-width="0.12" >0</text>
<line x1="26.6" y1="558.8499999999999" x2="29" y2="558.8499999999999" stroke="#1a1a1a" stroke-width="0.9" />
<text x="23.9" y="561.3499999999999" font-size="7.2" text-anchor="end" fill="#1a1a1a" stroke="#1a1a1a" stroke-width="0.12" >1</text>
<line x1="26.6" y1="548.4" x2="29" y2="548.4" stroke="#1a1a1a" stroke-width="0.9" />
<text x="23.9" y="550.9" font-size="7.2" text-anchor="end" fill="#1a1a1a" stroke="#1a1a1a" stroke-width="0.12" >2</text>
<line x1="26.6" y1="537.9499999999999" x2="29" y2="537.9499999999999" stroke="#1a1a1a" stroke-width="0.9" />
<text x="23.9" y="540.4499999999999" font-size="7.2" text-anchor="end" fill="#1a1a1a" stroke="#1a1a1a" stroke-width="0.12" >3</text>
<line x1="26.6" y1="527.5" x2="29" y2="527.5" stroke="#1a1a1a" stroke-width="0.9" />
<text x="23.9" y="530.0" font-size="7.2" text-anchor="end" fill="#1a1a1a" stroke="#1a1a1a" stroke-width="0.12" >4</text>
<line x1="28.5" y1="569.3" x2="290.5" y2="569.3" stroke="#1a1a1a" stroke-width="1.3" />
<line x1="116.4" y1="569.3" x2="116.4" y2="571.8" stroke="#1a1a1a" stroke-width="0.9" />
<line x1="204.1" y1="569.3" x2="204.1" y2="571.8" stroke="#1a1a1a" stroke-width="0.9" />
<line x1="288.3" y1="569.3" x2="288.3" y2="571.8" stroke="#1a1a1a" stroke-width="0.9" />
<text x="0" y="0" font-size="9.3" text-anchor="middle" fill="#1a1a1a" stroke="#1a1a1a" stroke-width="0.12" textLength="78.2" lengthAdjust="spacingAndGlyphs" transform="translate(13.8,565.2) rotate(-90)">Fold change (LOG2)</text>
<path d="M30.2,515.8 L30.2,512.6 L112.5,512.6 L112.5,515.8" fill="none" stroke="#1a1a1a" stroke-width="0.9" />
<path d="M114.9,515.8 L114.9,512.6 L197.7,512.6 L197.7,515.8" fill="none" stroke="#1a1a1a" stroke-width="0.9" />
<path d="M204.5,515.8 L204.5,512.6 L287.2,512.6 L287.2,515.8" fill="none" stroke="#1a1a1a" stroke-width="0.9" />
<text x="71.4" y="498" font-size="7.5" text-anchor="middle" fill="#1a1a1a" stroke="#1a1a1a" stroke-width="0.12" textLength="43" lengthAdjust="spacingAndGlyphs" >Acute loss of</text>
<text x="71.4" y="507.6" font-size="7.5" text-anchor="middle" fill="#1a1a1a" stroke="#1a1a1a" stroke-width="0.12" textLength="60.5" lengthAdjust="spacingAndGlyphs" >Notch1 (αNotch1)</text>
<text x="156.7" y="498" font-size="7.5" text-anchor="middle" fill="#1a1a1a" stroke="#1a1a1a" stroke-width="0.12" textLength="49" lengthAdjust="spacingAndGlyphs" >Chronic loss of</text>
<text x="156.7" y="507.6" font-size="7.5" text-anchor="middle" fill="#1a1a1a" stroke="#1a1a1a" stroke-width="0.12" textLength="48.5" lengthAdjust="spacingAndGlyphs" >Zmiz1 (Mx1Cre)</text>
<text x="245.6" y="498" font-size="7.5" text-anchor="middle" fill="#1a1a1a" stroke="#1a1a1a" stroke-width="0.12" textLength="43" lengthAdjust="spacingAndGlyphs" >Acute loss of</text>
<text x="245.6" y="507.6" font-size="7.5" text-anchor="middle" fill="#1a1a1a" stroke="#1a1a1a" stroke-width="0.12" textLength="50.5" lengthAdjust="spacingAndGlyphs" >Zmiz1 (TamCre)</text>
<circle cx="40.2" cy="603.80" r="1.0" fill="#262626"/>
<circle cx="40.2" cy="607.00" r="1.0" fill="#262626"/>
<circle cx="40.2" cy="610.20" r="1.0" fill="#262626"/>
<circle cx="40.2" cy="613.40" r="1.0" fill="#262626"/>
<circle cx="48.5" cy="592.40" r="1.0" fill="#262626"/>
<circle cx="48.5" cy="595.60" r="1.0" fill="#262626"/>
<circle cx="48.5" cy="598.80" r="1.0" fill="#262626"/>
<circle cx="48.5" cy="602.00" r="1.0" fill="#262626"/>
<circle cx="56.7" cy="596.20" r="1.0" fill="#262626"/>
<circle cx="56.7" cy="599.40" r="1.0" fill="#262626"/>
<circle cx="56.7" cy="602.60" r="1.0" fill="#262626"/>
<circle cx="56.7" cy="605.80" r="1.0" fill="#262626"/>
<circle cx="65.3" cy="579.00" r="1.0" fill="#262626"/>
<circle cx="73.5" cy="581.60" r="1.0" fill="#262626"/>
<circle cx="73.5" cy="584.80" r="1.0" fill="#262626"/>
<circle cx="73.5" cy="588.00" r="1.0" fill="#262626"/>
<circle cx="73.5" cy="591.20" r="1.0" fill="#262626"/>
<circle cx="81.7" cy="589.30" r="1.0" fill="#262626"/>
<circle cx="81.7" cy="592.50" r="1.0" fill="#262626"/>
<circle cx="81.7" cy="595.70" r="1.0" fill="#262626"/>
<circle cx="81.7" cy="598.90" r="1.0" fill="#262626"/>
<circle cx="89.9" cy="582.80" r="1.0" fill="#262626"/>
<circle cx="89.9" cy="586.00" r="1.0" fill="#262626"/>
<circle cx="89.9" cy="589.20" r="1.0" fill="#262626"/>
<circle cx="89.9" cy="592.40" r="1.0" fill="#262626"/>
<circle cx="98.1" cy="586.50" r="1.0" fill="#262626"/>
<circle cx="98.1" cy="589.70" r="1.0" fill="#262626"/>
<circle cx="98.1" cy="592.90" r="1.0" fill="#262626"/>
<circle cx="98.1" cy="596.10" r="1.0" fill="#262626"/>
<circle cx="106.3" cy="576.20" r="1.0" fill="#262626"/>
<circle cx="126.6" cy="524.80" r="1.0" fill="#262626"/>
<circle cx="126.6" cy="528.00" r="1.0" fill="#262626"/>
<circle cx="126.6" cy="531.20" r="1.0" fill="#262626"/>
<circle cx="126.6" cy="534.40" r="1.0" fill="#262626"/>
<circle cx="134.8" cy="543.50" r="1.0" fill="#262626"/>
<circle cx="134.8" cy="546.70" r="1.0" fill="#262626"/>
<circle cx="134.8" cy="549.90" r="1.0" fill="#262626"/>
<circle cx="134.8" cy="553.10" r="1.0" fill="#262626"/>
<circle cx="143" cy="516.60" r="1.0" fill="#262626"/>
<circle cx="143" cy="519.80" r="1.0" fill="#262626"/>
<circle cx="143" cy="523.00" r="1.0" fill="#262626"/>
<circle cx="143" cy="526.20" r="1.0" fill="#262626"/>
<circle cx="167.5" cy="545.20" r="1.0" fill="#262626"/>
<circle cx="167.5" cy="548.40" r="1.0" fill="#262626"/>
<circle cx="167.5" cy="551.60" r="1.0" fill="#262626"/>
<circle cx="167.5" cy="554.80" r="1.0" fill="#262626"/>
<circle cx="175.7" cy="555.80" r="1.0" fill="#262626"/>
<circle cx="175.7" cy="559.00" r="1.0" fill="#262626"/>
<circle cx="183.9" cy="543.10" r="1.0" fill="#262626"/>
<circle cx="183.9" cy="546.30" r="1.0" fill="#262626"/>
<circle cx="183.9" cy="549.50" r="1.0" fill="#262626"/>
<circle cx="183.9" cy="552.70" r="1.0" fill="#262626"/>
<circle cx="192.3" cy="559.60" r="1.0" fill="#262626"/>
<circle cx="213" cy="548.20" r="1.0" fill="#262626"/>
<circle cx="213" cy="551.40" r="1.0" fill="#262626"/>
<circle cx="213" cy="554.60" r="1.0" fill="#262626"/>
<circle cx="213" cy="557.80" r="1.0" fill="#262626"/>
<line x1="170" y1="591.3" x2="162.92042754732122" y2="578.235634339902" stroke="#a3153f" stroke-width="1.5" />
<path d="M160.3,573.4 L166.03,577.69 L162.83,578.06 L160.76,580.54Z" fill="#a3153f" stroke="none" stroke-width="1" />
<text x="171.3" y="598" font-size="7.8" text-anchor="start" fill="#1a1a1a" stroke="#1a1a1a" stroke-width="0.12" textLength="13.6" lengthAdjust="spacingAndGlyphs" >Myc</text>
<line x1="255.5" y1="594.6" x2="249.0161426194978" y2="581.3408759185236" stroke="#a3153f" stroke-width="1.5" />
<path d="M246.6,576.4 L252.15,580.92 L248.93,581.16 L246.76,583.56Z" fill="#a3153f" stroke="none" stroke-width="1" />
<text x="257" y="600.8" font-size="7.8" text-anchor="start" fill="#1a1a1a" stroke="#1a1a1a" stroke-width="0.12" textLength="13.6" lengthAdjust="spacingAndGlyphs" >Myc</text>
<rect x="101.2" y="618.8" width="4.4" height="4.4" fill="#a50d37" stroke="none" stroke-width="1" />
<text x="108.7" y="623.8" font-size="8" text-anchor="start" fill="#1a1a1a" stroke="#1a1a1a" stroke-width="0.12" textLength="13.5" lengthAdjust="spacingAndGlyphs" >Dtx1</text>
<rect x="101.2" y="630.1999999999999" width="4.4" height="4.4" fill="#5ba442" stroke="none" stroke-width="1" />
<text x="108.7" y="635.1999999999999" font-size="8" text-anchor="start" fill="#1a1a1a" stroke="#1a1a1a" stroke-width="0.12" textLength="12.5" lengthAdjust="spacingAndGlyphs" >Il2ra</text>
<rect x="101.2" y="641.5999999999999" width="4.4" height="4.4" fill="#4c1f66" stroke="none" stroke-width="1" />
<text x="108.7" y="646.5999999999999" font-size="8" text-anchor="start" fill="#1a1a1a" stroke="#1a1a1a" stroke-width="0.12" textLength="15.5" lengthAdjust="spacingAndGlyphs" >Ptcra</text>
<rect x="141.2" y="618.8" width="4.4" height="4.4" fill="#e08a1d" stroke="none" stroke-width="1" />
<text x="148.3" y="623.8" font-size="8" text-anchor="start" fill="#1a1a1a" stroke="#1a1a1a" stroke-width="0.12" textLength="12.5" lengthAdjust="spacingAndGlyphs" >Lef1</text>
<rect x="141.2" y="630.1999999999999" width="4.4" height="4.4" fill="#253f78" stroke="none" stroke-width="1" />
<text x="148.3" y="635.1999999999999" font-size="8" text-anchor="start" fill="#1a1a1a" stroke="#1a1a1a" stroke-width="0.12" textLength="12.3" lengthAdjust="spacingAndGlyphs" >Myc</text>
<rect x="141.2" y="641.5999999999999" width="4.4" height="4.4" fill="#dc8aa1" stroke="none" stroke-width="1" />
<text x="148.3" y="646.5999999999999" font-size="8" text-anchor="start" fill="#1a1a1a" stroke="#1a1a1a" stroke-width="0.12" textLength="22.5" lengthAdjust="spacingAndGlyphs" >Notch3</text>
<rect x="188.5" y="618.8" width="4.4" height="4.4" fill="#9b8dcb" stroke="none" stroke-width="1" />
<text x="195.3" y="623.8" font-size="8" text-anchor="start" fill="#1a1a1a" stroke="#1a1a1a" stroke-width="0.12" textLength="22" lengthAdjust="spacingAndGlyphs" >Notch1</text>
<rect x="188.5" y="630.1999999999999" width="4.4" height="4.4" fill="#6caee5" stroke="none" stroke-width="1" />
<text x="195.3" y="635.1999999999999" font-size="8" text-anchor="start" fill="#1a1a1a" stroke="#1a1a1a" stroke-width="0.12" textLength="14" lengthAdjust="spacingAndGlyphs" >Rag1</text>
<rect x="188.5" y="641.5999999999999" width="4.4" height="4.4" fill="#f1b823" stroke="none" stroke-width="1" />
<text x="195.3" y="646.5999999999999" font-size="8" text-anchor="start" fill="#1a1a1a" stroke="#1a1a1a" stroke-width="0.12" textLength="19.5" lengthAdjust="spacingAndGlyphs" >Bcl11b</text>
<line x1="332.6" y1="484" x2="332.6" y2="569.8" stroke="#1a1a1a" stroke-width="1.1" />
<line x1="330.40000000000003" y1="569.3" x2="332.6" y2="569.3" stroke="#1a1a1a" stroke-width="0.9" />
<text x="326.4" y="571.8" font-size="7.2" text-anchor="end" fill="#1a1a1a" stroke="#1a1a1a" stroke-width="0.12" >0</text>
<line x1="330.40000000000003" y1="557.429" x2="332.6" y2="557.429" stroke="#1a1a1a" stroke-width="0.9" />
<text x="326.4" y="559.929" font-size="7.2" text-anchor="end" fill="#1a1a1a" stroke="#1a1a1a" stroke-width="0.12" >1000</text>
<line x1="330.40000000000003" y1="545.558" x2="332.6" y2="545.558" stroke="#1a1a1a" stroke-width="0.9" />
<text x="326.4" y="548.058" font-size="7.2" text-anchor="end" fill="#1a1a1a" stroke="#1a1a1a" stroke-width="0.12" >2000</text>
<line x1="330.40000000000003" y1="533.6869999999999" x2="332.6" y2="533.6869999999999" stroke="#1a1a1a" stroke-width="0.9" />
<text x="326.4" y="536.1869999999999" font-size="7.2" text-anchor="end" fill="#1a1a1a" stroke="#1a1a1a" stroke-width="0.12" >3000</text>
<line x1="330.40000000000003" y1="521.8159999999999" x2="332.6" y2="521.8159999999999" stroke="#1a1a1a" stroke-width="0.9" />
<text x="326.4" y="524.3159999999999" font-size="7.2" text-anchor="end" fill="#1a1a1a" stroke="#1a1a1a" stroke-width="0.12" >4000</text>
<line x1="330.40000000000003" y1="509.94499999999994" x2="332.6" y2="509.94499999999994" stroke="#1a1a1a" stroke-width="0.9" />
<text x="326.4" y="512.4449999999999" font-size="7.2" text-anchor="end" fill="#1a1a1a" stroke="#1a1a1a" stroke-width="0.12" >5000</text>
<line x1="330.40000000000003" y1="498.07399999999996" x2="332.6" y2="498.07399999999996" stroke="#1a1a1a" stroke-width="0.9" />
<text x="326.4" y="500.57399999999996" font-size="7.2" text-anchor="end" fill="#1a1a1a" stroke="#1a1a1a" stroke-width="0.12" >6000</text>
<line x1="330.40000000000003" y1="486.203" x2="332.6" y2="486.203" stroke="#1a1a1a" stroke-width="0.9" />
<text x="326.4" y="488.703" font-size="7.2" text-anchor="end" fill="#1a1a1a" stroke="#1a1a1a" stroke-width="0.12" >7000</text>
<line x1="332.1" y1="569.3" x2="486.7" y2="569.3" stroke="#1a1a1a" stroke-width="1.3" />
<line x1="357" y1="569.3" x2="357" y2="571.8" stroke="#1a1a1a" stroke-width="0.9" />
<line x1="382.5" y1="569.3" x2="382.5" y2="571.8" stroke="#1a1a1a" stroke-width="0.9" />
<line x1="408" y1="569.3" x2="408" y2="571.8" stroke="#1a1a1a" stroke-width="0.9" />
<line x1="433.5" y1="569.3" x2="433.5" y2="571.8" stroke="#1a1a1a" stroke-width="0.9" />
<line x1="458.5" y1="569.3" x2="458.5" y2="571.8" stroke="#1a1a1a" stroke-width="0.9" />
<line x1="484.2" y1="569.3" x2="484.2" y2="571.8" stroke="#1a1a1a" stroke-width="0.9" />
<text x="344.6" y="582" font-size="7.3" text-anchor="middle" fill="#1a1a1a" stroke="#1a1a1a" stroke-width="0.12" >ETP</text>
<text x="369.6" y="582" font-size="7.3" text-anchor="middle" fill="#1a1a1a" stroke="#1a1a1a" stroke-width="0.12" >DN2a</text>
<text x="395.2" y="582" font-size="7.3" text-anchor="middle" fill="#1a1a1a" stroke="#1a1a1a" stroke-width="0.12" >DN2b</text>
<text x="420.6" y="582" font-size="7.3" text-anchor="middle" fill="#1a1a1a" stroke="#1a1a1a" stroke-width="0.12" >DN3a</text>
<text x="445.4" y="582" font-size="7.3" text-anchor="middle" fill="#1a1a1a" stroke="#1a1a1a" stroke-width="0.12" >DN3b</text>
<text x="471.3" y="582" font-size="7.3" text-anchor="middle" fill="#1a1a1a" stroke="#1a1a1a" stroke-width="0.12" >DN4</text>
<text x="0" y="0" font-size="9.3" text-anchor="middle" fill="#1a1a1a" stroke="#1a1a1a" stroke-width="0.12" textLength="60.7" lengthAdjust="spacingAndGlyphs" transform="translate(302.9,526.2) rotate(-90)">Signal intensity</text>
<path d="M344.6,569 L369.6,569 L395.2,569 L420.6,559.8 L445.4,566.5 L471.3,567.5" fill="none" stroke="#e08a1d" stroke-width="1.5" />
<path d="M344.6,566.1 L347.5,569 L344.6,571.9 L341.70000000000005,569Z" fill="#e08a1d" stroke="none" stroke-width="0" />
<path d="M369.6,566.1 L372.5,569 L369.6,571.9 L366.70000000000005,569Z" fill="#e08a1d" stroke="none" stroke-width="0" />
<path d="M395.2,566.1 L398.09999999999997,569 L395.2,571.9 L392.3,569Z" fill="#e08a1d" stroke="none" stroke-width="0" />
<path d="M420.6,556.9 L423.5,559.8 L420.6,562.6999999999999 L417.70000000000005,559.8Z" fill="#e08a1d" stroke="none" stroke-width="0" />
<path d="M445.4,563.6 L448.29999999999995,566.5 L445.4,569.4 L442.5,566.5Z" fill="#e08a1d" stroke="none" stroke-width="0" />
<path d="M471.3,564.6 L474.2,567.5 L471.3,570.4 L468.40000000000003,567.5Z" fill="#e08a1d" stroke="none" stroke-width="0" />
<path d="M344.6,569 L369.6,569 L395.2,569 L420.6,557.5 L445.4,565.6 L471.3,566.2" fill="none" stroke="#6caee5" stroke-width="1.5" />
<path d="M344.6,565.4 L348.20000000000005,569 L344.6,572.6 L341.0,569Z" fill="#6caee5" stroke="none" stroke-width="0" />
<path d="M369.6,565.4 L373.20000000000005,569 L369.6,572.6 L366.0,569Z" fill="#6caee5" stroke="none" stroke-width="0" />
<path d="M395.2,565.4 L398.8,569 L395.2,572.6 L391.59999999999997,569Z" fill="#6caee5" stroke="none" stroke-width="0" />
<path d="M420.6,553.9 L424.20000000000005,557.5 L420.6,561.1 L417.0,557.5Z" fill="#6caee5" stroke="none" stroke-width="0" />
<path d="M445.4,562.0 L449.0,565.6 L445.4,569.2 L441.79999999999995,565.6Z" fill="#6caee5" stroke="none" stroke-width="0" />
<path d="M471.3,562.6 L474.90000000000003,566.2 L471.3,569.8000000000001 L467.7,566.2Z" fill="#6caee5" stroke="none" stroke-width="0" />
<path d="M344.6,569 L369.6,567.5 L395.2,564.6 L420.6,541.9 L445.4,563 L471.3,566.2" fill="none" stroke="#4c1f66" stroke-width="1.5" />
<path d="M344.6,565.6 L348.0,569 L344.6,572.4 L341.20000000000005,569Z" fill="#4c1f66" stroke="none" stroke-width="0" />
<path d="M369.6,564.1 L373.0,567.5 L369.6,570.9 L366.20000000000005,567.5Z" fill="#4c1f66" stroke="none" stroke-width="0" />
<path d="M395.2,561.2 L398.59999999999997,564.6 L395.2,568.0 L391.8,564.6Z" fill="#4c1f66" stroke="none" stroke-width="0" />
<path d="M420.6,538.5 L424.0,541.9 L420.6,545.3 L417.20000000000005,541.9Z" fill="#4c1f66" stroke="none" stroke-width="0" />
<path d="M445.4,559.6 L448.79999999999995,563 L445.4,566.4 L442.0,563Z" fill="#4c1f66" stroke="none" stroke-width="0" />
<path d="M471.3,562.8000000000001 L474.7,566.2 L471.3,569.6 L467.90000000000003,566.2Z" fill="#4c1f66" stroke="none" stroke-width="0" />
<path d="M344.6,569 L369.6,562.7 L395.2,553.7 L420.6,545.4 L445.4,557.9 L471.3,557.9" fill="none" stroke="#f1b823" stroke-width="1.5" />
<path d="M344.6,565.6 L348.0,569 L344.6,572.4 L341.20000000000005,569Z" fill="#9b90c8" stroke="#f1b823" stroke-width="0.6" />
<path d="M369.6,559.3000000000001 L373.0,562.7 L369.6,566.1 L366.20000000000005,562.7Z" fill="#9b90c8" stroke="#f1b823" stroke-width="0.6" />
<path d="M395.2,550.3000000000001 L398.59999999999997,553.7 L395.2,557.1 L391.8,553.7Z" fill="#9b90c8" stroke="#f1b823" stroke-width="0.6" />
<path d="M420.6,542.0 L424.0,545.4 L420.6,548.8 L417.20000000000005,545.4Z" fill="#9b90c8" stroke="#f1b823" stroke-width="0.6" />
<path d="M445.4,554.5 L448.79999999999995,557.9 L445.4,561.3 L442.0,557.9Z" fill="#9b90c8" stroke="#f1b823" stroke-width="0.6" />
<path d="M471.3,554.5 L474.7,557.9 L471.3,561.3 L467.90000000000003,557.9Z" fill="#9b90c8" stroke="#f1b823" stroke-width="0.6" />
<path d="M344.6,569 L369.6,536.3 L395.2,540 L420.6,523.8 L445.4,553.7 L471.3,568.8" fill="none" stroke="#5ba442" stroke-width="1.5" />
<path d="M344.6,565.2 L348.40000000000003,569 L344.6,572.8 L340.8,569Z" fill="#5ba442" stroke="none" stroke-width="0" />
<path d="M369.6,532.5 L373.40000000000003,536.3 L369.6,540.0999999999999 L365.8,536.3Z" fill="#5ba442" stroke="none" stroke-width="0" />
<path d="M395.2,536.2 L399.0,540 L395.2,543.8 L391.4,540Z" fill="#5ba442" stroke="none" stroke-width="0" />
<path d="M420.6,520.0 L424.40000000000003,523.8 L420.6,527.5999999999999 L416.8,523.8Z" fill="#5ba442" stroke="none" stroke-width="0" />
<path d="M445.4,549.9000000000001 L449.2,553.7 L445.4,557.5 L441.59999999999997,553.7Z" fill="#5ba442" stroke="none" stroke-width="0" />
<path d="M471.3,565.0 L475.1,568.8 L471.3,572.5999999999999 L467.5,568.8Z" fill="#5ba442" stroke="none" stroke-width="0" />
<path d="M344.6,569 L369.6,568.5 L395.2,565.6 L420.6,496.9 L445.4,546 L471.3,536.2" fill="none" stroke="#b0123f" stroke-width="1.5" />
<path d="M344.6,564.9 L348.70000000000005,569 L344.6,573.1 L340.5,569Z" fill="#b0123f" stroke="none" stroke-width="0" />
<path d="M369.6,564.4 L373.70000000000005,568.5 L369.6,572.6 L365.5,568.5Z" fill="#b0123f" stroke="none" stroke-width="0" />
<path d="M395.2,561.5 L399.3,565.6 L395.2,569.7 L391.09999999999997,565.6Z" fill="#b0123f" stroke="none" stroke-width="0" />
<path d="M420.6,492.79999999999995 L424.70000000000005,496.9 L420.6,501.0 L416.5,496.9Z" fill="#b0123f" stroke="none" stroke-width="0" />
<path d="M445.4,541.9 L449.5,546 L445.4,550.1 L441.29999999999995,546Z" fill="#b0123f" stroke="none" stroke-width="0" />
<path d="M471.3,532.1 L475.40000000000003,536.2 L471.3,540.3000000000001 L467.2,536.2Z" fill="#b0123f" stroke="none" stroke-width="0" />
<path d="M344.6,536.3 L369.6,539.6 L395.2,540.2 L420.6,500.2 L445.4,536.2 L471.3,550.2" fill="none" stroke="#2b4a85" stroke-width="1.5" />
<path d="M344.6,531.9 L349.0,536.3 L344.6,540.6999999999999 L340.20000000000005,536.3Z" fill="#2b4a85" stroke="none" stroke-width="0" />
<path d="M369.6,535.2 L374.0,539.6 L369.6,544.0 L365.20000000000005,539.6Z" fill="#2b4a85" stroke="none" stroke-width="0" />
<path d="M395.2,535.8000000000001 L399.59999999999997,540.2 L395.2,544.6 L390.8,540.2Z" fill="#2b4a85" stroke="none" stroke-width="0" />
<path d="M420.6,495.8 L425.0,500.2 L420.6,504.59999999999997 L416.20000000000005,500.2Z" fill="#2b4a85" stroke="none" stroke-width="0" />
<path d="M445.4,531.8000000000001 L449.79999999999995,536.2 L445.4,540.6 L441.0,536.2Z" fill="#2b4a85" stroke="none" stroke-width="0" />
<path d="M471.3,545.8000000000001 L475.7,550.2 L471.3,554.6 L466.90000000000003,550.2Z" fill="#2b4a85" stroke="none" stroke-width="0" />
<path d="M344.6,566.0 L347.6,569 L344.6,572.0 L341.6,569Z" fill="#9b90c8" stroke="#e08a1d" stroke-width="0.7" />
<text x="354.7" y="599.6" font-size="7.8" text-anchor="middle" fill="#1a1a1a" stroke="#1a1a1a" stroke-width="0.12" textLength="49" lengthAdjust="spacingAndGlyphs" >Direct Notch1</text>
<text x="353.1" y="609.2" font-size="7.8" text-anchor="middle" fill="#1a1a1a" stroke="#1a1a1a" stroke-width="0.12" textLength="41.8" lengthAdjust="spacingAndGlyphs" >target genes</text>
<line x1="385.4" y1="597.2" x2="401" y2="597.2" stroke="#e08a1d" stroke-width="1.5" />
<path d="M393.2,594.9000000000001 L395.5,597.2 L393.2,599.5 L390.9,597.2Z" fill="#e08a1d" stroke="none" stroke-width="0" />
<text x="404.3" y="599.7" font-size="7.8" text-anchor="start" fill="#1a1a1a" stroke="#1a1a1a" stroke-width="0.12" textLength="14.4" lengthAdjust="spacingAndGlyphs" >Dtx1</text>
<line x1="385.4" y1="608.2" x2="401" y2="608.2" stroke="#4c1f66" stroke-width="1.5" />
<path d="M393.2,605.9000000000001 L395.5,608.2 L393.2,610.5 L390.9,608.2Z" fill="#4c1f66" stroke="none" stroke-width="0" />
<text x="404.3" y="610.7" font-size="7.8" text-anchor="start" fill="#1a1a1a" stroke="#1a1a1a" stroke-width="0.12" textLength="23.1" lengthAdjust="spacingAndGlyphs" >Notch3</text>
<line x1="385.4" y1="619.2" x2="401" y2="619.2" stroke="#6caee5" stroke-width="1.5" />
<path d="M393.2,616.9000000000001 L395.5,619.2 L393.2,621.5 L390.9,619.2Z" fill="#6caee5" stroke="none" stroke-width="0" />
<text x="404.3" y="621.7" font-size="7.8" text-anchor="start" fill="#1a1a1a" stroke="#1a1a1a" stroke-width="0.12" textLength="15.9" lengthAdjust="spacingAndGlyphs" >Ptcra</text>
<line x1="385.4" y1="630.2" x2="401" y2="630.2" stroke="#b0123f" stroke-width="1.5" />
<path d="M393.2,627.9000000000001 L395.5,630.2 L393.2,632.5 L390.9,630.2Z" fill="#b0123f" stroke="none" stroke-width="0" />
<text x="404.3" y="632.7" font-size="7.8" text-anchor="start" fill="#1a1a1a" stroke="#1a1a1a" stroke-width="0.12" textLength="15" lengthAdjust="spacingAndGlyphs" >Rag1</text>
<line x1="444" y1="597.2" x2="459.4" y2="597.2" stroke="#5ba442" stroke-width="1.5" />
<path d="M451.7,594.9000000000001 L454.0,597.2 L451.7,599.5 L449.4,597.2Z" fill="#5ba442" stroke="none" stroke-width="0" />
<text x="462.3" y="599.7" font-size="7.8" text-anchor="start" fill="#1a1a1a" stroke="#1a1a1a" stroke-width="0.12" textLength="13.5" lengthAdjust="spacingAndGlyphs" >Il2ra</text>
<line x1="444" y1="608.2" x2="459.4" y2="608.2" stroke="#2b4a85" stroke-width="1.5" />
<path d="M451.7,605.9000000000001 L454.0,608.2 L451.7,610.5 L449.4,608.2Z" fill="#2b4a85" stroke="none" stroke-width="0" />
<text x="462.3" y="610.7" font-size="7.8" text-anchor="start" fill="#1a1a1a" stroke="#1a1a1a" stroke-width="0.12" textLength="23.5" lengthAdjust="spacingAndGlyphs" >Notch1</text>
<line x1="444" y1="619.2" x2="459.4" y2="619.2" stroke="#f1b823" stroke-width="1.5" />
<path d="M451.7,616.9000000000001 L454.0,619.2 L451.7,621.5 L449.4,619.2Z" fill="#9b90c8" stroke="none" stroke-width="0" />
<text x="462.3" y="621.7" font-size="7.8" text-anchor="start" fill="#1a1a1a" stroke="#1a1a1a" stroke-width="0.12" textLength="21" lengthAdjust="spacingAndGlyphs" >Bcl11b</text>
</svg></body></html>
